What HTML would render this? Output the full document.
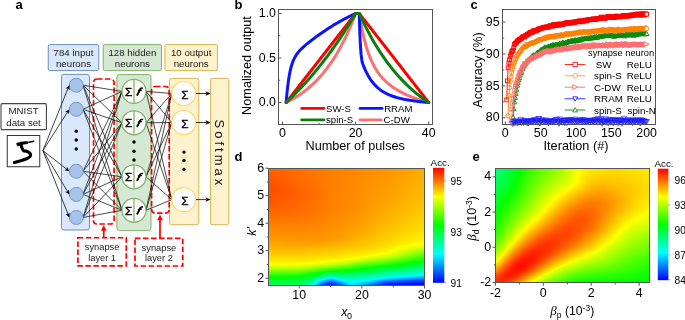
<!DOCTYPE html>
<html><head><meta charset="utf-8">
<style>
html,body{margin:0;padding:0;background:#fff;}
body{width:685px;height:320px;position:relative;overflow:hidden;font-family:"Liberation Sans", sans-serif;}
#mapd{position:absolute;left:268px;top:168px;width:157px;height:118px;
 background:linear-gradient(to bottom,#ff8500 0.8%,#ff8400 9.3%,#ff8300 17.8%,#ff8600 26.3%,#ff8d00 34.7%,#ff9700 43.2%,#ffa400 51.7%,#ffb400 60.2%,#f7d300 68.6%,#eae400 72.9%,#c7f400 77.1%,#88ff04 81.4%,#39ff20 85.6%,#0bff64 89.8%,#00dcb8 94.1%,#0089d4 98.3%);}
#mape{position:absolute;left:495px;top:168px;width:155px;height:115px;
 background:linear-gradient(135deg,#00ff6b 0%,#00ff29 8.3%,#31ff00 16.7%,#91ff00 25%,#fcff00 33.3%,#ffc900 37.5%,#ff9200 41.7%,#ff6900 45.8%,#ff5300 50%,#ff5700 54.2%,#ff7400 58.3%,#ffa200 62.5%,#ffd900 66.7%,#efff00 70.8%,#baff00 75%,#66ff00 83.3%,#28ff00 91.7%,#00ff00 100%);}
svg text{font-family:"Liberation Sans", sans-serif;}
</style></head><body>
<canvas id="mapd" width="157" height="118"></canvas>
<canvas id="mape" width="155" height="115"></canvas>
<svg width="685" height="320" viewBox="0 0 685 320" style="position:absolute;left:0;top:0">
<defs><linearGradient id="cmap" x1="0" y1="0" x2="0" y2="1">
<stop offset="0" stop-color="#ff0000"/><stop offset="0.25" stop-color="#ffff00"/><stop offset="0.5" stop-color="#00ff00"/><stop offset="0.75" stop-color="#00ffff"/><stop offset="1" stop-color="#0000ff"/>
</linearGradient></defs>
<text x="15.6" y="9.1" font-size="13" font-weight="bold">a</text>
<rect x="48.25" y="44.6" width="50.5" height="26" rx="1.5" fill="#dae8fc" stroke="#6c8ebf" stroke-width="1"/>
<text x="73.5" y="56.3" font-size="9.7" text-anchor="middle" fill="#222">784 input</text>
<text x="73.5" y="66.9" font-size="9.7" text-anchor="middle" fill="#222">neurons</text>
<rect x="103.25" y="44.6" width="58.25" height="26" rx="1.5" fill="#d5e8d4" stroke="#82b366" stroke-width="1"/>
<text x="132.38" y="56.3" font-size="9.7" text-anchor="middle" fill="#222">128 hidden</text>
<text x="132.38" y="66.9" font-size="9.7" text-anchor="middle" fill="#222">neurons</text>
<rect x="164.9" y="44.6" width="52.5" height="26" rx="1.5" fill="#fff2cc" stroke="#d6b656" stroke-width="1"/>
<text x="191.15" y="56.3" font-size="9.7" text-anchor="middle" fill="#222">10 output</text>
<text x="191.15" y="66.9" font-size="9.7" text-anchor="middle" fill="#222">neurons</text>
<rect x="61.5" y="74.4" width="28" height="155.6" rx="2.5" fill="#dae8fc" stroke="#6c8ebf" stroke-width="1"/>
<rect x="116.9" y="74.6" width="34.1" height="156" rx="2.5" fill="#d5e8d4" stroke="#82b366" stroke-width="1"/>
<rect x="169.5" y="78.4" width="29.3" height="146.3" rx="2" fill="#fff2cc" stroke="#d6b656" stroke-width="1"/>
<rect x="210.6" y="78.4" width="18.2" height="146.3" rx="1.5" fill="#fff2cc" stroke="#d6b656" stroke-width="1"/>
<rect x="93.5" y="79" width="20.6" height="145" rx="3.5" fill="none" stroke="#ff0000" stroke-width="1.7" stroke-dasharray="5.5 2.5"/>
<rect x="151.6" y="86.5" width="17.6" height="126.6" rx="3.5" fill="none" stroke="#ff0000" stroke-width="1.7" stroke-dasharray="5.5 2.5"/>
<line x1="83" y1="85.2" x2="122" y2="91.4" stroke="#111" stroke-width="0.75"/>
<line x1="83" y1="85.2" x2="122" y2="122.8" stroke="#111" stroke-width="0.75"/>
<line x1="83" y1="85.2" x2="122" y2="176.8" stroke="#111" stroke-width="0.75"/>
<line x1="83" y1="85.2" x2="122" y2="210.3" stroke="#111" stroke-width="0.75"/>
<line x1="83" y1="109.3" x2="122" y2="91.4" stroke="#111" stroke-width="0.75"/>
<line x1="83" y1="109.3" x2="122" y2="122.8" stroke="#111" stroke-width="0.75"/>
<line x1="83" y1="109.3" x2="122" y2="176.8" stroke="#111" stroke-width="0.75"/>
<line x1="83" y1="109.3" x2="122" y2="210.3" stroke="#111" stroke-width="0.75"/>
<line x1="83" y1="171.25" x2="122" y2="91.4" stroke="#111" stroke-width="0.75"/>
<line x1="83" y1="171.25" x2="122" y2="122.8" stroke="#111" stroke-width="0.75"/>
<line x1="83" y1="171.25" x2="122" y2="176.8" stroke="#111" stroke-width="0.75"/>
<line x1="83" y1="171.25" x2="122" y2="210.3" stroke="#111" stroke-width="0.75"/>
<line x1="83" y1="194.4" x2="122" y2="91.4" stroke="#111" stroke-width="0.75"/>
<line x1="83" y1="194.4" x2="122" y2="122.8" stroke="#111" stroke-width="0.75"/>
<line x1="83" y1="194.4" x2="122" y2="176.8" stroke="#111" stroke-width="0.75"/>
<line x1="83" y1="194.4" x2="122" y2="210.3" stroke="#111" stroke-width="0.75"/>
<line x1="83" y1="217.5" x2="122" y2="91.4" stroke="#111" stroke-width="0.75"/>
<line x1="83" y1="217.5" x2="122" y2="122.8" stroke="#111" stroke-width="0.75"/>
<line x1="83" y1="217.5" x2="122" y2="176.8" stroke="#111" stroke-width="0.75"/>
<line x1="83" y1="217.5" x2="122" y2="210.3" stroke="#111" stroke-width="0.75"/>
<line x1="146" y1="91.4" x2="171.8" y2="93.5" stroke="#111" stroke-width="0.75"/>
<line x1="146" y1="91.4" x2="171.8" y2="122.5" stroke="#111" stroke-width="0.75"/>
<line x1="146" y1="91.4" x2="171.8" y2="199.6" stroke="#111" stroke-width="0.75"/>
<line x1="146" y1="122.8" x2="171.8" y2="93.5" stroke="#111" stroke-width="0.75"/>
<line x1="146" y1="122.8" x2="171.8" y2="122.5" stroke="#111" stroke-width="0.75"/>
<line x1="146" y1="122.8" x2="171.8" y2="199.6" stroke="#111" stroke-width="0.75"/>
<line x1="146" y1="176.8" x2="171.8" y2="93.5" stroke="#111" stroke-width="0.75"/>
<line x1="146" y1="176.8" x2="171.8" y2="122.5" stroke="#111" stroke-width="0.75"/>
<line x1="146" y1="176.8" x2="171.8" y2="199.6" stroke="#111" stroke-width="0.75"/>
<line x1="146" y1="210.3" x2="171.8" y2="93.5" stroke="#111" stroke-width="0.75"/>
<line x1="146" y1="210.3" x2="171.8" y2="122.5" stroke="#111" stroke-width="0.75"/>
<line x1="146" y1="210.3" x2="171.8" y2="199.6" stroke="#111" stroke-width="0.75"/>
<circle cx="76.3" cy="85.2" r="7" fill="#a6c3e9" stroke="#6c8ebf" stroke-width="0.9"/>
<circle cx="76.3" cy="109.3" r="7" fill="#a6c3e9" stroke="#6c8ebf" stroke-width="0.9"/>
<circle cx="76.3" cy="171.25" r="7" fill="#a6c3e9" stroke="#6c8ebf" stroke-width="0.9"/>
<circle cx="76.3" cy="194.4" r="7" fill="#a6c3e9" stroke="#6c8ebf" stroke-width="0.9"/>
<circle cx="76.3" cy="217.5" r="7" fill="#a6c3e9" stroke="#6c8ebf" stroke-width="0.9"/>
<circle cx="76.25" cy="131.25" r="1.7" fill="#000"/>
<circle cx="76.25" cy="140" r="1.7" fill="#000"/>
<circle cx="76.25" cy="149" r="1.7" fill="#000"/>
<circle cx="134" cy="91.4" r="12" fill="#fff" stroke="#82b366" stroke-width="1.3"/>
<line x1="134" y1="79.4" x2="134" y2="103.4" stroke="#82b366" stroke-width="1.3"/>
<text x="128.55" y="95.7" font-size="11.6" text-anchor="middle" stroke="#000" stroke-width="0.45">&#931;</text>
<path d="M137.3 94.9 C138.3 93.6 139.3 90.8 140.2 89.1 C140.8 88.1 141.6 87.8 142.5 88.1 M138.5 90.5 L141.3 90.2" fill="none" stroke="#000" stroke-width="1.45" stroke-linecap="round"/>
<path d="M137.3 94.9 C138.3 93.6 139.3 90.8 140.2 89.1" fill="none" stroke="#000" stroke-width="1.65" stroke-linecap="round"/>
<circle cx="134" cy="122.8" r="12" fill="#fff" stroke="#82b366" stroke-width="1.3"/>
<line x1="134" y1="110.8" x2="134" y2="134.8" stroke="#82b366" stroke-width="1.3"/>
<text x="128.55" y="127.1" font-size="11.6" text-anchor="middle" stroke="#000" stroke-width="0.45">&#931;</text>
<path d="M137.3 126.3 C138.3 125 139.3 122.2 140.2 120.5 C140.8 119.5 141.6 119.2 142.5 119.5 M138.5 121.9 L141.3 121.6" fill="none" stroke="#000" stroke-width="1.45" stroke-linecap="round"/>
<path d="M137.3 126.3 C138.3 125 139.3 122.2 140.2 120.5" fill="none" stroke="#000" stroke-width="1.65" stroke-linecap="round"/>
<circle cx="134" cy="176.8" r="12" fill="#fff" stroke="#82b366" stroke-width="1.3"/>
<line x1="134" y1="164.8" x2="134" y2="188.8" stroke="#82b366" stroke-width="1.3"/>
<text x="128.55" y="181.1" font-size="11.6" text-anchor="middle" stroke="#000" stroke-width="0.45">&#931;</text>
<path d="M137.3 180.3 C138.3 179 139.3 176.2 140.2 174.5 C140.8 173.5 141.6 173.2 142.5 173.5 M138.5 175.9 L141.3 175.6" fill="none" stroke="#000" stroke-width="1.45" stroke-linecap="round"/>
<path d="M137.3 180.3 C138.3 179 139.3 176.2 140.2 174.5" fill="none" stroke="#000" stroke-width="1.65" stroke-linecap="round"/>
<circle cx="134" cy="210.3" r="12" fill="#fff" stroke="#82b366" stroke-width="1.3"/>
<line x1="134" y1="198.3" x2="134" y2="222.3" stroke="#82b366" stroke-width="1.3"/>
<text x="128.55" y="214.6" font-size="11.6" text-anchor="middle" stroke="#000" stroke-width="0.45">&#931;</text>
<path d="M137.3 213.8 C138.3 212.5 139.3 209.7 140.2 208 C140.8 207 141.6 206.7 142.5 207 M138.5 209.4 L141.3 209.1" fill="none" stroke="#000" stroke-width="1.45" stroke-linecap="round"/>
<path d="M137.3 213.8 C138.3 212.5 139.3 209.7 140.2 208" fill="none" stroke="#000" stroke-width="1.65" stroke-linecap="round"/>
<circle cx="134" cy="142" r="1.7" fill="#000"/>
<circle cx="134" cy="151.25" r="1.7" fill="#000"/>
<circle cx="134" cy="160" r="1.7" fill="#000"/>
<circle cx="183.8" cy="93.5" r="12" fill="#fff" stroke="#ffd966" stroke-width="1.2"/>
<text x="184.9" y="98.8" font-size="11.8" text-anchor="middle" stroke="#000" stroke-width="0.3">&#931;</text>
<line x1="196" y1="93.5" x2="206.5" y2="93.5" stroke="#000" stroke-width="0.8"/>
<path d="M210.6 93.5 L205.6 91.3 L206.6 93.5 L205.6 95.7 Z" fill="#000"/>
<circle cx="183.8" cy="122.5" r="12" fill="#fff" stroke="#ffd966" stroke-width="1.2"/>
<text x="184.9" y="127.8" font-size="11.8" text-anchor="middle" stroke="#000" stroke-width="0.3">&#931;</text>
<line x1="196" y1="122.5" x2="206.5" y2="122.5" stroke="#000" stroke-width="0.8"/>
<path d="M210.6 122.5 L205.6 120.3 L206.6 122.5 L205.6 124.7 Z" fill="#000"/>
<circle cx="183.8" cy="199.6" r="12" fill="#fff" stroke="#ffd966" stroke-width="1.2"/>
<text x="184.9" y="204.9" font-size="11.8" text-anchor="middle" stroke="#000" stroke-width="0.3">&#931;</text>
<line x1="196" y1="199.6" x2="206.5" y2="199.6" stroke="#000" stroke-width="0.8"/>
<path d="M210.6 199.6 L205.6 197.4 L206.6 199.6 L205.6 201.79999999999998 Z" fill="#000"/>
<circle cx="184" cy="152.1" r="1.7" fill="#000"/>
<circle cx="184" cy="160.5" r="1.7" fill="#000"/>
<circle cx="184" cy="169.5" r="1.7" fill="#000"/>
<text transform="translate(215.1 119.6) rotate(90)" font-size="13" letter-spacing="3" fill="#111">Softmax</text>
<rect x="1" y="103.6" width="45.4" height="26" rx="1.2" fill="#fff" stroke="#444" stroke-width="1.1"/>
<text x="23.6" y="114.4" font-size="9.7" text-anchor="middle" fill="#222">MNIST</text>
<text x="23.6" y="125.6" font-size="9.7" text-anchor="middle" fill="#222">data set</text>
<rect x="7.25" y="135.5" width="32.5" height="31.25" fill="#fff" stroke="#333" stroke-width="1"/>
<path d="M16.6 143.3 L21.5 142 L27.6 141.5 L28 143.4 L22 144.6 L17.4 146.1 Z" fill="#000" stroke="#000" stroke-width="0.6" stroke-linejoin="round"/>
<path d="M28.9 142.3 L33.8 141.2" fill="none" stroke="#000" stroke-width="1.4" stroke-linecap="round"/>
<path d="M21.1 144.8 C21.6 147.2 22.2 149.6 23.6 150.9 C27 150.8 30.8 152.6 30.6 155.4 C30.4 158 24 160 14.4 162.5" fill="none" stroke="#000" stroke-width="3.05" stroke-linecap="round" stroke-linejoin="round"/>
<line x1="42.9" y1="150.6" x2="67.92" y2="88.63" stroke="#111" stroke-width="0.8"/>
<path d="M69.3 85.2 L69.56 90.16 L67.99 88.45 L65.67 88.59 Z" fill="#000"/>
<line x1="42.9" y1="150.6" x2="67.31" y2="112.42" stroke="#111" stroke-width="0.8"/>
<path d="M69.3 109.3 L68.65 114.22 L67.41 112.25 L65.11 111.96 Z" fill="#000"/>
<line x1="42.9" y1="150.6" x2="66.39" y2="168.97" stroke="#111" stroke-width="0.8"/>
<path d="M69.3 171.25 L64.46 170.13 L66.54 169.09 L67.05 166.82 Z" fill="#000"/>
<line x1="42.9" y1="150.6" x2="67.39" y2="191.23" stroke="#111" stroke-width="0.8"/>
<path d="M69.3 194.4 L65.18 191.63 L67.49 191.4 L68.78 189.46 Z" fill="#000"/>
<line x1="42.9" y1="150.6" x2="67.94" y2="214.06" stroke="#111" stroke-width="0.8"/>
<path d="M69.3 217.5 L65.69 214.08 L68.02 214.24 L69.6 212.54 Z" fill="#000"/>
<rect x="77.9" y="237.75" width="48.4" height="28.2" fill="none" stroke="#ff0000" stroke-width="1.7" stroke-dasharray="5.5 2.5"/>
<text x="102.1" y="250.3" font-size="9.3" text-anchor="middle" fill="#222">synapse</text>
<text x="102.1" y="260.8" font-size="9.3" text-anchor="middle" fill="#222">layer 1</text>
<rect x="135" y="238.4" width="47.75" height="27.6" fill="none" stroke="#ff0000" stroke-width="1.7" stroke-dasharray="5.5 2.5"/>
<text x="158.9" y="251" font-size="9.3" text-anchor="middle" fill="#222">synapse</text>
<text x="158.9" y="261.4" font-size="9.3" text-anchor="middle" fill="#222">layer 2</text>
<line x1="103.75" y1="237.75" x2="103.75" y2="229.5" stroke="#ff0000" stroke-width="1.7"/>
<path d="M103.75 225.2 L100.9 230.8 L106.6 230.8 Z" fill="#ff0000"/>
<line x1="160" y1="238.4" x2="160" y2="219" stroke="#ff0000" stroke-width="1.7"/>
<path d="M160 214.6 L157.15 220.2 L162.85 220.2 Z" fill="#ff0000"/>
<text x="234.5" y="9.3" font-size="13" font-weight="bold">b</text>
<rect x="278.5" y="9.5" width="154" height="115" fill="none" stroke="#555" stroke-width="1"/>
<line x1="278.5" y1="102.5" x2="281.5" y2="102.5" stroke="#555" stroke-width="1"/>
<text x="276" y="106.1" font-size="12.4" text-anchor="end">0.0</text>
<line x1="278.5" y1="58" x2="281.5" y2="58" stroke="#555" stroke-width="1"/>
<text x="276" y="61.6" font-size="12.4" text-anchor="end">0.5</text>
<line x1="278.5" y1="13.5" x2="281.5" y2="13.5" stroke="#555" stroke-width="1"/>
<text x="276" y="17.1" font-size="12.4" text-anchor="end">1.0</text>
<line x1="278.5" y1="80.25" x2="280.2" y2="80.25" stroke="#555" stroke-width="1"/>
<line x1="278.5" y1="35.75" x2="280.2" y2="35.75" stroke="#555" stroke-width="1"/>
<line x1="282.5" y1="124.5" x2="282.5" y2="121.5" stroke="#555" stroke-width="1"/>
<text x="282.5" y="136.9" font-size="12.4" text-anchor="middle">0</text>
<line x1="355.6" y1="124.5" x2="355.6" y2="121.5" stroke="#555" stroke-width="1"/>
<text x="355.6" y="136.9" font-size="12.4" text-anchor="middle">20</text>
<line x1="428.7" y1="124.5" x2="428.7" y2="121.5" stroke="#555" stroke-width="1"/>
<text x="428.7" y="136.9" font-size="12.4" text-anchor="middle">40</text>
<line x1="319.05" y1="124.5" x2="319.05" y2="122.8" stroke="#555" stroke-width="1"/>
<line x1="392.15" y1="124.5" x2="392.15" y2="122.8" stroke="#555" stroke-width="1"/>
<text transform="translate(251.3 65.5) rotate(-90)" font-size="12.7" text-anchor="middle">Nomalized output</text>
<text x="355.2" y="149.9" font-size="12.7" text-anchor="middle">Number of pulses</text>
<polyline points="286.15,102.5 286.89,102.14 287.62,101.78 288.35,101.4 289.08,101.02 289.81,100.64 290.54,100.25 291.27,99.85 292,99.44 292.73,99.02 293.46,98.6 294.2,98.17 294.93,97.73 295.66,97.29 296.39,96.84 297.12,96.38 297.85,95.91 298.58,95.43 299.31,94.94 300.04,94.44 300.77,93.94 301.51,93.43 302.24,92.9 302.97,92.37 303.7,91.83 304.43,91.28 305.16,90.71 305.89,90.14 306.62,89.56 307.35,88.97 308.08,88.36 308.82,87.75 309.55,87.12 310.28,86.49 311.01,85.84 311.74,85.18 312.47,84.51 313.2,83.82 313.93,83.13 314.66,82.42 315.39,81.7 316.13,80.96 316.86,80.21 317.59,79.45 318.32,78.68 319.05,77.89 319.78,77.08 320.51,76.27 321.24,75.43 321.97,74.58 322.7,73.72 323.44,72.84 324.17,71.95 324.9,71.04 325.63,70.11 326.36,69.17 327.09,68.2 327.82,67.23 328.55,66.23 329.28,65.22 330.01,64.18 330.75,63.13 331.48,62.06 332.21,60.97 332.94,59.86 333.67,58.74 334.4,57.59 335.13,56.42 335.86,55.22 336.59,54.01 337.32,52.78 338.06,51.52 338.79,50.24 339.52,48.94 340.25,47.61 340.98,46.26 341.71,44.89 342.44,43.49 343.17,42.06 343.9,40.61 344.63,39.13 345.37,37.63 346.1,36.1 346.83,34.54 347.56,32.96 348.29,31.34 349.02,29.7 349.75,28.02 350.48,26.32 351.21,24.59 351.94,22.82 352.68,21.02 353.41,19.19 354.14,17.33 354.87,15.43 355.6,13.5 359.25,13.5 359.99,18.03 360.72,22.25 361.45,26.18 362.18,29.86 362.91,33.3 363.64,36.52 364.37,39.53 365.1,42.35 365.83,45 366.56,47.48 367.3,49.82 368.03,52.01 368.76,54.08 369.49,56.03 370.22,57.88 370.95,59.62 371.68,61.26 372.41,62.82 373.14,64.3 373.88,65.7 374.61,67.03 375.34,68.3 376.07,69.5 376.8,70.66 377.53,71.75 378.26,72.8 378.99,73.81 379.72,74.77 380.45,75.69 381.19,76.57 381.92,77.42 382.65,78.24 383.38,79.02 384.11,79.78 384.84,80.51 385.57,81.22 386.3,81.9 387.03,82.56 387.76,83.19 388.5,83.81 389.23,84.41 389.96,84.99 390.69,85.56 391.42,86.1 392.15,86.64 392.88,87.15 393.61,87.66 394.34,88.15 395.07,88.63 395.81,89.09 396.54,89.55 397.27,89.99 398,90.42 398.73,90.85 399.46,91.26 400.19,91.66 400.92,92.06 401.65,92.44 402.38,92.82 403.12,93.19 403.85,93.55 404.58,93.91 405.31,94.25 406.04,94.59 406.77,94.93 407.5,95.25 408.23,95.57 408.96,95.89 409.69,96.2 410.43,96.5 411.16,96.79 411.89,97.09 412.62,97.37 413.35,97.65 414.08,97.93 414.81,98.2 415.54,98.46 416.27,98.72 417,98.98 417.74,99.23 418.47,99.47 419.2,99.71 419.93,99.95 420.66,100.19 421.39,100.42 422.12,100.64 422.85,100.86 423.58,101.08 424.31,101.29 425.04,101.5 425.78,101.71 426.51,101.91 427.24,102.11 427.97,102.31 428.7,102.5" fill="none" stroke="#ff6f6f" stroke-width="3" stroke-linejoin="round" stroke-linecap="round"/>
<polyline points="286.15,102.5 286.89,94.11 287.62,87.19 288.35,81.45 289.08,76.68 289.81,72.69 290.54,69.34 291.27,66.49 292,64.07 292.73,61.98 293.46,60.17 294.2,58.58 294.93,57.17 295.66,55.91 296.39,54.78 297.12,53.74 297.85,52.78 298.58,51.89 299.31,51.05 300.04,50.25 300.77,49.5 301.51,48.77 302.24,48.07 302.97,47.39 303.7,46.73 304.43,46.08 305.16,45.45 305.89,44.82 306.62,44.21 307.35,43.61 308.08,43.01 308.82,42.42 309.55,41.84 310.28,41.27 311.01,40.7 311.74,40.13 312.47,39.57 313.2,39.01 313.93,38.46 314.66,37.92 315.39,37.37 316.13,36.84 316.86,36.3 317.59,35.77 318.32,35.25 319.05,34.72 319.78,34.21 320.51,33.69 321.24,33.18 321.97,32.67 322.7,32.17 323.44,31.67 324.17,31.18 324.9,30.69 325.63,30.2 326.36,29.72 327.09,29.24 327.82,28.76 328.55,28.29 329.28,27.82 330.01,27.36 330.75,26.9 331.48,26.44 332.21,25.99 332.94,25.54 333.67,25.09 334.4,24.65 335.13,24.21 335.86,23.78 336.59,23.35 337.32,22.92 338.06,22.5 338.79,22.08 339.52,21.67 340.25,21.26 340.98,20.85 341.71,20.45 342.44,20.05 343.17,19.65 343.9,19.26 344.63,18.87 345.37,18.48 346.1,18.1 346.83,17.73 347.56,17.35 348.29,16.99 349.02,16.62 349.75,16.26 350.48,15.9 351.21,15.55 351.94,15.2 352.68,14.85 353.41,14.51 354.14,14.17 354.87,13.83 355.6,13.5 359.25,13.5 359.8,32.26 360.35,44.48 361.08,54.42 361.81,60.04 362.36,62.58 362.91,64.23 363.64,66.11 364.37,67.88 365.1,69.55 365.83,71.14 366.56,72.63 367.3,74.04 368.03,75.38 368.76,76.64 369.49,77.84 370.22,78.97 370.95,80.05 371.68,81.06 372.41,82.03 373.14,82.94 373.88,83.81 374.61,84.63 375.34,85.41 376.07,86.16 376.8,86.86 377.53,87.53 378.26,88.17 378.99,88.78 379.72,89.36 380.45,89.91 381.19,90.43 381.92,90.93 382.65,91.41 383.38,91.87 384.11,92.3 384.84,92.72 385.57,93.12 386.3,93.5 387.03,93.86 387.76,94.21 388.5,94.54 389.23,94.86 389.96,95.17 390.69,95.46 391.42,95.74 392.15,96.02 392.88,96.28 393.61,96.53 394.34,96.77 395.07,97 395.81,97.22 396.54,97.44 397.27,97.64 398,97.84 398.73,98.04 399.46,98.22 400.19,98.4 400.92,98.58 401.65,98.74 402.38,98.91 403.12,99.06 403.85,99.22 404.58,99.36 405.31,99.51 406.04,99.64 406.77,99.78 407.5,99.91 408.23,100.03 408.96,100.16 409.69,100.28 410.43,100.39 411.16,100.5 411.89,100.61 412.62,100.72 413.35,100.82 414.08,100.92 414.81,101.02 415.54,101.12 416.27,101.21 417,101.3 417.74,101.39 418.47,101.48 419.2,101.56 419.93,101.64 420.66,101.72 421.39,101.8 422.12,101.88 422.85,101.95 423.58,102.03 424.31,102.1 425.04,102.17 425.78,102.24 426.51,102.31 427.24,102.37 427.97,102.44 428.7,102.5" fill="none" stroke="#0a14ff" stroke-width="3" stroke-linejoin="round" stroke-linecap="round"/>
<polyline points="286.15,102.5 286.89,101.56 287.62,100.63 288.35,99.69 289.08,98.75 289.81,97.82 290.54,96.88 291.27,95.94 292,95.01 292.73,94.07 293.46,93.13 294.2,92.19 294.93,91.26 295.66,90.32 296.39,89.38 297.12,88.45 297.85,87.51 298.58,86.57 299.31,85.64 300.04,84.7 300.77,83.76 301.51,82.83 302.24,81.89 302.97,80.95 303.7,80.02 304.43,79.08 305.16,78.14 305.89,77.21 306.62,76.27 307.35,75.33 308.08,74.39 308.82,73.46 309.55,72.52 310.28,71.58 311.01,70.65 311.74,69.71 312.47,68.77 313.2,67.84 313.93,66.9 314.66,65.96 315.39,65.03 316.13,64.09 316.86,63.15 317.59,62.22 318.32,61.28 319.05,60.34 319.78,59.41 320.51,58.47 321.24,57.53 321.97,56.59 322.7,55.66 323.44,54.72 324.17,53.78 324.9,52.85 325.63,51.91 326.36,50.97 327.09,50.04 327.82,49.1 328.55,48.16 329.28,47.23 330.01,46.29 330.75,45.35 331.48,44.42 332.21,43.48 332.94,42.54 333.67,41.61 334.4,40.67 335.13,39.73 335.86,38.79 336.59,37.86 337.32,36.92 338.06,35.98 338.79,35.05 339.52,34.11 340.25,33.17 340.98,32.24 341.71,31.3 342.44,30.36 343.17,29.43 343.9,28.49 344.63,27.55 345.37,26.62 346.1,25.68 346.83,24.74 347.56,23.81 348.29,22.87 349.02,21.93 349.75,20.99 350.48,20.06 351.21,19.12 351.94,18.18 352.68,17.25 353.41,16.31 354.14,15.37 354.87,14.44 355.6,13.5 359.25,13.5 359.99,14.44 360.72,15.37 361.45,16.31 362.18,17.25 362.91,18.18 363.64,19.12 364.37,20.06 365.1,20.99 365.83,21.93 366.56,22.87 367.3,23.81 368.03,24.74 368.76,25.68 369.49,26.62 370.22,27.55 370.95,28.49 371.68,29.43 372.41,30.36 373.14,31.3 373.88,32.24 374.61,33.17 375.34,34.11 376.07,35.05 376.8,35.98 377.53,36.92 378.26,37.86 378.99,38.79 379.72,39.73 380.45,40.67 381.19,41.61 381.92,42.54 382.65,43.48 383.38,44.42 384.11,45.35 384.84,46.29 385.57,47.23 386.3,48.16 387.03,49.1 387.76,50.04 388.5,50.97 389.23,51.91 389.96,52.85 390.69,53.78 391.42,54.72 392.15,55.66 392.88,56.59 393.61,57.53 394.34,58.47 395.07,59.41 395.81,60.34 396.54,61.28 397.27,62.22 398,63.15 398.73,64.09 399.46,65.03 400.19,65.96 400.92,66.9 401.65,67.84 402.38,68.77 403.12,69.71 403.85,70.65 404.58,71.58 405.31,72.52 406.04,73.46 406.77,74.39 407.5,75.33 408.23,76.27 408.96,77.21 409.69,78.14 410.43,79.08 411.16,80.02 411.89,80.95 412.62,81.89 413.35,82.83 414.08,83.76 414.81,84.7 415.54,85.64 416.27,86.57 417,87.51 417.74,88.45 418.47,89.38 419.2,90.32 419.93,91.26 420.66,92.19 421.39,93.13 422.12,94.07 422.85,95.01 423.58,95.94 424.31,96.88 425.04,97.82 425.78,98.75 426.51,99.69 427.24,100.63 427.97,101.56 428.7,102.5" fill="none" stroke="#ff0000" stroke-width="3" stroke-linejoin="round" stroke-linecap="round"/>
<polyline points="286.15,102.5 286.89,101.81 287.62,101.12 288.35,100.43 289.08,99.73 289.81,99.03 290.54,98.32 291.27,97.61 292,96.89 292.73,96.17 293.46,95.44 294.2,94.71 294.93,93.98 295.66,93.24 296.39,92.49 297.12,91.74 297.85,90.99 298.58,90.23 299.31,89.47 300.04,88.7 300.77,87.92 301.51,87.15 302.24,86.36 302.97,85.57 303.7,84.78 304.43,83.98 305.16,83.18 305.89,82.37 306.62,81.56 307.35,80.74 308.08,79.92 308.82,79.09 309.55,78.25 310.28,77.41 311.01,76.57 311.74,75.72 312.47,74.86 313.2,74 313.93,73.14 314.66,72.26 315.39,71.39 316.13,70.5 316.86,69.61 317.59,68.72 318.32,67.82 319.05,66.91 319.78,66 320.51,65.09 321.24,64.16 321.97,63.23 322.7,62.3 323.44,61.36 324.17,60.41 324.9,59.46 325.63,58.5 326.36,57.54 327.09,56.57 327.82,55.59 328.55,54.61 329.28,53.62 330.01,52.62 330.75,51.62 331.48,50.61 332.21,49.6 332.94,48.58 333.67,47.55 334.4,46.51 335.13,45.47 335.86,44.43 336.59,43.37 337.32,42.31 338.06,41.24 338.79,40.17 339.52,39.09 340.25,38 340.98,36.91 341.71,35.81 342.44,34.7 343.17,33.58 343.9,32.46 344.63,31.33 345.37,30.19 346.1,29.05 346.83,27.9 347.56,26.74 348.29,25.57 349.02,24.4 349.75,23.22 350.48,22.03 351.21,20.84 351.94,19.63 352.68,18.42 353.41,17.2 354.14,15.98 354.87,14.74 355.6,13.5 359.25,13.5 359.99,15.1 360.72,16.68 361.45,18.24 362.18,19.78 362.91,21.3 363.64,22.8 364.37,24.28 365.1,25.74 365.83,27.19 366.56,28.61 367.3,30.02 368.03,31.41 368.76,32.79 369.49,34.14 370.22,35.48 370.95,36.81 371.68,38.11 372.41,39.4 373.14,40.68 373.88,41.93 374.61,43.17 375.34,44.4 376.07,45.61 376.8,46.81 377.53,47.99 378.26,49.15 378.99,50.3 379.72,51.44 380.45,52.56 381.19,53.67 381.92,54.77 382.65,55.85 383.38,56.91 384.11,57.97 384.84,59.01 385.57,60.04 386.3,61.05 387.03,62.05 387.76,63.04 388.5,64.02 389.23,64.98 389.96,65.93 390.69,66.88 391.42,67.8 392.15,68.72 392.88,69.63 393.61,70.52 394.34,71.4 395.07,72.28 395.81,73.14 396.54,73.99 397.27,74.83 398,75.65 398.73,76.47 399.46,77.28 400.19,78.08 400.92,78.87 401.65,79.65 402.38,80.41 403.12,81.17 403.85,81.92 404.58,82.66 405.31,83.39 406.04,84.11 406.77,84.83 407.5,85.53 408.23,86.22 408.96,86.91 409.69,87.59 410.43,88.26 411.16,88.92 411.89,89.57 412.62,90.21 413.35,90.85 414.08,91.47 414.81,92.09 415.54,92.71 416.27,93.31 417,93.91 417.74,94.5 418.47,95.08 419.2,95.65 419.93,96.22 420.66,96.78 421.39,97.34 422.12,97.88 422.85,98.42 423.58,98.95 424.31,99.48 425.04,100 425.78,100.51 426.51,101.02 427.24,101.52 427.97,102.01 428.7,102.5" fill="none" stroke="#0a800a" stroke-width="3" stroke-linejoin="round" stroke-linecap="round"/>
<line x1="301.6" y1="108.4" x2="324.0" y2="108.4" stroke="#ff0000" stroke-width="2.6" stroke-linecap="round"/>
<text x="326" y="111.7" font-size="9.6">SW-S</text>
<line x1="359.9" y1="108.4" x2="382.2" y2="108.4" stroke="#0a14ff" stroke-width="2.6" stroke-linecap="round"/>
<text x="384.2" y="111.7" font-size="9.6">RRAM</text>
<line x1="301.6" y1="119.9" x2="324.0" y2="119.9" stroke="#0a800a" stroke-width="2.6" stroke-linecap="round"/>
<text x="326" y="123.0" font-size="9.6">spin-S</text>
<line x1="359.9" y1="119.9" x2="381.3" y2="119.9" stroke="#ff6f6f" stroke-width="2.6" stroke-linecap="round"/>
<text x="383.6" y="123.0" font-size="9.6">C-DW</text>
<text x="470.6" y="9" font-size="13" font-weight="bold">c</text>
<svg x="500" y="7" width="158" height="120" overflow="hidden"><g transform="translate(-500 -7)">
<polyline points="513.07,116.94 513.78,108.79 514.49,101.95 515.2,97.58 515.9,93.76 516.61,89.6 517.32,85.4 518.02,82.88 518.73,79.93 519.44,77.75 520.14,75.27 520.85,73.06 521.56,72 522.26,69.07 522.97,67.5 523.68,65.85 524.38,65.23 525.09,63.71 525.8,62.61 526.5,61.73 527.21,60.71 527.92,60.22 528.62,59.34 529.33,59.25 530.04,58.23 530.74,57.62 531.45,57.53 532.16,55.92 532.87,55.91 533.57,55.1 534.28,55.41 534.99,54.97 535.69,54.22 536.4,53.55 537.11,52.67 537.81,52.31 538.52,52.09 539.23,51.81 539.93,51.11 540.64,49.84 541.35,50.26 542.05,49.32 542.76,48.77 543.47,49.17 544.17,48.04 544.88,47.04 545.59,48.3 546.29,47.33 547,47.03 547.71,47.14 548.41,46.35 549.12,46.4 549.83,46.83 550.54,45.62 551.24,45.5 551.95,45.19 552.66,44.78 553.36,45.08 554.07,45.01 554.78,45.47 555.48,44.44 556.19,44.82 556.9,44.58 557.6,44.78 558.31,44.48 559.02,44.12 559.72,43.15 560.43,44.47 561.14,44.06 561.84,43.15 562.55,42.46 563.26,42.7 563.96,43.66 564.67,43.79 565.38,42.36 566.08,42.68 566.79,42.7 567.5,41.6 568.21,41.39 568.91,41.66 569.62,41.47 570.33,41.23 571.03,40.57 571.74,40.86 572.45,40.76 573.15,40.6 573.86,41.4 574.57,39.99 575.27,39.99 575.98,40.05 576.69,41.04 577.39,40.31 578.1,39.52 578.81,40.58 579.51,39.73 580.22,39.07 580.93,39.99 581.63,38.56 582.34,38.92 583.05,39.11 583.75,38.78 584.46,38.52 585.17,38.64 585.88,38.07 586.58,38.76 587.29,38.54 588,37.78 588.7,38.12 589.41,38.42 590.12,37.49 590.82,37.15 591.53,37.9 592.24,38.21 592.94,37.55 593.65,37.45 594.36,37.41 595.06,36.55 595.77,37.53 596.48,36.41 597.18,37.44 597.89,37.12 598.6,36.39 599.3,36.07 600.01,36.1 600.72,36.23 601.42,36.22 602.13,36.12 602.84,35.84 603.55,36.08 604.25,35.79 604.96,35.56 605.67,35.78 606.37,35.41 607.08,35.47 607.79,34.79 608.49,35.51 609.2,35.82 609.91,35.76 610.61,35.57 611.32,35.12 612.03,35.65 612.73,35.3 613.44,34.62 614.15,36.56 614.85,35.88 615.56,35.24 616.27,35.15 616.97,35.19 617.68,35.46 618.39,34.94 619.09,35.08 619.8,35.41 620.51,34.04 621.22,34.92 621.92,35.28 622.63,35.03 623.34,35.04 624.04,34.92 624.75,36.06 625.46,35.01 626.16,34.3 626.87,35.22 627.58,34.69 628.28,34.19 628.99,34.18 629.7,33.85 630.4,35.23 631.11,34.59 631.82,34.54 632.52,34.06 633.23,33.81 633.94,35.45 634.64,33.72 635.35,34.81 636.06,33.82 636.76,34.75 637.47,33.96 638.18,33.46 638.89,34.02 639.59,33.83 640.3,33.51 641.01,33.77 641.71,33.83 642.42,33.06 643.13,33.24 643.83,33.8 644.54,32.4 645.25,34.1 645.95,33.18 646.66,33.7" fill="none" stroke="#0a8a0a" stroke-width="0.9"/>
<path d="M513.07 114.66 L510.79 118.76 L515.35 118.76 Z" fill="none" stroke="#0a8a0a" stroke-width="0.9"/>
<path d="M513.78 106.51 L511.5 110.62 L516.06 110.62 Z" fill="none" stroke="#0a8a0a" stroke-width="0.9"/>
<path d="M514.49 99.67 L512.21 103.77 L516.77 103.77 Z" fill="none" stroke="#0a8a0a" stroke-width="0.9"/>
<path d="M515.2 95.3 L512.92 99.41 L517.48 99.41 Z" fill="none" stroke="#0a8a0a" stroke-width="0.9"/>
<path d="M515.9 91.48 L513.62 95.58 L518.18 95.58 Z" fill="none" stroke="#0a8a0a" stroke-width="0.9"/>
<path d="M516.61 87.32 L514.33 91.42 L518.89 91.42 Z" fill="none" stroke="#0a8a0a" stroke-width="0.9"/>
<path d="M517.32 83.12 L515.04 87.23 L519.6 87.23 Z" fill="none" stroke="#0a8a0a" stroke-width="0.9"/>
<path d="M518.02 80.6 L515.74 84.71 L520.3 84.71 Z" fill="none" stroke="#0a8a0a" stroke-width="0.9"/>
<path d="M518.73 77.65 L516.45 81.76 L521.01 81.76 Z" fill="none" stroke="#0a8a0a" stroke-width="0.9"/>
<path d="M519.44 75.47 L517.16 79.57 L521.72 79.57 Z" fill="none" stroke="#0a8a0a" stroke-width="0.9"/>
<path d="M520.14 72.99 L517.86 77.09 L522.42 77.09 Z" fill="none" stroke="#0a8a0a" stroke-width="0.9"/>
<path d="M520.85 70.78 L518.57 74.88 L523.13 74.88 Z" fill="none" stroke="#0a8a0a" stroke-width="0.9"/>
<path d="M521.56 69.72 L519.28 73.83 L523.84 73.83 Z" fill="none" stroke="#0a8a0a" stroke-width="0.9"/>
<path d="M522.26 66.79 L519.98 70.9 L524.54 70.9 Z" fill="none" stroke="#0a8a0a" stroke-width="0.9"/>
<path d="M522.97 65.22 L520.69 69.33 L525.25 69.33 Z" fill="none" stroke="#0a8a0a" stroke-width="0.9"/>
<path d="M523.68 63.57 L521.4 67.67 L525.96 67.67 Z" fill="none" stroke="#0a8a0a" stroke-width="0.9"/>
<path d="M524.38 62.95 L522.1 67.05 L526.66 67.05 Z" fill="none" stroke="#0a8a0a" stroke-width="0.9"/>
<path d="M525.09 61.43 L522.81 65.53 L527.37 65.53 Z" fill="none" stroke="#0a8a0a" stroke-width="0.9"/>
<path d="M525.8 60.33 L523.52 64.44 L528.08 64.44 Z" fill="none" stroke="#0a8a0a" stroke-width="0.9"/>
<path d="M526.5 59.45 L524.22 63.55 L528.78 63.55 Z" fill="none" stroke="#0a8a0a" stroke-width="0.9"/>
<path d="M527.21 58.43 L524.93 62.54 L529.49 62.54 Z" fill="none" stroke="#0a8a0a" stroke-width="0.9"/>
<path d="M527.92 57.94 L525.64 62.05 L530.2 62.05 Z" fill="none" stroke="#0a8a0a" stroke-width="0.9"/>
<path d="M528.62 57.06 L526.34 61.16 L530.9 61.16 Z" fill="none" stroke="#0a8a0a" stroke-width="0.9"/>
<path d="M529.33 56.97 L527.05 61.07 L531.61 61.07 Z" fill="none" stroke="#0a8a0a" stroke-width="0.9"/>
<path d="M530.04 55.95 L527.76 60.05 L532.32 60.05 Z" fill="none" stroke="#0a8a0a" stroke-width="0.9"/>
<path d="M530.74 55.34 L528.46 59.44 L533.02 59.44 Z" fill="none" stroke="#0a8a0a" stroke-width="0.9"/>
<path d="M531.45 55.25 L529.17 59.35 L533.73 59.35 Z" fill="none" stroke="#0a8a0a" stroke-width="0.9"/>
<path d="M532.16 53.64 L529.88 57.74 L534.44 57.74 Z" fill="none" stroke="#0a8a0a" stroke-width="0.9"/>
<path d="M532.87 53.63 L530.59 57.73 L535.15 57.73 Z" fill="none" stroke="#0a8a0a" stroke-width="0.9"/>
<path d="M533.57 52.82 L531.29 56.93 L535.85 56.93 Z" fill="none" stroke="#0a8a0a" stroke-width="0.9"/>
<path d="M534.28 53.13 L532 57.23 L536.56 57.23 Z" fill="none" stroke="#0a8a0a" stroke-width="0.9"/>
<path d="M534.99 52.69 L532.71 56.79 L537.27 56.79 Z" fill="none" stroke="#0a8a0a" stroke-width="0.9"/>
<path d="M535.69 51.94 L533.41 56.04 L537.97 56.04 Z" fill="none" stroke="#0a8a0a" stroke-width="0.9"/>
<path d="M536.4 51.27 L534.12 55.37 L538.68 55.37 Z" fill="none" stroke="#0a8a0a" stroke-width="0.9"/>
<path d="M537.11 50.39 L534.83 54.5 L539.39 54.5 Z" fill="none" stroke="#0a8a0a" stroke-width="0.9"/>
<path d="M537.81 50.03 L535.53 54.13 L540.09 54.13 Z" fill="none" stroke="#0a8a0a" stroke-width="0.9"/>
<path d="M538.52 49.81 L536.24 53.92 L540.8 53.92 Z" fill="none" stroke="#0a8a0a" stroke-width="0.9"/>
<path d="M539.23 49.53 L536.95 53.63 L541.51 53.63 Z" fill="none" stroke="#0a8a0a" stroke-width="0.9"/>
<path d="M539.93 48.83 L537.65 52.93 L542.21 52.93 Z" fill="none" stroke="#0a8a0a" stroke-width="0.9"/>
<path d="M540.64 47.56 L538.36 51.66 L542.92 51.66 Z" fill="none" stroke="#0a8a0a" stroke-width="0.9"/>
<path d="M541.35 47.98 L539.07 52.09 L543.63 52.09 Z" fill="none" stroke="#0a8a0a" stroke-width="0.9"/>
<path d="M542.05 47.04 L539.77 51.14 L544.33 51.14 Z" fill="none" stroke="#0a8a0a" stroke-width="0.9"/>
<path d="M542.76 46.49 L540.48 50.6 L545.04 50.6 Z" fill="none" stroke="#0a8a0a" stroke-width="0.9"/>
<path d="M543.47 46.89 L541.19 51 L545.75 51 Z" fill="none" stroke="#0a8a0a" stroke-width="0.9"/>
<path d="M544.17 45.76 L541.89 49.86 L546.45 49.86 Z" fill="none" stroke="#0a8a0a" stroke-width="0.9"/>
<path d="M544.88 44.76 L542.6 48.86 L547.16 48.86 Z" fill="none" stroke="#0a8a0a" stroke-width="0.9"/>
<path d="M545.59 46.02 L543.31 50.13 L547.87 50.13 Z" fill="none" stroke="#0a8a0a" stroke-width="0.9"/>
<path d="M546.29 45.05 L544.01 49.16 L548.57 49.16 Z" fill="none" stroke="#0a8a0a" stroke-width="0.9"/>
<path d="M547 44.75 L544.72 48.85 L549.28 48.85 Z" fill="none" stroke="#0a8a0a" stroke-width="0.9"/>
<path d="M547.71 44.86 L545.43 48.97 L549.99 48.97 Z" fill="none" stroke="#0a8a0a" stroke-width="0.9"/>
<path d="M548.41 44.07 L546.13 48.18 L550.69 48.18 Z" fill="none" stroke="#0a8a0a" stroke-width="0.9"/>
<path d="M549.12 44.12 L546.84 48.23 L551.4 48.23 Z" fill="none" stroke="#0a8a0a" stroke-width="0.9"/>
<path d="M549.83 44.55 L547.55 48.66 L552.11 48.66 Z" fill="none" stroke="#0a8a0a" stroke-width="0.9"/>
<path d="M550.54 43.34 L548.26 47.44 L552.82 47.44 Z" fill="none" stroke="#0a8a0a" stroke-width="0.9"/>
<path d="M551.24 43.22 L548.96 47.32 L553.52 47.32 Z" fill="none" stroke="#0a8a0a" stroke-width="0.9"/>
<path d="M551.95 42.91 L549.67 47.01 L554.23 47.01 Z" fill="none" stroke="#0a8a0a" stroke-width="0.9"/>
<path d="M552.66 42.5 L550.38 46.61 L554.94 46.61 Z" fill="none" stroke="#0a8a0a" stroke-width="0.9"/>
<path d="M553.36 42.8 L551.08 46.91 L555.64 46.91 Z" fill="none" stroke="#0a8a0a" stroke-width="0.9"/>
<path d="M554.07 42.73 L551.79 46.84 L556.35 46.84 Z" fill="none" stroke="#0a8a0a" stroke-width="0.9"/>
<path d="M554.78 43.19 L552.5 47.29 L557.06 47.29 Z" fill="none" stroke="#0a8a0a" stroke-width="0.9"/>
<path d="M555.48 42.16 L553.2 46.27 L557.76 46.27 Z" fill="none" stroke="#0a8a0a" stroke-width="0.9"/>
<path d="M556.19 42.54 L553.91 46.64 L558.47 46.64 Z" fill="none" stroke="#0a8a0a" stroke-width="0.9"/>
<path d="M556.9 42.3 L554.62 46.4 L559.18 46.4 Z" fill="none" stroke="#0a8a0a" stroke-width="0.9"/>
<path d="M557.6 42.5 L555.32 46.6 L559.88 46.6 Z" fill="none" stroke="#0a8a0a" stroke-width="0.9"/>
<path d="M558.31 42.2 L556.03 46.3 L560.59 46.3 Z" fill="none" stroke="#0a8a0a" stroke-width="0.9"/>
<path d="M559.02 41.84 L556.74 45.95 L561.3 45.95 Z" fill="none" stroke="#0a8a0a" stroke-width="0.9"/>
<path d="M559.72 40.87 L557.44 44.97 L562 44.97 Z" fill="none" stroke="#0a8a0a" stroke-width="0.9"/>
<path d="M560.43 42.19 L558.15 46.3 L562.71 46.3 Z" fill="none" stroke="#0a8a0a" stroke-width="0.9"/>
<path d="M561.14 41.78 L558.86 45.89 L563.42 45.89 Z" fill="none" stroke="#0a8a0a" stroke-width="0.9"/>
<path d="M561.84 40.87 L559.56 44.97 L564.12 44.97 Z" fill="none" stroke="#0a8a0a" stroke-width="0.9"/>
<path d="M562.55 40.18 L560.27 44.28 L564.83 44.28 Z" fill="none" stroke="#0a8a0a" stroke-width="0.9"/>
<path d="M563.26 40.42 L560.98 44.52 L565.54 44.52 Z" fill="none" stroke="#0a8a0a" stroke-width="0.9"/>
<path d="M563.96 41.38 L561.68 45.48 L566.24 45.48 Z" fill="none" stroke="#0a8a0a" stroke-width="0.9"/>
<path d="M564.67 41.51 L562.39 45.61 L566.95 45.61 Z" fill="none" stroke="#0a8a0a" stroke-width="0.9"/>
<path d="M565.38 40.08 L563.1 44.18 L567.66 44.18 Z" fill="none" stroke="#0a8a0a" stroke-width="0.9"/>
<path d="M566.08 40.4 L563.8 44.51 L568.36 44.51 Z" fill="none" stroke="#0a8a0a" stroke-width="0.9"/>
<path d="M566.79 40.42 L564.51 44.52 L569.07 44.52 Z" fill="none" stroke="#0a8a0a" stroke-width="0.9"/>
<path d="M567.5 39.32 L565.22 43.43 L569.78 43.43 Z" fill="none" stroke="#0a8a0a" stroke-width="0.9"/>
<path d="M568.21 39.11 L565.93 43.22 L570.49 43.22 Z" fill="none" stroke="#0a8a0a" stroke-width="0.9"/>
<path d="M568.91 39.38 L566.63 43.48 L571.19 43.48 Z" fill="none" stroke="#0a8a0a" stroke-width="0.9"/>
<path d="M569.62 39.19 L567.34 43.29 L571.9 43.29 Z" fill="none" stroke="#0a8a0a" stroke-width="0.9"/>
<path d="M570.33 38.95 L568.05 43.06 L572.61 43.06 Z" fill="none" stroke="#0a8a0a" stroke-width="0.9"/>
<path d="M571.03 38.29 L568.75 42.39 L573.31 42.39 Z" fill="none" stroke="#0a8a0a" stroke-width="0.9"/>
<path d="M571.74 38.58 L569.46 42.68 L574.02 42.68 Z" fill="none" stroke="#0a8a0a" stroke-width="0.9"/>
<path d="M572.45 38.48 L570.17 42.58 L574.73 42.58 Z" fill="none" stroke="#0a8a0a" stroke-width="0.9"/>
<path d="M573.15 38.32 L570.87 42.42 L575.43 42.42 Z" fill="none" stroke="#0a8a0a" stroke-width="0.9"/>
<path d="M573.86 39.12 L571.58 43.23 L576.14 43.23 Z" fill="none" stroke="#0a8a0a" stroke-width="0.9"/>
<path d="M574.57 37.71 L572.29 41.81 L576.85 41.81 Z" fill="none" stroke="#0a8a0a" stroke-width="0.9"/>
<path d="M575.27 37.71 L572.99 41.82 L577.55 41.82 Z" fill="none" stroke="#0a8a0a" stroke-width="0.9"/>
<path d="M575.98 37.77 L573.7 41.87 L578.26 41.87 Z" fill="none" stroke="#0a8a0a" stroke-width="0.9"/>
<path d="M576.69 38.76 L574.41 42.86 L578.97 42.86 Z" fill="none" stroke="#0a8a0a" stroke-width="0.9"/>
<path d="M577.39 38.03 L575.11 42.13 L579.67 42.13 Z" fill="none" stroke="#0a8a0a" stroke-width="0.9"/>
<path d="M578.1 37.24 L575.82 41.35 L580.38 41.35 Z" fill="none" stroke="#0a8a0a" stroke-width="0.9"/>
<path d="M578.81 38.3 L576.53 42.41 L581.09 42.41 Z" fill="none" stroke="#0a8a0a" stroke-width="0.9"/>
<path d="M579.51 37.45 L577.23 41.56 L581.79 41.56 Z" fill="none" stroke="#0a8a0a" stroke-width="0.9"/>
<path d="M580.22 36.79 L577.94 40.89 L582.5 40.89 Z" fill="none" stroke="#0a8a0a" stroke-width="0.9"/>
<path d="M580.93 37.71 L578.65 41.81 L583.21 41.81 Z" fill="none" stroke="#0a8a0a" stroke-width="0.9"/>
<path d="M581.63 36.28 L579.35 40.39 L583.91 40.39 Z" fill="none" stroke="#0a8a0a" stroke-width="0.9"/>
<path d="M582.34 36.64 L580.06 40.74 L584.62 40.74 Z" fill="none" stroke="#0a8a0a" stroke-width="0.9"/>
<path d="M583.05 36.83 L580.77 40.94 L585.33 40.94 Z" fill="none" stroke="#0a8a0a" stroke-width="0.9"/>
<path d="M583.75 36.5 L581.47 40.61 L586.03 40.61 Z" fill="none" stroke="#0a8a0a" stroke-width="0.9"/>
<path d="M584.46 36.24 L582.18 40.34 L586.74 40.34 Z" fill="none" stroke="#0a8a0a" stroke-width="0.9"/>
<path d="M585.17 36.36 L582.89 40.46 L587.45 40.46 Z" fill="none" stroke="#0a8a0a" stroke-width="0.9"/>
<path d="M585.88 35.79 L583.6 39.89 L588.16 39.89 Z" fill="none" stroke="#0a8a0a" stroke-width="0.9"/>
<path d="M586.58 36.48 L584.3 40.59 L588.86 40.59 Z" fill="none" stroke="#0a8a0a" stroke-width="0.9"/>
<path d="M587.29 36.26 L585.01 40.36 L589.57 40.36 Z" fill="none" stroke="#0a8a0a" stroke-width="0.9"/>
<path d="M588 35.5 L585.72 39.6 L590.28 39.6 Z" fill="none" stroke="#0a8a0a" stroke-width="0.9"/>
<path d="M588.7 35.84 L586.42 39.94 L590.98 39.94 Z" fill="none" stroke="#0a8a0a" stroke-width="0.9"/>
<path d="M589.41 36.14 L587.13 40.24 L591.69 40.24 Z" fill="none" stroke="#0a8a0a" stroke-width="0.9"/>
<path d="M590.12 35.21 L587.84 39.31 L592.4 39.31 Z" fill="none" stroke="#0a8a0a" stroke-width="0.9"/>
<path d="M590.82 34.87 L588.54 38.97 L593.1 38.97 Z" fill="none" stroke="#0a8a0a" stroke-width="0.9"/>
<path d="M591.53 35.62 L589.25 39.72 L593.81 39.72 Z" fill="none" stroke="#0a8a0a" stroke-width="0.9"/>
<path d="M592.24 35.93 L589.96 40.03 L594.52 40.03 Z" fill="none" stroke="#0a8a0a" stroke-width="0.9"/>
<path d="M592.94 35.27 L590.66 39.37 L595.22 39.37 Z" fill="none" stroke="#0a8a0a" stroke-width="0.9"/>
<path d="M593.65 35.17 L591.37 39.27 L595.93 39.27 Z" fill="none" stroke="#0a8a0a" stroke-width="0.9"/>
<path d="M594.36 35.13 L592.08 39.24 L596.64 39.24 Z" fill="none" stroke="#0a8a0a" stroke-width="0.9"/>
<path d="M595.06 34.27 L592.78 38.37 L597.34 38.37 Z" fill="none" stroke="#0a8a0a" stroke-width="0.9"/>
<path d="M595.77 35.25 L593.49 39.36 L598.05 39.36 Z" fill="none" stroke="#0a8a0a" stroke-width="0.9"/>
<path d="M596.48 34.13 L594.2 38.23 L598.76 38.23 Z" fill="none" stroke="#0a8a0a" stroke-width="0.9"/>
<path d="M597.18 35.16 L594.9 39.26 L599.46 39.26 Z" fill="none" stroke="#0a8a0a" stroke-width="0.9"/>
<path d="M597.89 34.84 L595.61 38.95 L600.17 38.95 Z" fill="none" stroke="#0a8a0a" stroke-width="0.9"/>
<path d="M598.6 34.11 L596.32 38.22 L600.88 38.22 Z" fill="none" stroke="#0a8a0a" stroke-width="0.9"/>
<path d="M599.3 33.79 L597.02 37.9 L601.58 37.9 Z" fill="none" stroke="#0a8a0a" stroke-width="0.9"/>
<path d="M600.01 33.82 L597.73 37.92 L602.29 37.92 Z" fill="none" stroke="#0a8a0a" stroke-width="0.9"/>
<path d="M600.72 33.95 L598.44 38.05 L603 38.05 Z" fill="none" stroke="#0a8a0a" stroke-width="0.9"/>
<path d="M601.42 33.94 L599.14 38.05 L603.7 38.05 Z" fill="none" stroke="#0a8a0a" stroke-width="0.9"/>
<path d="M602.13 33.84 L599.85 37.95 L604.41 37.95 Z" fill="none" stroke="#0a8a0a" stroke-width="0.9"/>
<path d="M602.84 33.56 L600.56 37.66 L605.12 37.66 Z" fill="none" stroke="#0a8a0a" stroke-width="0.9"/>
<path d="M603.55 33.8 L601.27 37.91 L605.83 37.91 Z" fill="none" stroke="#0a8a0a" stroke-width="0.9"/>
<path d="M604.25 33.51 L601.97 37.61 L606.53 37.61 Z" fill="none" stroke="#0a8a0a" stroke-width="0.9"/>
<path d="M604.96 33.28 L602.68 37.39 L607.24 37.39 Z" fill="none" stroke="#0a8a0a" stroke-width="0.9"/>
<path d="M605.67 33.5 L603.39 37.61 L607.95 37.61 Z" fill="none" stroke="#0a8a0a" stroke-width="0.9"/>
<path d="M606.37 33.13 L604.09 37.24 L608.65 37.24 Z" fill="none" stroke="#0a8a0a" stroke-width="0.9"/>
<path d="M607.08 33.19 L604.8 37.29 L609.36 37.29 Z" fill="none" stroke="#0a8a0a" stroke-width="0.9"/>
<path d="M607.79 32.51 L605.51 36.61 L610.07 36.61 Z" fill="none" stroke="#0a8a0a" stroke-width="0.9"/>
<path d="M608.49 33.23 L606.21 37.34 L610.77 37.34 Z" fill="none" stroke="#0a8a0a" stroke-width="0.9"/>
<path d="M609.2 33.54 L606.92 37.64 L611.48 37.64 Z" fill="none" stroke="#0a8a0a" stroke-width="0.9"/>
<path d="M609.91 33.48 L607.63 37.58 L612.19 37.58 Z" fill="none" stroke="#0a8a0a" stroke-width="0.9"/>
<path d="M610.61 33.29 L608.33 37.39 L612.89 37.39 Z" fill="none" stroke="#0a8a0a" stroke-width="0.9"/>
<path d="M611.32 32.84 L609.04 36.94 L613.6 36.94 Z" fill="none" stroke="#0a8a0a" stroke-width="0.9"/>
<path d="M612.03 33.37 L609.75 37.48 L614.31 37.48 Z" fill="none" stroke="#0a8a0a" stroke-width="0.9"/>
<path d="M612.73 33.02 L610.45 37.12 L615.01 37.12 Z" fill="none" stroke="#0a8a0a" stroke-width="0.9"/>
<path d="M613.44 32.34 L611.16 36.45 L615.72 36.45 Z" fill="none" stroke="#0a8a0a" stroke-width="0.9"/>
<path d="M614.15 34.28 L611.87 38.38 L616.43 38.38 Z" fill="none" stroke="#0a8a0a" stroke-width="0.9"/>
<path d="M614.85 33.6 L612.57 37.71 L617.13 37.71 Z" fill="none" stroke="#0a8a0a" stroke-width="0.9"/>
<path d="M615.56 32.96 L613.28 37.07 L617.84 37.07 Z" fill="none" stroke="#0a8a0a" stroke-width="0.9"/>
<path d="M616.27 32.87 L613.99 36.97 L618.55 36.97 Z" fill="none" stroke="#0a8a0a" stroke-width="0.9"/>
<path d="M616.97 32.91 L614.69 37.01 L619.25 37.01 Z" fill="none" stroke="#0a8a0a" stroke-width="0.9"/>
<path d="M617.68 33.18 L615.4 37.28 L619.96 37.28 Z" fill="none" stroke="#0a8a0a" stroke-width="0.9"/>
<path d="M618.39 32.66 L616.11 36.77 L620.67 36.77 Z" fill="none" stroke="#0a8a0a" stroke-width="0.9"/>
<path d="M619.09 32.8 L616.81 36.91 L621.37 36.91 Z" fill="none" stroke="#0a8a0a" stroke-width="0.9"/>
<path d="M619.8 33.13 L617.52 37.24 L622.08 37.24 Z" fill="none" stroke="#0a8a0a" stroke-width="0.9"/>
<path d="M620.51 31.76 L618.23 35.87 L622.79 35.87 Z" fill="none" stroke="#0a8a0a" stroke-width="0.9"/>
<path d="M621.22 32.64 L618.94 36.75 L623.5 36.75 Z" fill="none" stroke="#0a8a0a" stroke-width="0.9"/>
<path d="M621.92 33 L619.64 37.1 L624.2 37.1 Z" fill="none" stroke="#0a8a0a" stroke-width="0.9"/>
<path d="M622.63 32.75 L620.35 36.85 L624.91 36.85 Z" fill="none" stroke="#0a8a0a" stroke-width="0.9"/>
<path d="M623.34 32.76 L621.06 36.86 L625.62 36.86 Z" fill="none" stroke="#0a8a0a" stroke-width="0.9"/>
<path d="M624.04 32.64 L621.76 36.74 L626.32 36.74 Z" fill="none" stroke="#0a8a0a" stroke-width="0.9"/>
<path d="M624.75 33.78 L622.47 37.89 L627.03 37.89 Z" fill="none" stroke="#0a8a0a" stroke-width="0.9"/>
<path d="M625.46 32.73 L623.18 36.84 L627.74 36.84 Z" fill="none" stroke="#0a8a0a" stroke-width="0.9"/>
<path d="M626.16 32.02 L623.88 36.12 L628.44 36.12 Z" fill="none" stroke="#0a8a0a" stroke-width="0.9"/>
<path d="M626.87 32.94 L624.59 37.05 L629.15 37.05 Z" fill="none" stroke="#0a8a0a" stroke-width="0.9"/>
<path d="M627.58 32.41 L625.3 36.51 L629.86 36.51 Z" fill="none" stroke="#0a8a0a" stroke-width="0.9"/>
<path d="M628.28 31.91 L626 36.01 L630.56 36.01 Z" fill="none" stroke="#0a8a0a" stroke-width="0.9"/>
<path d="M628.99 31.9 L626.71 36.01 L631.27 36.01 Z" fill="none" stroke="#0a8a0a" stroke-width="0.9"/>
<path d="M629.7 31.57 L627.42 35.68 L631.98 35.68 Z" fill="none" stroke="#0a8a0a" stroke-width="0.9"/>
<path d="M630.4 32.95 L628.12 37.06 L632.68 37.06 Z" fill="none" stroke="#0a8a0a" stroke-width="0.9"/>
<path d="M631.11 32.31 L628.83 36.41 L633.39 36.41 Z" fill="none" stroke="#0a8a0a" stroke-width="0.9"/>
<path d="M631.82 32.26 L629.54 36.36 L634.1 36.36 Z" fill="none" stroke="#0a8a0a" stroke-width="0.9"/>
<path d="M632.52 31.78 L630.24 35.89 L634.8 35.89 Z" fill="none" stroke="#0a8a0a" stroke-width="0.9"/>
<path d="M633.23 31.53 L630.95 35.63 L635.51 35.63 Z" fill="none" stroke="#0a8a0a" stroke-width="0.9"/>
<path d="M633.94 33.17 L631.66 37.28 L636.22 37.28 Z" fill="none" stroke="#0a8a0a" stroke-width="0.9"/>
<path d="M634.64 31.44 L632.36 35.55 L636.92 35.55 Z" fill="none" stroke="#0a8a0a" stroke-width="0.9"/>
<path d="M635.35 32.53 L633.07 36.64 L637.63 36.64 Z" fill="none" stroke="#0a8a0a" stroke-width="0.9"/>
<path d="M636.06 31.54 L633.78 35.64 L638.34 35.64 Z" fill="none" stroke="#0a8a0a" stroke-width="0.9"/>
<path d="M636.76 32.47 L634.48 36.57 L639.04 36.57 Z" fill="none" stroke="#0a8a0a" stroke-width="0.9"/>
<path d="M637.47 31.68 L635.19 35.78 L639.75 35.78 Z" fill="none" stroke="#0a8a0a" stroke-width="0.9"/>
<path d="M638.18 31.18 L635.9 35.29 L640.46 35.29 Z" fill="none" stroke="#0a8a0a" stroke-width="0.9"/>
<path d="M638.89 31.74 L636.61 35.84 L641.17 35.84 Z" fill="none" stroke="#0a8a0a" stroke-width="0.9"/>
<path d="M639.59 31.55 L637.31 35.65 L641.87 35.65 Z" fill="none" stroke="#0a8a0a" stroke-width="0.9"/>
<path d="M640.3 31.23 L638.02 35.34 L642.58 35.34 Z" fill="none" stroke="#0a8a0a" stroke-width="0.9"/>
<path d="M641.01 31.49 L638.73 35.59 L643.29 35.59 Z" fill="none" stroke="#0a8a0a" stroke-width="0.9"/>
<path d="M641.71 31.55 L639.43 35.65 L643.99 35.65 Z" fill="none" stroke="#0a8a0a" stroke-width="0.9"/>
<path d="M642.42 30.78 L640.14 34.89 L644.7 34.89 Z" fill="none" stroke="#0a8a0a" stroke-width="0.9"/>
<path d="M643.13 30.96 L640.85 35.06 L645.41 35.06 Z" fill="none" stroke="#0a8a0a" stroke-width="0.9"/>
<path d="M643.83 31.52 L641.55 35.62 L646.11 35.62 Z" fill="none" stroke="#0a8a0a" stroke-width="0.9"/>
<path d="M644.54 30.12 L642.26 34.22 L646.82 34.22 Z" fill="none" stroke="#0a8a0a" stroke-width="0.9"/>
<path d="M645.25 31.82 L642.97 35.92 L647.53 35.92 Z" fill="none" stroke="#0a8a0a" stroke-width="0.9"/>
<path d="M645.95 30.9 L643.67 35 L648.23 35 Z" fill="none" stroke="#0a8a0a" stroke-width="0.9"/>
<path d="M646.66 31.42 L644.38 35.53 L648.94 35.53 Z" fill="#fff" stroke="#0a8a0a" stroke-width="0.9"/>
<polyline points="511.66,120.29 512.37,109.3 513.07,103.34 513.78,98.37 514.49,94.72 515.2,90.67 515.9,86.51 516.61,84.5 517.32,82.25 518.02,80.3 518.73,77.04 519.44,75.39 520.14,73.27 520.85,72.63 521.56,70.7 522.26,69.95 522.97,67.88 523.68,66.34 524.38,66.33 525.09,64.15 525.8,63.7 526.5,63.54 527.21,63.69 527.92,61.55 528.62,61.6 529.33,61.23 530.04,60.2 530.74,59.8 531.45,58.93 532.16,59.68 532.87,58.36 533.57,57.85 534.28,57.52 534.99,57.91 535.69,57.72 536.4,56.5 537.11,56.48 537.81,56.06 538.52,55.07 539.23,55.43 539.93,55.95 540.64,54.71 541.35,55 542.05,53.44 542.76,53.3 543.47,53.36 544.17,52.75 544.88,52.03 545.59,52.22 546.29,51.52 547,51.99 547.71,51.36 548.41,51.02 549.12,50.83 549.83,51.71 550.54,50.89 551.24,51.99 551.95,51.51 552.66,51.77 553.36,50.29 554.07,51.2 554.78,50.53 555.48,50.5 556.19,50.3 556.9,50.44 557.6,49.96 558.31,49.15 559.02,49.82 559.72,49.49 560.43,49.17 561.14,49.6 561.84,49.97 562.55,49.55 563.26,48.72 563.96,49.83 564.67,49.26 565.38,48.45 566.08,48.4 566.79,48.62 567.5,48.13 568.21,48.28 568.91,48.75 569.62,48.79 570.33,48.25 571.03,47.42 571.74,47.96 572.45,47.99 573.15,47.81 573.86,48.02 574.57,47.27 575.27,47.63 575.98,46.82 576.69,47.99 577.39,46.74 578.1,47.13 578.81,47.67 579.51,46.43 580.22,46.83 580.93,47.66 581.63,47.02 582.34,46.45 583.05,46.74 583.75,46.15 584.46,46.12 585.17,46.12 585.88,46.23 586.58,45.74 587.29,46 588,46.05 588.7,47.14 589.41,45.77 590.12,45.55 590.82,46.23 591.53,46.27 592.24,45.15 592.94,46.77 593.65,45.74 594.36,44.83 595.06,46.29 595.77,45.53 596.48,44.96 597.18,45.82 597.89,45.48 598.6,45.29 599.3,46.06 600.01,45.66 600.72,45.46 601.42,45.19 602.13,45.54 602.84,45.57 603.55,45.91 604.25,45.58 604.96,44.99 605.67,45.31 606.37,45.7 607.08,45.67 607.79,44.07 608.49,44.72 609.2,44.91 609.91,46.32 610.61,44.86 611.32,44.89 612.03,44.32 612.73,44.85 613.44,45.04 614.15,44.75 614.85,45.82 615.56,44.46 616.27,44.75 616.97,45.18 617.68,44.24 618.39,44 619.09,45.4 619.8,45.05 620.51,44.61 621.22,44.65 621.92,44.9 622.63,45.15 623.34,43.75 624.04,44.23 624.75,45.22 625.46,45.27 626.16,43.9 626.87,44.21 627.58,43.83 628.28,44.27 628.99,45.02 629.7,44.5 630.4,45.57 631.11,44.93 631.82,44.62 632.52,44.35 633.23,44.9 633.94,44.62 634.64,44.35 635.35,44.38 636.06,44.25 636.76,44.44 637.47,44.67 638.18,44.16 638.89,44.48 639.59,44.86 640.3,44.77 641.01,44.48 641.71,44.52 642.42,44.39 643.13,44.45 643.83,44.37 644.54,44.5 645.25,44.99 645.95,44.24 646.66,43.96" fill="none" stroke="#ff6f6f" stroke-width="0.9"/>
<path d="M514.06 120.29 L509.26 117.89 L509.26 122.69 Z" fill="none" stroke="#ff6f6f" stroke-width="0.9"/>
<path d="M514.77 109.3 L509.97 106.9 L509.97 111.7 Z" fill="none" stroke="#ff6f6f" stroke-width="0.9"/>
<path d="M515.47 103.34 L510.67 100.94 L510.67 105.74 Z" fill="none" stroke="#ff6f6f" stroke-width="0.9"/>
<path d="M516.18 98.37 L511.38 95.97 L511.38 100.77 Z" fill="none" stroke="#ff6f6f" stroke-width="0.9"/>
<path d="M516.89 94.72 L512.09 92.32 L512.09 97.12 Z" fill="none" stroke="#ff6f6f" stroke-width="0.9"/>
<path d="M517.6 90.67 L512.8 88.27 L512.8 93.07 Z" fill="none" stroke="#ff6f6f" stroke-width="0.9"/>
<path d="M518.3 86.51 L513.5 84.11 L513.5 88.91 Z" fill="none" stroke="#ff6f6f" stroke-width="0.9"/>
<path d="M519.01 84.5 L514.21 82.1 L514.21 86.9 Z" fill="none" stroke="#ff6f6f" stroke-width="0.9"/>
<path d="M519.72 82.25 L514.92 79.85 L514.92 84.65 Z" fill="none" stroke="#ff6f6f" stroke-width="0.9"/>
<path d="M520.42 80.3 L515.62 77.9 L515.62 82.7 Z" fill="none" stroke="#ff6f6f" stroke-width="0.9"/>
<path d="M521.13 77.04 L516.33 74.64 L516.33 79.44 Z" fill="none" stroke="#ff6f6f" stroke-width="0.9"/>
<path d="M521.84 75.39 L517.04 72.99 L517.04 77.79 Z" fill="none" stroke="#ff6f6f" stroke-width="0.9"/>
<path d="M522.54 73.27 L517.74 70.87 L517.74 75.67 Z" fill="none" stroke="#ff6f6f" stroke-width="0.9"/>
<path d="M523.25 72.63 L518.45 70.23 L518.45 75.03 Z" fill="none" stroke="#ff6f6f" stroke-width="0.9"/>
<path d="M523.96 70.7 L519.16 68.3 L519.16 73.1 Z" fill="none" stroke="#ff6f6f" stroke-width="0.9"/>
<path d="M524.66 69.95 L519.86 67.55 L519.86 72.35 Z" fill="none" stroke="#ff6f6f" stroke-width="0.9"/>
<path d="M525.37 67.88 L520.57 65.48 L520.57 70.28 Z" fill="none" stroke="#ff6f6f" stroke-width="0.9"/>
<path d="M526.08 66.34 L521.28 63.94 L521.28 68.74 Z" fill="none" stroke="#ff6f6f" stroke-width="0.9"/>
<path d="M526.78 66.33 L521.98 63.93 L521.98 68.73 Z" fill="none" stroke="#ff6f6f" stroke-width="0.9"/>
<path d="M527.49 64.15 L522.69 61.75 L522.69 66.55 Z" fill="none" stroke="#ff6f6f" stroke-width="0.9"/>
<path d="M528.2 63.7 L523.4 61.3 L523.4 66.1 Z" fill="none" stroke="#ff6f6f" stroke-width="0.9"/>
<path d="M528.9 63.54 L524.1 61.14 L524.1 65.94 Z" fill="none" stroke="#ff6f6f" stroke-width="0.9"/>
<path d="M529.61 63.69 L524.81 61.29 L524.81 66.09 Z" fill="none" stroke="#ff6f6f" stroke-width="0.9"/>
<path d="M530.32 61.55 L525.52 59.15 L525.52 63.95 Z" fill="none" stroke="#ff6f6f" stroke-width="0.9"/>
<path d="M531.02 61.6 L526.22 59.2 L526.22 64 Z" fill="none" stroke="#ff6f6f" stroke-width="0.9"/>
<path d="M531.73 61.23 L526.93 58.83 L526.93 63.63 Z" fill="none" stroke="#ff6f6f" stroke-width="0.9"/>
<path d="M532.44 60.2 L527.64 57.8 L527.64 62.6 Z" fill="none" stroke="#ff6f6f" stroke-width="0.9"/>
<path d="M533.14 59.8 L528.34 57.4 L528.34 62.2 Z" fill="none" stroke="#ff6f6f" stroke-width="0.9"/>
<path d="M533.85 58.93 L529.05 56.53 L529.05 61.33 Z" fill="none" stroke="#ff6f6f" stroke-width="0.9"/>
<path d="M534.56 59.68 L529.76 57.28 L529.76 62.08 Z" fill="none" stroke="#ff6f6f" stroke-width="0.9"/>
<path d="M535.27 58.36 L530.47 55.96 L530.47 60.76 Z" fill="none" stroke="#ff6f6f" stroke-width="0.9"/>
<path d="M535.97 57.85 L531.17 55.45 L531.17 60.25 Z" fill="none" stroke="#ff6f6f" stroke-width="0.9"/>
<path d="M536.68 57.52 L531.88 55.12 L531.88 59.92 Z" fill="none" stroke="#ff6f6f" stroke-width="0.9"/>
<path d="M537.39 57.91 L532.59 55.51 L532.59 60.31 Z" fill="none" stroke="#ff6f6f" stroke-width="0.9"/>
<path d="M538.09 57.72 L533.29 55.32 L533.29 60.12 Z" fill="none" stroke="#ff6f6f" stroke-width="0.9"/>
<path d="M538.8 56.5 L534 54.1 L534 58.9 Z" fill="none" stroke="#ff6f6f" stroke-width="0.9"/>
<path d="M539.51 56.48 L534.71 54.08 L534.71 58.88 Z" fill="none" stroke="#ff6f6f" stroke-width="0.9"/>
<path d="M540.21 56.06 L535.41 53.66 L535.41 58.46 Z" fill="none" stroke="#ff6f6f" stroke-width="0.9"/>
<path d="M540.92 55.07 L536.12 52.67 L536.12 57.47 Z" fill="none" stroke="#ff6f6f" stroke-width="0.9"/>
<path d="M541.63 55.43 L536.83 53.03 L536.83 57.83 Z" fill="none" stroke="#ff6f6f" stroke-width="0.9"/>
<path d="M542.33 55.95 L537.53 53.55 L537.53 58.35 Z" fill="none" stroke="#ff6f6f" stroke-width="0.9"/>
<path d="M543.04 54.71 L538.24 52.31 L538.24 57.11 Z" fill="none" stroke="#ff6f6f" stroke-width="0.9"/>
<path d="M543.75 55 L538.95 52.6 L538.95 57.4 Z" fill="none" stroke="#ff6f6f" stroke-width="0.9"/>
<path d="M544.45 53.44 L539.65 51.04 L539.65 55.84 Z" fill="none" stroke="#ff6f6f" stroke-width="0.9"/>
<path d="M545.16 53.3 L540.36 50.9 L540.36 55.7 Z" fill="none" stroke="#ff6f6f" stroke-width="0.9"/>
<path d="M545.87 53.36 L541.07 50.96 L541.07 55.76 Z" fill="none" stroke="#ff6f6f" stroke-width="0.9"/>
<path d="M546.57 52.75 L541.77 50.35 L541.77 55.15 Z" fill="none" stroke="#ff6f6f" stroke-width="0.9"/>
<path d="M547.28 52.03 L542.48 49.63 L542.48 54.43 Z" fill="none" stroke="#ff6f6f" stroke-width="0.9"/>
<path d="M547.99 52.22 L543.19 49.82 L543.19 54.62 Z" fill="none" stroke="#ff6f6f" stroke-width="0.9"/>
<path d="M548.69 51.52 L543.89 49.12 L543.89 53.92 Z" fill="none" stroke="#ff6f6f" stroke-width="0.9"/>
<path d="M549.4 51.99 L544.6 49.59 L544.6 54.39 Z" fill="none" stroke="#ff6f6f" stroke-width="0.9"/>
<path d="M550.11 51.36 L545.31 48.96 L545.31 53.76 Z" fill="none" stroke="#ff6f6f" stroke-width="0.9"/>
<path d="M550.81 51.02 L546.01 48.62 L546.01 53.42 Z" fill="none" stroke="#ff6f6f" stroke-width="0.9"/>
<path d="M551.52 50.83 L546.72 48.43 L546.72 53.23 Z" fill="none" stroke="#ff6f6f" stroke-width="0.9"/>
<path d="M552.23 51.71 L547.43 49.31 L547.43 54.11 Z" fill="none" stroke="#ff6f6f" stroke-width="0.9"/>
<path d="M552.94 50.89 L548.14 48.49 L548.14 53.29 Z" fill="none" stroke="#ff6f6f" stroke-width="0.9"/>
<path d="M553.64 51.99 L548.84 49.59 L548.84 54.39 Z" fill="none" stroke="#ff6f6f" stroke-width="0.9"/>
<path d="M554.35 51.51 L549.55 49.11 L549.55 53.91 Z" fill="none" stroke="#ff6f6f" stroke-width="0.9"/>
<path d="M555.06 51.77 L550.26 49.37 L550.26 54.17 Z" fill="none" stroke="#ff6f6f" stroke-width="0.9"/>
<path d="M555.76 50.29 L550.96 47.89 L550.96 52.69 Z" fill="none" stroke="#ff6f6f" stroke-width="0.9"/>
<path d="M556.47 51.2 L551.67 48.8 L551.67 53.6 Z" fill="none" stroke="#ff6f6f" stroke-width="0.9"/>
<path d="M557.18 50.53 L552.38 48.13 L552.38 52.93 Z" fill="none" stroke="#ff6f6f" stroke-width="0.9"/>
<path d="M557.88 50.5 L553.08 48.1 L553.08 52.9 Z" fill="none" stroke="#ff6f6f" stroke-width="0.9"/>
<path d="M558.59 50.3 L553.79 47.9 L553.79 52.7 Z" fill="none" stroke="#ff6f6f" stroke-width="0.9"/>
<path d="M559.3 50.44 L554.5 48.04 L554.5 52.84 Z" fill="none" stroke="#ff6f6f" stroke-width="0.9"/>
<path d="M560 49.96 L555.2 47.56 L555.2 52.36 Z" fill="none" stroke="#ff6f6f" stroke-width="0.9"/>
<path d="M560.71 49.15 L555.91 46.75 L555.91 51.55 Z" fill="none" stroke="#ff6f6f" stroke-width="0.9"/>
<path d="M561.42 49.82 L556.62 47.42 L556.62 52.22 Z" fill="none" stroke="#ff6f6f" stroke-width="0.9"/>
<path d="M562.12 49.49 L557.32 47.09 L557.32 51.89 Z" fill="none" stroke="#ff6f6f" stroke-width="0.9"/>
<path d="M562.83 49.17 L558.03 46.77 L558.03 51.57 Z" fill="none" stroke="#ff6f6f" stroke-width="0.9"/>
<path d="M563.54 49.6 L558.74 47.2 L558.74 52 Z" fill="none" stroke="#ff6f6f" stroke-width="0.9"/>
<path d="M564.24 49.97 L559.44 47.57 L559.44 52.37 Z" fill="none" stroke="#ff6f6f" stroke-width="0.9"/>
<path d="M564.95 49.55 L560.15 47.15 L560.15 51.95 Z" fill="none" stroke="#ff6f6f" stroke-width="0.9"/>
<path d="M565.66 48.72 L560.86 46.32 L560.86 51.12 Z" fill="none" stroke="#ff6f6f" stroke-width="0.9"/>
<path d="M566.36 49.83 L561.56 47.43 L561.56 52.23 Z" fill="none" stroke="#ff6f6f" stroke-width="0.9"/>
<path d="M567.07 49.26 L562.27 46.86 L562.27 51.66 Z" fill="none" stroke="#ff6f6f" stroke-width="0.9"/>
<path d="M567.78 48.45 L562.98 46.05 L562.98 50.85 Z" fill="none" stroke="#ff6f6f" stroke-width="0.9"/>
<path d="M568.48 48.4 L563.68 46 L563.68 50.8 Z" fill="none" stroke="#ff6f6f" stroke-width="0.9"/>
<path d="M569.19 48.62 L564.39 46.22 L564.39 51.02 Z" fill="none" stroke="#ff6f6f" stroke-width="0.9"/>
<path d="M569.9 48.13 L565.1 45.73 L565.1 50.53 Z" fill="none" stroke="#ff6f6f" stroke-width="0.9"/>
<path d="M570.61 48.28 L565.81 45.88 L565.81 50.68 Z" fill="none" stroke="#ff6f6f" stroke-width="0.9"/>
<path d="M571.31 48.75 L566.51 46.35 L566.51 51.15 Z" fill="none" stroke="#ff6f6f" stroke-width="0.9"/>
<path d="M572.02 48.79 L567.22 46.39 L567.22 51.19 Z" fill="none" stroke="#ff6f6f" stroke-width="0.9"/>
<path d="M572.73 48.25 L567.93 45.85 L567.93 50.65 Z" fill="none" stroke="#ff6f6f" stroke-width="0.9"/>
<path d="M573.43 47.42 L568.63 45.02 L568.63 49.82 Z" fill="none" stroke="#ff6f6f" stroke-width="0.9"/>
<path d="M574.14 47.96 L569.34 45.56 L569.34 50.36 Z" fill="none" stroke="#ff6f6f" stroke-width="0.9"/>
<path d="M574.85 47.99 L570.05 45.59 L570.05 50.39 Z" fill="none" stroke="#ff6f6f" stroke-width="0.9"/>
<path d="M575.55 47.81 L570.75 45.41 L570.75 50.21 Z" fill="none" stroke="#ff6f6f" stroke-width="0.9"/>
<path d="M576.26 48.02 L571.46 45.62 L571.46 50.42 Z" fill="none" stroke="#ff6f6f" stroke-width="0.9"/>
<path d="M576.97 47.27 L572.17 44.87 L572.17 49.67 Z" fill="none" stroke="#ff6f6f" stroke-width="0.9"/>
<path d="M577.67 47.63 L572.87 45.23 L572.87 50.03 Z" fill="none" stroke="#ff6f6f" stroke-width="0.9"/>
<path d="M578.38 46.82 L573.58 44.42 L573.58 49.22 Z" fill="none" stroke="#ff6f6f" stroke-width="0.9"/>
<path d="M579.09 47.99 L574.29 45.59 L574.29 50.39 Z" fill="none" stroke="#ff6f6f" stroke-width="0.9"/>
<path d="M579.79 46.74 L574.99 44.34 L574.99 49.14 Z" fill="none" stroke="#ff6f6f" stroke-width="0.9"/>
<path d="M580.5 47.13 L575.7 44.73 L575.7 49.53 Z" fill="none" stroke="#ff6f6f" stroke-width="0.9"/>
<path d="M581.21 47.67 L576.41 45.27 L576.41 50.07 Z" fill="none" stroke="#ff6f6f" stroke-width="0.9"/>
<path d="M581.91 46.43 L577.11 44.03 L577.11 48.83 Z" fill="none" stroke="#ff6f6f" stroke-width="0.9"/>
<path d="M582.62 46.83 L577.82 44.43 L577.82 49.23 Z" fill="none" stroke="#ff6f6f" stroke-width="0.9"/>
<path d="M583.33 47.66 L578.53 45.26 L578.53 50.06 Z" fill="none" stroke="#ff6f6f" stroke-width="0.9"/>
<path d="M584.03 47.02 L579.23 44.62 L579.23 49.42 Z" fill="none" stroke="#ff6f6f" stroke-width="0.9"/>
<path d="M584.74 46.45 L579.94 44.05 L579.94 48.85 Z" fill="none" stroke="#ff6f6f" stroke-width="0.9"/>
<path d="M585.45 46.74 L580.65 44.34 L580.65 49.14 Z" fill="none" stroke="#ff6f6f" stroke-width="0.9"/>
<path d="M586.15 46.15 L581.35 43.75 L581.35 48.55 Z" fill="none" stroke="#ff6f6f" stroke-width="0.9"/>
<path d="M586.86 46.12 L582.06 43.72 L582.06 48.52 Z" fill="none" stroke="#ff6f6f" stroke-width="0.9"/>
<path d="M587.57 46.12 L582.77 43.72 L582.77 48.52 Z" fill="none" stroke="#ff6f6f" stroke-width="0.9"/>
<path d="M588.28 46.23 L583.48 43.83 L583.48 48.63 Z" fill="none" stroke="#ff6f6f" stroke-width="0.9"/>
<path d="M588.98 45.74 L584.18 43.34 L584.18 48.14 Z" fill="none" stroke="#ff6f6f" stroke-width="0.9"/>
<path d="M589.69 46 L584.89 43.6 L584.89 48.4 Z" fill="none" stroke="#ff6f6f" stroke-width="0.9"/>
<path d="M590.4 46.05 L585.6 43.65 L585.6 48.45 Z" fill="none" stroke="#ff6f6f" stroke-width="0.9"/>
<path d="M591.1 47.14 L586.3 44.74 L586.3 49.54 Z" fill="none" stroke="#ff6f6f" stroke-width="0.9"/>
<path d="M591.81 45.77 L587.01 43.37 L587.01 48.17 Z" fill="none" stroke="#ff6f6f" stroke-width="0.9"/>
<path d="M592.52 45.55 L587.72 43.15 L587.72 47.95 Z" fill="none" stroke="#ff6f6f" stroke-width="0.9"/>
<path d="M593.22 46.23 L588.42 43.83 L588.42 48.63 Z" fill="none" stroke="#ff6f6f" stroke-width="0.9"/>
<path d="M593.93 46.27 L589.13 43.87 L589.13 48.67 Z" fill="none" stroke="#ff6f6f" stroke-width="0.9"/>
<path d="M594.64 45.15 L589.84 42.75 L589.84 47.55 Z" fill="none" stroke="#ff6f6f" stroke-width="0.9"/>
<path d="M595.34 46.77 L590.54 44.37 L590.54 49.17 Z" fill="none" stroke="#ff6f6f" stroke-width="0.9"/>
<path d="M596.05 45.74 L591.25 43.34 L591.25 48.14 Z" fill="none" stroke="#ff6f6f" stroke-width="0.9"/>
<path d="M596.76 44.83 L591.96 42.43 L591.96 47.23 Z" fill="none" stroke="#ff6f6f" stroke-width="0.9"/>
<path d="M597.46 46.29 L592.66 43.89 L592.66 48.69 Z" fill="none" stroke="#ff6f6f" stroke-width="0.9"/>
<path d="M598.17 45.53 L593.37 43.13 L593.37 47.93 Z" fill="none" stroke="#ff6f6f" stroke-width="0.9"/>
<path d="M598.88 44.96 L594.08 42.56 L594.08 47.36 Z" fill="none" stroke="#ff6f6f" stroke-width="0.9"/>
<path d="M599.58 45.82 L594.78 43.42 L594.78 48.22 Z" fill="none" stroke="#ff6f6f" stroke-width="0.9"/>
<path d="M600.29 45.48 L595.49 43.08 L595.49 47.88 Z" fill="none" stroke="#ff6f6f" stroke-width="0.9"/>
<path d="M601 45.29 L596.2 42.89 L596.2 47.69 Z" fill="none" stroke="#ff6f6f" stroke-width="0.9"/>
<path d="M601.7 46.06 L596.9 43.66 L596.9 48.46 Z" fill="none" stroke="#ff6f6f" stroke-width="0.9"/>
<path d="M602.41 45.66 L597.61 43.26 L597.61 48.06 Z" fill="none" stroke="#ff6f6f" stroke-width="0.9"/>
<path d="M603.12 45.46 L598.32 43.06 L598.32 47.86 Z" fill="none" stroke="#ff6f6f" stroke-width="0.9"/>
<path d="M603.82 45.19 L599.02 42.79 L599.02 47.59 Z" fill="none" stroke="#ff6f6f" stroke-width="0.9"/>
<path d="M604.53 45.54 L599.73 43.14 L599.73 47.94 Z" fill="none" stroke="#ff6f6f" stroke-width="0.9"/>
<path d="M605.24 45.57 L600.44 43.17 L600.44 47.97 Z" fill="none" stroke="#ff6f6f" stroke-width="0.9"/>
<path d="M605.95 45.91 L601.15 43.51 L601.15 48.31 Z" fill="none" stroke="#ff6f6f" stroke-width="0.9"/>
<path d="M606.65 45.58 L601.85 43.18 L601.85 47.98 Z" fill="none" stroke="#ff6f6f" stroke-width="0.9"/>
<path d="M607.36 44.99 L602.56 42.59 L602.56 47.39 Z" fill="none" stroke="#ff6f6f" stroke-width="0.9"/>
<path d="M608.07 45.31 L603.27 42.91 L603.27 47.71 Z" fill="none" stroke="#ff6f6f" stroke-width="0.9"/>
<path d="M608.77 45.7 L603.97 43.3 L603.97 48.1 Z" fill="none" stroke="#ff6f6f" stroke-width="0.9"/>
<path d="M609.48 45.67 L604.68 43.27 L604.68 48.07 Z" fill="none" stroke="#ff6f6f" stroke-width="0.9"/>
<path d="M610.19 44.07 L605.39 41.67 L605.39 46.47 Z" fill="none" stroke="#ff6f6f" stroke-width="0.9"/>
<path d="M610.89 44.72 L606.09 42.32 L606.09 47.12 Z" fill="none" stroke="#ff6f6f" stroke-width="0.9"/>
<path d="M611.6 44.91 L606.8 42.51 L606.8 47.31 Z" fill="none" stroke="#ff6f6f" stroke-width="0.9"/>
<path d="M612.31 46.32 L607.51 43.92 L607.51 48.72 Z" fill="none" stroke="#ff6f6f" stroke-width="0.9"/>
<path d="M613.01 44.86 L608.21 42.46 L608.21 47.26 Z" fill="none" stroke="#ff6f6f" stroke-width="0.9"/>
<path d="M613.72 44.89 L608.92 42.49 L608.92 47.29 Z" fill="none" stroke="#ff6f6f" stroke-width="0.9"/>
<path d="M614.43 44.32 L609.63 41.92 L609.63 46.72 Z" fill="none" stroke="#ff6f6f" stroke-width="0.9"/>
<path d="M615.13 44.85 L610.33 42.45 L610.33 47.25 Z" fill="none" stroke="#ff6f6f" stroke-width="0.9"/>
<path d="M615.84 45.04 L611.04 42.64 L611.04 47.44 Z" fill="none" stroke="#ff6f6f" stroke-width="0.9"/>
<path d="M616.55 44.75 L611.75 42.35 L611.75 47.15 Z" fill="none" stroke="#ff6f6f" stroke-width="0.9"/>
<path d="M617.25 45.82 L612.45 43.42 L612.45 48.22 Z" fill="none" stroke="#ff6f6f" stroke-width="0.9"/>
<path d="M617.96 44.46 L613.16 42.06 L613.16 46.86 Z" fill="none" stroke="#ff6f6f" stroke-width="0.9"/>
<path d="M618.67 44.75 L613.87 42.35 L613.87 47.15 Z" fill="none" stroke="#ff6f6f" stroke-width="0.9"/>
<path d="M619.37 45.18 L614.57 42.78 L614.57 47.58 Z" fill="none" stroke="#ff6f6f" stroke-width="0.9"/>
<path d="M620.08 44.24 L615.28 41.84 L615.28 46.64 Z" fill="none" stroke="#ff6f6f" stroke-width="0.9"/>
<path d="M620.79 44 L615.99 41.6 L615.99 46.4 Z" fill="none" stroke="#ff6f6f" stroke-width="0.9"/>
<path d="M621.49 45.4 L616.69 43 L616.69 47.8 Z" fill="none" stroke="#ff6f6f" stroke-width="0.9"/>
<path d="M622.2 45.05 L617.4 42.65 L617.4 47.45 Z" fill="none" stroke="#ff6f6f" stroke-width="0.9"/>
<path d="M622.91 44.61 L618.11 42.21 L618.11 47.01 Z" fill="none" stroke="#ff6f6f" stroke-width="0.9"/>
<path d="M623.62 44.65 L618.82 42.25 L618.82 47.05 Z" fill="none" stroke="#ff6f6f" stroke-width="0.9"/>
<path d="M624.32 44.9 L619.52 42.5 L619.52 47.3 Z" fill="none" stroke="#ff6f6f" stroke-width="0.9"/>
<path d="M625.03 45.15 L620.23 42.75 L620.23 47.55 Z" fill="none" stroke="#ff6f6f" stroke-width="0.9"/>
<path d="M625.74 43.75 L620.94 41.35 L620.94 46.15 Z" fill="none" stroke="#ff6f6f" stroke-width="0.9"/>
<path d="M626.44 44.23 L621.64 41.83 L621.64 46.63 Z" fill="none" stroke="#ff6f6f" stroke-width="0.9"/>
<path d="M627.15 45.22 L622.35 42.82 L622.35 47.62 Z" fill="none" stroke="#ff6f6f" stroke-width="0.9"/>
<path d="M627.86 45.27 L623.06 42.87 L623.06 47.67 Z" fill="none" stroke="#ff6f6f" stroke-width="0.9"/>
<path d="M628.56 43.9 L623.76 41.5 L623.76 46.3 Z" fill="none" stroke="#ff6f6f" stroke-width="0.9"/>
<path d="M629.27 44.21 L624.47 41.81 L624.47 46.61 Z" fill="none" stroke="#ff6f6f" stroke-width="0.9"/>
<path d="M629.98 43.83 L625.18 41.43 L625.18 46.23 Z" fill="none" stroke="#ff6f6f" stroke-width="0.9"/>
<path d="M630.68 44.27 L625.88 41.87 L625.88 46.67 Z" fill="none" stroke="#ff6f6f" stroke-width="0.9"/>
<path d="M631.39 45.02 L626.59 42.62 L626.59 47.42 Z" fill="none" stroke="#ff6f6f" stroke-width="0.9"/>
<path d="M632.1 44.5 L627.3 42.1 L627.3 46.9 Z" fill="none" stroke="#ff6f6f" stroke-width="0.9"/>
<path d="M632.8 45.57 L628 43.17 L628 47.97 Z" fill="none" stroke="#ff6f6f" stroke-width="0.9"/>
<path d="M633.51 44.93 L628.71 42.53 L628.71 47.33 Z" fill="none" stroke="#ff6f6f" stroke-width="0.9"/>
<path d="M634.22 44.62 L629.42 42.22 L629.42 47.02 Z" fill="none" stroke="#ff6f6f" stroke-width="0.9"/>
<path d="M634.92 44.35 L630.12 41.95 L630.12 46.75 Z" fill="none" stroke="#ff6f6f" stroke-width="0.9"/>
<path d="M635.63 44.9 L630.83 42.5 L630.83 47.3 Z" fill="none" stroke="#ff6f6f" stroke-width="0.9"/>
<path d="M636.34 44.62 L631.54 42.22 L631.54 47.02 Z" fill="none" stroke="#ff6f6f" stroke-width="0.9"/>
<path d="M637.04 44.35 L632.24 41.95 L632.24 46.75 Z" fill="none" stroke="#ff6f6f" stroke-width="0.9"/>
<path d="M637.75 44.38 L632.95 41.98 L632.95 46.78 Z" fill="none" stroke="#ff6f6f" stroke-width="0.9"/>
<path d="M638.46 44.25 L633.66 41.85 L633.66 46.65 Z" fill="none" stroke="#ff6f6f" stroke-width="0.9"/>
<path d="M639.16 44.44 L634.36 42.04 L634.36 46.84 Z" fill="none" stroke="#ff6f6f" stroke-width="0.9"/>
<path d="M639.87 44.67 L635.07 42.27 L635.07 47.07 Z" fill="none" stroke="#ff6f6f" stroke-width="0.9"/>
<path d="M640.58 44.16 L635.78 41.76 L635.78 46.56 Z" fill="none" stroke="#ff6f6f" stroke-width="0.9"/>
<path d="M641.29 44.48 L636.49 42.08 L636.49 46.88 Z" fill="none" stroke="#ff6f6f" stroke-width="0.9"/>
<path d="M641.99 44.86 L637.19 42.46 L637.19 47.26 Z" fill="none" stroke="#ff6f6f" stroke-width="0.9"/>
<path d="M642.7 44.77 L637.9 42.37 L637.9 47.17 Z" fill="none" stroke="#ff6f6f" stroke-width="0.9"/>
<path d="M643.41 44.48 L638.61 42.08 L638.61 46.88 Z" fill="none" stroke="#ff6f6f" stroke-width="0.9"/>
<path d="M644.11 44.52 L639.31 42.12 L639.31 46.92 Z" fill="none" stroke="#ff6f6f" stroke-width="0.9"/>
<path d="M644.82 44.39 L640.02 41.99 L640.02 46.79 Z" fill="none" stroke="#ff6f6f" stroke-width="0.9"/>
<path d="M645.53 44.45 L640.73 42.05 L640.73 46.85 Z" fill="none" stroke="#ff6f6f" stroke-width="0.9"/>
<path d="M646.23 44.37 L641.43 41.97 L641.43 46.77 Z" fill="none" stroke="#ff6f6f" stroke-width="0.9"/>
<path d="M646.94 44.5 L642.14 42.1 L642.14 46.9 Z" fill="none" stroke="#ff6f6f" stroke-width="0.9"/>
<path d="M647.65 44.99 L642.85 42.59 L642.85 47.39 Z" fill="none" stroke="#ff6f6f" stroke-width="0.9"/>
<path d="M648.35 44.24 L643.55 41.84 L643.55 46.64 Z" fill="none" stroke="#ff6f6f" stroke-width="0.9"/>
<path d="M649.06 43.96 L644.26 41.56 L644.26 46.36 Z" fill="#fff" stroke="#ff6f6f" stroke-width="0.9"/>
<polyline points="506.71,99.93 507.42,80.89 508.13,67.9 508.83,63.03 509.54,59.95 510.25,56.34 510.95,54.42 511.66,51.81 512.37,50.95 513.07,50.14 513.78,47.62 514.49,44.37 515.2,43.32 515.9,43.15 516.61,42.3 517.32,41.18 518.02,40.68 518.73,40.34 519.44,39.3 520.14,39.09 520.85,38.89 521.56,38.11 522.26,37.15 522.97,36.99 523.68,36.52 524.38,37.03 525.09,36.2 525.8,35.37 526.5,35.4 527.21,34.38 527.92,34.19 528.62,33.66 529.33,33.79 530.04,32.19 530.74,32.42 531.45,32.72 532.16,32.25 532.87,30.81 533.57,31.8 534.28,30.94 534.99,30.59 535.69,30.72 536.4,30.93 537.11,30.03 537.81,29.66 538.52,29.03 539.23,28.91 539.93,28.97 540.64,28.33 541.35,28.21 542.05,28.1 542.76,27.91 543.47,27.8 544.17,27.14 544.88,27.67 545.59,27.32 546.29,26.88 547,27.38 547.71,26.77 548.41,27.32 549.12,26.58 549.83,25.87 550.54,25.73 551.24,25.86 551.95,25.8 552.66,26.19 553.36,24.61 554.07,25.06 554.78,24.67 555.48,25.42 556.19,24.98 556.9,25.58 557.6,24.3 558.31,24.11 559.02,25.25 559.72,24.31 560.43,23.88 561.14,24.83 561.84,24.75 562.55,24.29 563.26,23.99 563.96,24.22 564.67,23.47 565.38,23.26 566.08,22.98 566.79,22.83 567.5,22.36 568.21,22.4 568.91,23.4 569.62,22.93 570.33,23.07 571.03,22.97 571.74,22.42 572.45,22.28 573.15,21.96 573.86,22.79 574.57,22.53 575.27,21.89 575.98,21.87 576.69,21.8 577.39,21.57 578.1,21.76 578.81,20.99 579.51,21.03 580.22,21.12 580.93,21.26 581.63,20.93 582.34,21.96 583.05,21.07 583.75,20.5 584.46,21.08 585.17,20.22 585.88,20.13 586.58,20.71 587.29,20.1 588,20.03 588.7,19.58 589.41,19.41 590.12,19.6 590.82,19.86 591.53,19.45 592.24,19.31 592.94,18.86 593.65,18.96 594.36,19.31 595.06,19.5 595.77,18.97 596.48,19.04 597.18,19.11 597.89,18.57 598.6,18.65 599.3,18.29 600.01,18.01 600.72,18.34 601.42,17.03 602.13,18.12 602.84,17.4 603.55,17.75 604.25,17.22 604.96,18.7 605.67,17.92 606.37,17.43 607.08,17.22 607.79,16.4 608.49,17.25 609.2,16.78 609.91,16.96 610.61,16.83 611.32,16.98 612.03,17.23 612.73,16.89 613.44,17.55 614.15,16.5 614.85,17.44 615.56,16.83 616.27,15.95 616.97,16.95 617.68,16.8 618.39,16.24 619.09,16.71 619.8,17.04 620.51,16.48 621.22,16.26 621.92,16.13 622.63,16.71 623.34,15.51 624.04,15.47 624.75,16.13 625.46,15.94 626.16,16.18 626.87,15.28 627.58,16.16 628.28,15.47 628.99,15.91 629.7,15.93 630.4,15.23 631.11,14.88 631.82,15.41 632.52,15.64 633.23,14.9 633.94,15.22 634.64,14.99 635.35,14.38 636.06,14.48 636.76,15.15 637.47,13.83 638.18,14.78 638.89,14.37 639.59,14.94 640.3,14.6 641.01,15.3 641.71,13.65 642.42,13.77 643.13,14.86 643.83,14.93 644.54,14.91 645.25,13.6 645.95,14.33 646.66,14.15" fill="none" stroke="#ff0000" stroke-width="0.9"/>
<rect x="504.82" y="98.04" width="3.78" height="3.78" fill="none" stroke="#ff0000" stroke-width="0.9"/>
<rect x="505.53" y="79" width="3.78" height="3.78" fill="none" stroke="#ff0000" stroke-width="0.9"/>
<rect x="506.24" y="66.01" width="3.78" height="3.78" fill="none" stroke="#ff0000" stroke-width="0.9"/>
<rect x="506.94" y="61.14" width="3.78" height="3.78" fill="none" stroke="#ff0000" stroke-width="0.9"/>
<rect x="507.65" y="58.06" width="3.78" height="3.78" fill="none" stroke="#ff0000" stroke-width="0.9"/>
<rect x="508.36" y="54.45" width="3.78" height="3.78" fill="none" stroke="#ff0000" stroke-width="0.9"/>
<rect x="509.06" y="52.53" width="3.78" height="3.78" fill="none" stroke="#ff0000" stroke-width="0.9"/>
<rect x="509.77" y="49.92" width="3.78" height="3.78" fill="none" stroke="#ff0000" stroke-width="0.9"/>
<rect x="510.48" y="49.06" width="3.78" height="3.78" fill="none" stroke="#ff0000" stroke-width="0.9"/>
<rect x="511.18" y="48.25" width="3.78" height="3.78" fill="none" stroke="#ff0000" stroke-width="0.9"/>
<rect x="511.89" y="45.73" width="3.78" height="3.78" fill="none" stroke="#ff0000" stroke-width="0.9"/>
<rect x="512.6" y="42.48" width="3.78" height="3.78" fill="none" stroke="#ff0000" stroke-width="0.9"/>
<rect x="513.31" y="41.43" width="3.78" height="3.78" fill="none" stroke="#ff0000" stroke-width="0.9"/>
<rect x="514.01" y="41.26" width="3.78" height="3.78" fill="none" stroke="#ff0000" stroke-width="0.9"/>
<rect x="514.72" y="40.41" width="3.78" height="3.78" fill="none" stroke="#ff0000" stroke-width="0.9"/>
<rect x="515.43" y="39.29" width="3.78" height="3.78" fill="none" stroke="#ff0000" stroke-width="0.9"/>
<rect x="516.13" y="38.79" width="3.78" height="3.78" fill="none" stroke="#ff0000" stroke-width="0.9"/>
<rect x="516.84" y="38.45" width="3.78" height="3.78" fill="none" stroke="#ff0000" stroke-width="0.9"/>
<rect x="517.55" y="37.41" width="3.78" height="3.78" fill="none" stroke="#ff0000" stroke-width="0.9"/>
<rect x="518.25" y="37.2" width="3.78" height="3.78" fill="none" stroke="#ff0000" stroke-width="0.9"/>
<rect x="518.96" y="37" width="3.78" height="3.78" fill="none" stroke="#ff0000" stroke-width="0.9"/>
<rect x="519.67" y="36.22" width="3.78" height="3.78" fill="none" stroke="#ff0000" stroke-width="0.9"/>
<rect x="520.37" y="35.26" width="3.78" height="3.78" fill="none" stroke="#ff0000" stroke-width="0.9"/>
<rect x="521.08" y="35.1" width="3.78" height="3.78" fill="none" stroke="#ff0000" stroke-width="0.9"/>
<rect x="521.79" y="34.63" width="3.78" height="3.78" fill="none" stroke="#ff0000" stroke-width="0.9"/>
<rect x="522.49" y="35.14" width="3.78" height="3.78" fill="none" stroke="#ff0000" stroke-width="0.9"/>
<rect x="523.2" y="34.31" width="3.78" height="3.78" fill="none" stroke="#ff0000" stroke-width="0.9"/>
<rect x="523.91" y="33.48" width="3.78" height="3.78" fill="none" stroke="#ff0000" stroke-width="0.9"/>
<rect x="524.61" y="33.51" width="3.78" height="3.78" fill="none" stroke="#ff0000" stroke-width="0.9"/>
<rect x="525.32" y="32.49" width="3.78" height="3.78" fill="none" stroke="#ff0000" stroke-width="0.9"/>
<rect x="526.03" y="32.3" width="3.78" height="3.78" fill="none" stroke="#ff0000" stroke-width="0.9"/>
<rect x="526.73" y="31.77" width="3.78" height="3.78" fill="none" stroke="#ff0000" stroke-width="0.9"/>
<rect x="527.44" y="31.9" width="3.78" height="3.78" fill="none" stroke="#ff0000" stroke-width="0.9"/>
<rect x="528.15" y="30.3" width="3.78" height="3.78" fill="none" stroke="#ff0000" stroke-width="0.9"/>
<rect x="528.85" y="30.53" width="3.78" height="3.78" fill="none" stroke="#ff0000" stroke-width="0.9"/>
<rect x="529.56" y="30.83" width="3.78" height="3.78" fill="none" stroke="#ff0000" stroke-width="0.9"/>
<rect x="530.27" y="30.36" width="3.78" height="3.78" fill="none" stroke="#ff0000" stroke-width="0.9"/>
<rect x="530.98" y="28.92" width="3.78" height="3.78" fill="none" stroke="#ff0000" stroke-width="0.9"/>
<rect x="531.68" y="29.91" width="3.78" height="3.78" fill="none" stroke="#ff0000" stroke-width="0.9"/>
<rect x="532.39" y="29.05" width="3.78" height="3.78" fill="none" stroke="#ff0000" stroke-width="0.9"/>
<rect x="533.1" y="28.7" width="3.78" height="3.78" fill="none" stroke="#ff0000" stroke-width="0.9"/>
<rect x="533.8" y="28.83" width="3.78" height="3.78" fill="none" stroke="#ff0000" stroke-width="0.9"/>
<rect x="534.51" y="29.04" width="3.78" height="3.78" fill="none" stroke="#ff0000" stroke-width="0.9"/>
<rect x="535.22" y="28.14" width="3.78" height="3.78" fill="none" stroke="#ff0000" stroke-width="0.9"/>
<rect x="535.92" y="27.77" width="3.78" height="3.78" fill="none" stroke="#ff0000" stroke-width="0.9"/>
<rect x="536.63" y="27.14" width="3.78" height="3.78" fill="none" stroke="#ff0000" stroke-width="0.9"/>
<rect x="537.34" y="27.02" width="3.78" height="3.78" fill="none" stroke="#ff0000" stroke-width="0.9"/>
<rect x="538.04" y="27.08" width="3.78" height="3.78" fill="none" stroke="#ff0000" stroke-width="0.9"/>
<rect x="538.75" y="26.44" width="3.78" height="3.78" fill="none" stroke="#ff0000" stroke-width="0.9"/>
<rect x="539.46" y="26.32" width="3.78" height="3.78" fill="none" stroke="#ff0000" stroke-width="0.9"/>
<rect x="540.16" y="26.21" width="3.78" height="3.78" fill="none" stroke="#ff0000" stroke-width="0.9"/>
<rect x="540.87" y="26.02" width="3.78" height="3.78" fill="none" stroke="#ff0000" stroke-width="0.9"/>
<rect x="541.58" y="25.91" width="3.78" height="3.78" fill="none" stroke="#ff0000" stroke-width="0.9"/>
<rect x="542.28" y="25.25" width="3.78" height="3.78" fill="none" stroke="#ff0000" stroke-width="0.9"/>
<rect x="542.99" y="25.78" width="3.78" height="3.78" fill="none" stroke="#ff0000" stroke-width="0.9"/>
<rect x="543.7" y="25.43" width="3.78" height="3.78" fill="none" stroke="#ff0000" stroke-width="0.9"/>
<rect x="544.4" y="24.99" width="3.78" height="3.78" fill="none" stroke="#ff0000" stroke-width="0.9"/>
<rect x="545.11" y="25.49" width="3.78" height="3.78" fill="none" stroke="#ff0000" stroke-width="0.9"/>
<rect x="545.82" y="24.88" width="3.78" height="3.78" fill="none" stroke="#ff0000" stroke-width="0.9"/>
<rect x="546.52" y="25.43" width="3.78" height="3.78" fill="none" stroke="#ff0000" stroke-width="0.9"/>
<rect x="547.23" y="24.69" width="3.78" height="3.78" fill="none" stroke="#ff0000" stroke-width="0.9"/>
<rect x="547.94" y="23.98" width="3.78" height="3.78" fill="none" stroke="#ff0000" stroke-width="0.9"/>
<rect x="548.65" y="23.84" width="3.78" height="3.78" fill="none" stroke="#ff0000" stroke-width="0.9"/>
<rect x="549.35" y="23.97" width="3.78" height="3.78" fill="none" stroke="#ff0000" stroke-width="0.9"/>
<rect x="550.06" y="23.91" width="3.78" height="3.78" fill="none" stroke="#ff0000" stroke-width="0.9"/>
<rect x="550.77" y="24.3" width="3.78" height="3.78" fill="none" stroke="#ff0000" stroke-width="0.9"/>
<rect x="551.47" y="22.72" width="3.78" height="3.78" fill="none" stroke="#ff0000" stroke-width="0.9"/>
<rect x="552.18" y="23.17" width="3.78" height="3.78" fill="none" stroke="#ff0000" stroke-width="0.9"/>
<rect x="552.89" y="22.78" width="3.78" height="3.78" fill="none" stroke="#ff0000" stroke-width="0.9"/>
<rect x="553.59" y="23.53" width="3.78" height="3.78" fill="none" stroke="#ff0000" stroke-width="0.9"/>
<rect x="554.3" y="23.09" width="3.78" height="3.78" fill="none" stroke="#ff0000" stroke-width="0.9"/>
<rect x="555.01" y="23.69" width="3.78" height="3.78" fill="none" stroke="#ff0000" stroke-width="0.9"/>
<rect x="555.71" y="22.41" width="3.78" height="3.78" fill="none" stroke="#ff0000" stroke-width="0.9"/>
<rect x="556.42" y="22.22" width="3.78" height="3.78" fill="none" stroke="#ff0000" stroke-width="0.9"/>
<rect x="557.13" y="23.36" width="3.78" height="3.78" fill="none" stroke="#ff0000" stroke-width="0.9"/>
<rect x="557.83" y="22.42" width="3.78" height="3.78" fill="none" stroke="#ff0000" stroke-width="0.9"/>
<rect x="558.54" y="21.99" width="3.78" height="3.78" fill="none" stroke="#ff0000" stroke-width="0.9"/>
<rect x="559.25" y="22.94" width="3.78" height="3.78" fill="none" stroke="#ff0000" stroke-width="0.9"/>
<rect x="559.95" y="22.86" width="3.78" height="3.78" fill="none" stroke="#ff0000" stroke-width="0.9"/>
<rect x="560.66" y="22.4" width="3.78" height="3.78" fill="none" stroke="#ff0000" stroke-width="0.9"/>
<rect x="561.37" y="22.1" width="3.78" height="3.78" fill="none" stroke="#ff0000" stroke-width="0.9"/>
<rect x="562.07" y="22.33" width="3.78" height="3.78" fill="none" stroke="#ff0000" stroke-width="0.9"/>
<rect x="562.78" y="21.58" width="3.78" height="3.78" fill="none" stroke="#ff0000" stroke-width="0.9"/>
<rect x="563.49" y="21.37" width="3.78" height="3.78" fill="none" stroke="#ff0000" stroke-width="0.9"/>
<rect x="564.19" y="21.09" width="3.78" height="3.78" fill="none" stroke="#ff0000" stroke-width="0.9"/>
<rect x="564.9" y="20.94" width="3.78" height="3.78" fill="none" stroke="#ff0000" stroke-width="0.9"/>
<rect x="565.61" y="20.47" width="3.78" height="3.78" fill="none" stroke="#ff0000" stroke-width="0.9"/>
<rect x="566.32" y="20.51" width="3.78" height="3.78" fill="none" stroke="#ff0000" stroke-width="0.9"/>
<rect x="567.02" y="21.51" width="3.78" height="3.78" fill="none" stroke="#ff0000" stroke-width="0.9"/>
<rect x="567.73" y="21.04" width="3.78" height="3.78" fill="none" stroke="#ff0000" stroke-width="0.9"/>
<rect x="568.44" y="21.18" width="3.78" height="3.78" fill="none" stroke="#ff0000" stroke-width="0.9"/>
<rect x="569.14" y="21.08" width="3.78" height="3.78" fill="none" stroke="#ff0000" stroke-width="0.9"/>
<rect x="569.85" y="20.53" width="3.78" height="3.78" fill="none" stroke="#ff0000" stroke-width="0.9"/>
<rect x="570.56" y="20.39" width="3.78" height="3.78" fill="none" stroke="#ff0000" stroke-width="0.9"/>
<rect x="571.26" y="20.07" width="3.78" height="3.78" fill="none" stroke="#ff0000" stroke-width="0.9"/>
<rect x="571.97" y="20.9" width="3.78" height="3.78" fill="none" stroke="#ff0000" stroke-width="0.9"/>
<rect x="572.68" y="20.64" width="3.78" height="3.78" fill="none" stroke="#ff0000" stroke-width="0.9"/>
<rect x="573.38" y="20" width="3.78" height="3.78" fill="none" stroke="#ff0000" stroke-width="0.9"/>
<rect x="574.09" y="19.98" width="3.78" height="3.78" fill="none" stroke="#ff0000" stroke-width="0.9"/>
<rect x="574.8" y="19.91" width="3.78" height="3.78" fill="none" stroke="#ff0000" stroke-width="0.9"/>
<rect x="575.5" y="19.68" width="3.78" height="3.78" fill="none" stroke="#ff0000" stroke-width="0.9"/>
<rect x="576.21" y="19.87" width="3.78" height="3.78" fill="none" stroke="#ff0000" stroke-width="0.9"/>
<rect x="576.92" y="19.1" width="3.78" height="3.78" fill="none" stroke="#ff0000" stroke-width="0.9"/>
<rect x="577.62" y="19.14" width="3.78" height="3.78" fill="none" stroke="#ff0000" stroke-width="0.9"/>
<rect x="578.33" y="19.23" width="3.78" height="3.78" fill="none" stroke="#ff0000" stroke-width="0.9"/>
<rect x="579.04" y="19.37" width="3.78" height="3.78" fill="none" stroke="#ff0000" stroke-width="0.9"/>
<rect x="579.74" y="19.04" width="3.78" height="3.78" fill="none" stroke="#ff0000" stroke-width="0.9"/>
<rect x="580.45" y="20.07" width="3.78" height="3.78" fill="none" stroke="#ff0000" stroke-width="0.9"/>
<rect x="581.16" y="19.18" width="3.78" height="3.78" fill="none" stroke="#ff0000" stroke-width="0.9"/>
<rect x="581.86" y="18.61" width="3.78" height="3.78" fill="none" stroke="#ff0000" stroke-width="0.9"/>
<rect x="582.57" y="19.19" width="3.78" height="3.78" fill="none" stroke="#ff0000" stroke-width="0.9"/>
<rect x="583.28" y="18.33" width="3.78" height="3.78" fill="none" stroke="#ff0000" stroke-width="0.9"/>
<rect x="583.99" y="18.24" width="3.78" height="3.78" fill="none" stroke="#ff0000" stroke-width="0.9"/>
<rect x="584.69" y="18.82" width="3.78" height="3.78" fill="none" stroke="#ff0000" stroke-width="0.9"/>
<rect x="585.4" y="18.21" width="3.78" height="3.78" fill="none" stroke="#ff0000" stroke-width="0.9"/>
<rect x="586.11" y="18.14" width="3.78" height="3.78" fill="none" stroke="#ff0000" stroke-width="0.9"/>
<rect x="586.81" y="17.69" width="3.78" height="3.78" fill="none" stroke="#ff0000" stroke-width="0.9"/>
<rect x="587.52" y="17.52" width="3.78" height="3.78" fill="none" stroke="#ff0000" stroke-width="0.9"/>
<rect x="588.23" y="17.71" width="3.78" height="3.78" fill="none" stroke="#ff0000" stroke-width="0.9"/>
<rect x="588.93" y="17.97" width="3.78" height="3.78" fill="none" stroke="#ff0000" stroke-width="0.9"/>
<rect x="589.64" y="17.56" width="3.78" height="3.78" fill="none" stroke="#ff0000" stroke-width="0.9"/>
<rect x="590.35" y="17.42" width="3.78" height="3.78" fill="none" stroke="#ff0000" stroke-width="0.9"/>
<rect x="591.05" y="16.97" width="3.78" height="3.78" fill="none" stroke="#ff0000" stroke-width="0.9"/>
<rect x="591.76" y="17.07" width="3.78" height="3.78" fill="none" stroke="#ff0000" stroke-width="0.9"/>
<rect x="592.47" y="17.42" width="3.78" height="3.78" fill="none" stroke="#ff0000" stroke-width="0.9"/>
<rect x="593.17" y="17.61" width="3.78" height="3.78" fill="none" stroke="#ff0000" stroke-width="0.9"/>
<rect x="593.88" y="17.08" width="3.78" height="3.78" fill="none" stroke="#ff0000" stroke-width="0.9"/>
<rect x="594.59" y="17.15" width="3.78" height="3.78" fill="none" stroke="#ff0000" stroke-width="0.9"/>
<rect x="595.29" y="17.22" width="3.78" height="3.78" fill="none" stroke="#ff0000" stroke-width="0.9"/>
<rect x="596" y="16.68" width="3.78" height="3.78" fill="none" stroke="#ff0000" stroke-width="0.9"/>
<rect x="596.71" y="16.76" width="3.78" height="3.78" fill="none" stroke="#ff0000" stroke-width="0.9"/>
<rect x="597.41" y="16.4" width="3.78" height="3.78" fill="none" stroke="#ff0000" stroke-width="0.9"/>
<rect x="598.12" y="16.12" width="3.78" height="3.78" fill="none" stroke="#ff0000" stroke-width="0.9"/>
<rect x="598.83" y="16.45" width="3.78" height="3.78" fill="none" stroke="#ff0000" stroke-width="0.9"/>
<rect x="599.53" y="15.14" width="3.78" height="3.78" fill="none" stroke="#ff0000" stroke-width="0.9"/>
<rect x="600.24" y="16.23" width="3.78" height="3.78" fill="none" stroke="#ff0000" stroke-width="0.9"/>
<rect x="600.95" y="15.51" width="3.78" height="3.78" fill="none" stroke="#ff0000" stroke-width="0.9"/>
<rect x="601.66" y="15.86" width="3.78" height="3.78" fill="none" stroke="#ff0000" stroke-width="0.9"/>
<rect x="602.36" y="15.33" width="3.78" height="3.78" fill="none" stroke="#ff0000" stroke-width="0.9"/>
<rect x="603.07" y="16.81" width="3.78" height="3.78" fill="none" stroke="#ff0000" stroke-width="0.9"/>
<rect x="603.78" y="16.03" width="3.78" height="3.78" fill="none" stroke="#ff0000" stroke-width="0.9"/>
<rect x="604.48" y="15.54" width="3.78" height="3.78" fill="none" stroke="#ff0000" stroke-width="0.9"/>
<rect x="605.19" y="15.33" width="3.78" height="3.78" fill="none" stroke="#ff0000" stroke-width="0.9"/>
<rect x="605.9" y="14.51" width="3.78" height="3.78" fill="none" stroke="#ff0000" stroke-width="0.9"/>
<rect x="606.6" y="15.36" width="3.78" height="3.78" fill="none" stroke="#ff0000" stroke-width="0.9"/>
<rect x="607.31" y="14.89" width="3.78" height="3.78" fill="none" stroke="#ff0000" stroke-width="0.9"/>
<rect x="608.02" y="15.07" width="3.78" height="3.78" fill="none" stroke="#ff0000" stroke-width="0.9"/>
<rect x="608.72" y="14.94" width="3.78" height="3.78" fill="none" stroke="#ff0000" stroke-width="0.9"/>
<rect x="609.43" y="15.09" width="3.78" height="3.78" fill="none" stroke="#ff0000" stroke-width="0.9"/>
<rect x="610.14" y="15.34" width="3.78" height="3.78" fill="none" stroke="#ff0000" stroke-width="0.9"/>
<rect x="610.84" y="15" width="3.78" height="3.78" fill="none" stroke="#ff0000" stroke-width="0.9"/>
<rect x="611.55" y="15.66" width="3.78" height="3.78" fill="none" stroke="#ff0000" stroke-width="0.9"/>
<rect x="612.26" y="14.61" width="3.78" height="3.78" fill="none" stroke="#ff0000" stroke-width="0.9"/>
<rect x="612.96" y="15.55" width="3.78" height="3.78" fill="none" stroke="#ff0000" stroke-width="0.9"/>
<rect x="613.67" y="14.94" width="3.78" height="3.78" fill="none" stroke="#ff0000" stroke-width="0.9"/>
<rect x="614.38" y="14.06" width="3.78" height="3.78" fill="none" stroke="#ff0000" stroke-width="0.9"/>
<rect x="615.08" y="15.06" width="3.78" height="3.78" fill="none" stroke="#ff0000" stroke-width="0.9"/>
<rect x="615.79" y="14.91" width="3.78" height="3.78" fill="none" stroke="#ff0000" stroke-width="0.9"/>
<rect x="616.5" y="14.35" width="3.78" height="3.78" fill="none" stroke="#ff0000" stroke-width="0.9"/>
<rect x="617.2" y="14.82" width="3.78" height="3.78" fill="none" stroke="#ff0000" stroke-width="0.9"/>
<rect x="617.91" y="15.15" width="3.78" height="3.78" fill="none" stroke="#ff0000" stroke-width="0.9"/>
<rect x="618.62" y="14.59" width="3.78" height="3.78" fill="none" stroke="#ff0000" stroke-width="0.9"/>
<rect x="619.33" y="14.37" width="3.78" height="3.78" fill="none" stroke="#ff0000" stroke-width="0.9"/>
<rect x="620.03" y="14.24" width="3.78" height="3.78" fill="none" stroke="#ff0000" stroke-width="0.9"/>
<rect x="620.74" y="14.82" width="3.78" height="3.78" fill="none" stroke="#ff0000" stroke-width="0.9"/>
<rect x="621.45" y="13.62" width="3.78" height="3.78" fill="none" stroke="#ff0000" stroke-width="0.9"/>
<rect x="622.15" y="13.58" width="3.78" height="3.78" fill="none" stroke="#ff0000" stroke-width="0.9"/>
<rect x="622.86" y="14.24" width="3.78" height="3.78" fill="none" stroke="#ff0000" stroke-width="0.9"/>
<rect x="623.57" y="14.05" width="3.78" height="3.78" fill="none" stroke="#ff0000" stroke-width="0.9"/>
<rect x="624.27" y="14.29" width="3.78" height="3.78" fill="none" stroke="#ff0000" stroke-width="0.9"/>
<rect x="624.98" y="13.39" width="3.78" height="3.78" fill="none" stroke="#ff0000" stroke-width="0.9"/>
<rect x="625.69" y="14.27" width="3.78" height="3.78" fill="none" stroke="#ff0000" stroke-width="0.9"/>
<rect x="626.39" y="13.58" width="3.78" height="3.78" fill="none" stroke="#ff0000" stroke-width="0.9"/>
<rect x="627.1" y="14.02" width="3.78" height="3.78" fill="none" stroke="#ff0000" stroke-width="0.9"/>
<rect x="627.81" y="14.04" width="3.78" height="3.78" fill="none" stroke="#ff0000" stroke-width="0.9"/>
<rect x="628.51" y="13.34" width="3.78" height="3.78" fill="none" stroke="#ff0000" stroke-width="0.9"/>
<rect x="629.22" y="12.99" width="3.78" height="3.78" fill="none" stroke="#ff0000" stroke-width="0.9"/>
<rect x="629.93" y="13.52" width="3.78" height="3.78" fill="none" stroke="#ff0000" stroke-width="0.9"/>
<rect x="630.63" y="13.75" width="3.78" height="3.78" fill="none" stroke="#ff0000" stroke-width="0.9"/>
<rect x="631.34" y="13.01" width="3.78" height="3.78" fill="none" stroke="#ff0000" stroke-width="0.9"/>
<rect x="632.05" y="13.33" width="3.78" height="3.78" fill="none" stroke="#ff0000" stroke-width="0.9"/>
<rect x="632.75" y="13.1" width="3.78" height="3.78" fill="none" stroke="#ff0000" stroke-width="0.9"/>
<rect x="633.46" y="12.49" width="3.78" height="3.78" fill="none" stroke="#ff0000" stroke-width="0.9"/>
<rect x="634.17" y="12.59" width="3.78" height="3.78" fill="none" stroke="#ff0000" stroke-width="0.9"/>
<rect x="634.87" y="13.26" width="3.78" height="3.78" fill="none" stroke="#ff0000" stroke-width="0.9"/>
<rect x="635.58" y="11.94" width="3.78" height="3.78" fill="none" stroke="#ff0000" stroke-width="0.9"/>
<rect x="636.29" y="12.89" width="3.78" height="3.78" fill="none" stroke="#ff0000" stroke-width="0.9"/>
<rect x="637" y="12.48" width="3.78" height="3.78" fill="none" stroke="#ff0000" stroke-width="0.9"/>
<rect x="637.7" y="13.05" width="3.78" height="3.78" fill="none" stroke="#ff0000" stroke-width="0.9"/>
<rect x="638.41" y="12.71" width="3.78" height="3.78" fill="none" stroke="#ff0000" stroke-width="0.9"/>
<rect x="639.12" y="13.41" width="3.78" height="3.78" fill="none" stroke="#ff0000" stroke-width="0.9"/>
<rect x="639.82" y="11.76" width="3.78" height="3.78" fill="none" stroke="#ff0000" stroke-width="0.9"/>
<rect x="640.53" y="11.88" width="3.78" height="3.78" fill="none" stroke="#ff0000" stroke-width="0.9"/>
<rect x="641.24" y="12.97" width="3.78" height="3.78" fill="none" stroke="#ff0000" stroke-width="0.9"/>
<rect x="641.94" y="13.04" width="3.78" height="3.78" fill="none" stroke="#ff0000" stroke-width="0.9"/>
<rect x="642.65" y="13.02" width="3.78" height="3.78" fill="none" stroke="#ff0000" stroke-width="0.9"/>
<rect x="643.36" y="11.71" width="3.78" height="3.78" fill="none" stroke="#ff0000" stroke-width="0.9"/>
<rect x="644.06" y="12.44" width="3.78" height="3.78" fill="none" stroke="#ff0000" stroke-width="0.9"/>
<rect x="644.77" y="12.26" width="3.78" height="3.78" fill="#fff" stroke="#ff0000" stroke-width="0.9"/>
<polyline points="508.13,115.8 508.83,95.45 509.54,87.66 510.25,81.56 510.95,76.97 511.66,72.66 512.37,69.17 513.07,66.4 513.78,64.24 514.49,62.27 515.2,59.83 515.9,58.61 516.61,56.28 517.32,55.31 518.02,54.45 518.73,53.42 519.44,52.4 520.14,51.67 520.85,50.62 521.56,49.57 522.26,48.74 522.97,48.02 523.68,46.67 524.38,47.28 525.09,46.34 525.8,44.71 526.5,46.42 527.21,45.46 527.92,44.8 528.62,44.47 529.33,44.02 530.04,43.99 530.74,43.41 531.45,43.25 532.16,42.64 532.87,43.54 533.57,42.81 534.28,42.14 534.99,42.34 535.69,42.03 536.4,40.98 537.11,41.25 537.81,40.38 538.52,40.05 539.23,39.96 539.93,39.6 540.64,39.6 541.35,39.92 542.05,39.05 542.76,38.58 543.47,38.77 544.17,38.33 544.88,37.72 545.59,38.3 546.29,37.47 547,36.79 547.71,37.73 548.41,37.28 549.12,37.28 549.83,36.39 550.54,36.81 551.24,36.42 551.95,37 552.66,36.58 553.36,36.45 554.07,37.12 554.78,35.56 555.48,35.69 556.19,36.76 556.9,35.53 557.6,35.81 558.31,35.44 559.02,35.37 559.72,36.09 560.43,35.41 561.14,34.54 561.84,35.36 562.55,35.46 563.26,35.51 563.96,35.35 564.67,34.55 565.38,33.85 566.08,34.29 566.79,34.26 567.5,33.25 568.21,34.37 568.91,34.32 569.62,33.67 570.33,33.55 571.03,34.14 571.74,34.1 572.45,33.34 573.15,33.25 573.86,33.84 574.57,33.24 575.27,33.29 575.98,32.74 576.69,32.92 577.39,32.84 578.1,32.88 578.81,32.18 579.51,31.96 580.22,32.68 580.93,32.07 581.63,32.71 582.34,32.27 583.05,31.9 583.75,31.49 584.46,32.28 585.17,32.07 585.88,31.89 586.58,32.58 587.29,31.84 588,32.08 588.7,31.55 589.41,32.16 590.12,32.47 590.82,31.51 591.53,31.35 592.24,31.65 592.94,30.95 593.65,31.41 594.36,31.5 595.06,30.96 595.77,31.81 596.48,31.36 597.18,31.01 597.89,30.56 598.6,30.96 599.3,30.69 600.01,31.06 600.72,30.58 601.42,29.92 602.13,30.91 602.84,29.5 603.55,30.79 604.25,30.44 604.96,30.32 605.67,29.92 606.37,30.91 607.08,31.28 607.79,30.06 608.49,29.96 609.2,30.02 609.91,29.11 610.61,30.18 611.32,30.14 612.03,29.82 612.73,30.06 613.44,29.46 614.15,30.74 614.85,30.34 615.56,31.7 616.27,29.78 616.97,30.3 617.68,29.71 618.39,29.14 619.09,30.09 619.8,30.19 620.51,30.25 621.22,30.35 621.92,30.21 622.63,29.6 623.34,29.82 624.04,29.76 624.75,29.82 625.46,29.28 626.16,29.42 626.87,29.66 627.58,29.26 628.28,29.57 628.99,29.98 629.7,28.77 630.4,29.16 631.11,29.75 631.82,28.8 632.52,29.08 633.23,29.89 633.94,28.43 634.64,28.96 635.35,28.66 636.06,28.93 636.76,29.04 637.47,29.63 638.18,28.46 638.89,28.84 639.59,28.94 640.3,28.61 641.01,28.69 641.71,28.38 642.42,28.81 643.13,28.62 643.83,29.52 644.54,28.71 645.25,28.18 645.95,27.88 646.66,28.64" fill="none" stroke="#ff8000" stroke-width="0.9"/>
<circle cx="508.13" cy="115.8" r="2.12" fill="none" stroke="#ff8000" stroke-width="0.9"/>
<circle cx="508.83" cy="95.45" r="2.12" fill="none" stroke="#ff8000" stroke-width="0.9"/>
<circle cx="509.54" cy="87.66" r="2.12" fill="none" stroke="#ff8000" stroke-width="0.9"/>
<circle cx="510.25" cy="81.56" r="2.12" fill="none" stroke="#ff8000" stroke-width="0.9"/>
<circle cx="510.95" cy="76.97" r="2.12" fill="none" stroke="#ff8000" stroke-width="0.9"/>
<circle cx="511.66" cy="72.66" r="2.12" fill="none" stroke="#ff8000" stroke-width="0.9"/>
<circle cx="512.37" cy="69.17" r="2.12" fill="none" stroke="#ff8000" stroke-width="0.9"/>
<circle cx="513.07" cy="66.4" r="2.12" fill="none" stroke="#ff8000" stroke-width="0.9"/>
<circle cx="513.78" cy="64.24" r="2.12" fill="none" stroke="#ff8000" stroke-width="0.9"/>
<circle cx="514.49" cy="62.27" r="2.12" fill="none" stroke="#ff8000" stroke-width="0.9"/>
<circle cx="515.2" cy="59.83" r="2.12" fill="none" stroke="#ff8000" stroke-width="0.9"/>
<circle cx="515.9" cy="58.61" r="2.12" fill="none" stroke="#ff8000" stroke-width="0.9"/>
<circle cx="516.61" cy="56.28" r="2.12" fill="none" stroke="#ff8000" stroke-width="0.9"/>
<circle cx="517.32" cy="55.31" r="2.12" fill="none" stroke="#ff8000" stroke-width="0.9"/>
<circle cx="518.02" cy="54.45" r="2.12" fill="none" stroke="#ff8000" stroke-width="0.9"/>
<circle cx="518.73" cy="53.42" r="2.12" fill="none" stroke="#ff8000" stroke-width="0.9"/>
<circle cx="519.44" cy="52.4" r="2.12" fill="none" stroke="#ff8000" stroke-width="0.9"/>
<circle cx="520.14" cy="51.67" r="2.12" fill="none" stroke="#ff8000" stroke-width="0.9"/>
<circle cx="520.85" cy="50.62" r="2.12" fill="none" stroke="#ff8000" stroke-width="0.9"/>
<circle cx="521.56" cy="49.57" r="2.12" fill="none" stroke="#ff8000" stroke-width="0.9"/>
<circle cx="522.26" cy="48.74" r="2.12" fill="none" stroke="#ff8000" stroke-width="0.9"/>
<circle cx="522.97" cy="48.02" r="2.12" fill="none" stroke="#ff8000" stroke-width="0.9"/>
<circle cx="523.68" cy="46.67" r="2.12" fill="none" stroke="#ff8000" stroke-width="0.9"/>
<circle cx="524.38" cy="47.28" r="2.12" fill="none" stroke="#ff8000" stroke-width="0.9"/>
<circle cx="525.09" cy="46.34" r="2.12" fill="none" stroke="#ff8000" stroke-width="0.9"/>
<circle cx="525.8" cy="44.71" r="2.12" fill="none" stroke="#ff8000" stroke-width="0.9"/>
<circle cx="526.5" cy="46.42" r="2.12" fill="none" stroke="#ff8000" stroke-width="0.9"/>
<circle cx="527.21" cy="45.46" r="2.12" fill="none" stroke="#ff8000" stroke-width="0.9"/>
<circle cx="527.92" cy="44.8" r="2.12" fill="none" stroke="#ff8000" stroke-width="0.9"/>
<circle cx="528.62" cy="44.47" r="2.12" fill="none" stroke="#ff8000" stroke-width="0.9"/>
<circle cx="529.33" cy="44.02" r="2.12" fill="none" stroke="#ff8000" stroke-width="0.9"/>
<circle cx="530.04" cy="43.99" r="2.12" fill="none" stroke="#ff8000" stroke-width="0.9"/>
<circle cx="530.74" cy="43.41" r="2.12" fill="none" stroke="#ff8000" stroke-width="0.9"/>
<circle cx="531.45" cy="43.25" r="2.12" fill="none" stroke="#ff8000" stroke-width="0.9"/>
<circle cx="532.16" cy="42.64" r="2.12" fill="none" stroke="#ff8000" stroke-width="0.9"/>
<circle cx="532.87" cy="43.54" r="2.12" fill="none" stroke="#ff8000" stroke-width="0.9"/>
<circle cx="533.57" cy="42.81" r="2.12" fill="none" stroke="#ff8000" stroke-width="0.9"/>
<circle cx="534.28" cy="42.14" r="2.12" fill="none" stroke="#ff8000" stroke-width="0.9"/>
<circle cx="534.99" cy="42.34" r="2.12" fill="none" stroke="#ff8000" stroke-width="0.9"/>
<circle cx="535.69" cy="42.03" r="2.12" fill="none" stroke="#ff8000" stroke-width="0.9"/>
<circle cx="536.4" cy="40.98" r="2.12" fill="none" stroke="#ff8000" stroke-width="0.9"/>
<circle cx="537.11" cy="41.25" r="2.12" fill="none" stroke="#ff8000" stroke-width="0.9"/>
<circle cx="537.81" cy="40.38" r="2.12" fill="none" stroke="#ff8000" stroke-width="0.9"/>
<circle cx="538.52" cy="40.05" r="2.12" fill="none" stroke="#ff8000" stroke-width="0.9"/>
<circle cx="539.23" cy="39.96" r="2.12" fill="none" stroke="#ff8000" stroke-width="0.9"/>
<circle cx="539.93" cy="39.6" r="2.12" fill="none" stroke="#ff8000" stroke-width="0.9"/>
<circle cx="540.64" cy="39.6" r="2.12" fill="none" stroke="#ff8000" stroke-width="0.9"/>
<circle cx="541.35" cy="39.92" r="2.12" fill="none" stroke="#ff8000" stroke-width="0.9"/>
<circle cx="542.05" cy="39.05" r="2.12" fill="none" stroke="#ff8000" stroke-width="0.9"/>
<circle cx="542.76" cy="38.58" r="2.12" fill="none" stroke="#ff8000" stroke-width="0.9"/>
<circle cx="543.47" cy="38.77" r="2.12" fill="none" stroke="#ff8000" stroke-width="0.9"/>
<circle cx="544.17" cy="38.33" r="2.12" fill="none" stroke="#ff8000" stroke-width="0.9"/>
<circle cx="544.88" cy="37.72" r="2.12" fill="none" stroke="#ff8000" stroke-width="0.9"/>
<circle cx="545.59" cy="38.3" r="2.12" fill="none" stroke="#ff8000" stroke-width="0.9"/>
<circle cx="546.29" cy="37.47" r="2.12" fill="none" stroke="#ff8000" stroke-width="0.9"/>
<circle cx="547" cy="36.79" r="2.12" fill="none" stroke="#ff8000" stroke-width="0.9"/>
<circle cx="547.71" cy="37.73" r="2.12" fill="none" stroke="#ff8000" stroke-width="0.9"/>
<circle cx="548.41" cy="37.28" r="2.12" fill="none" stroke="#ff8000" stroke-width="0.9"/>
<circle cx="549.12" cy="37.28" r="2.12" fill="none" stroke="#ff8000" stroke-width="0.9"/>
<circle cx="549.83" cy="36.39" r="2.12" fill="none" stroke="#ff8000" stroke-width="0.9"/>
<circle cx="550.54" cy="36.81" r="2.12" fill="none" stroke="#ff8000" stroke-width="0.9"/>
<circle cx="551.24" cy="36.42" r="2.12" fill="none" stroke="#ff8000" stroke-width="0.9"/>
<circle cx="551.95" cy="37" r="2.12" fill="none" stroke="#ff8000" stroke-width="0.9"/>
<circle cx="552.66" cy="36.58" r="2.12" fill="none" stroke="#ff8000" stroke-width="0.9"/>
<circle cx="553.36" cy="36.45" r="2.12" fill="none" stroke="#ff8000" stroke-width="0.9"/>
<circle cx="554.07" cy="37.12" r="2.12" fill="none" stroke="#ff8000" stroke-width="0.9"/>
<circle cx="554.78" cy="35.56" r="2.12" fill="none" stroke="#ff8000" stroke-width="0.9"/>
<circle cx="555.48" cy="35.69" r="2.12" fill="none" stroke="#ff8000" stroke-width="0.9"/>
<circle cx="556.19" cy="36.76" r="2.12" fill="none" stroke="#ff8000" stroke-width="0.9"/>
<circle cx="556.9" cy="35.53" r="2.12" fill="none" stroke="#ff8000" stroke-width="0.9"/>
<circle cx="557.6" cy="35.81" r="2.12" fill="none" stroke="#ff8000" stroke-width="0.9"/>
<circle cx="558.31" cy="35.44" r="2.12" fill="none" stroke="#ff8000" stroke-width="0.9"/>
<circle cx="559.02" cy="35.37" r="2.12" fill="none" stroke="#ff8000" stroke-width="0.9"/>
<circle cx="559.72" cy="36.09" r="2.12" fill="none" stroke="#ff8000" stroke-width="0.9"/>
<circle cx="560.43" cy="35.41" r="2.12" fill="none" stroke="#ff8000" stroke-width="0.9"/>
<circle cx="561.14" cy="34.54" r="2.12" fill="none" stroke="#ff8000" stroke-width="0.9"/>
<circle cx="561.84" cy="35.36" r="2.12" fill="none" stroke="#ff8000" stroke-width="0.9"/>
<circle cx="562.55" cy="35.46" r="2.12" fill="none" stroke="#ff8000" stroke-width="0.9"/>
<circle cx="563.26" cy="35.51" r="2.12" fill="none" stroke="#ff8000" stroke-width="0.9"/>
<circle cx="563.96" cy="35.35" r="2.12" fill="none" stroke="#ff8000" stroke-width="0.9"/>
<circle cx="564.67" cy="34.55" r="2.12" fill="none" stroke="#ff8000" stroke-width="0.9"/>
<circle cx="565.38" cy="33.85" r="2.12" fill="none" stroke="#ff8000" stroke-width="0.9"/>
<circle cx="566.08" cy="34.29" r="2.12" fill="none" stroke="#ff8000" stroke-width="0.9"/>
<circle cx="566.79" cy="34.26" r="2.12" fill="none" stroke="#ff8000" stroke-width="0.9"/>
<circle cx="567.5" cy="33.25" r="2.12" fill="none" stroke="#ff8000" stroke-width="0.9"/>
<circle cx="568.21" cy="34.37" r="2.12" fill="none" stroke="#ff8000" stroke-width="0.9"/>
<circle cx="568.91" cy="34.32" r="2.12" fill="none" stroke="#ff8000" stroke-width="0.9"/>
<circle cx="569.62" cy="33.67" r="2.12" fill="none" stroke="#ff8000" stroke-width="0.9"/>
<circle cx="570.33" cy="33.55" r="2.12" fill="none" stroke="#ff8000" stroke-width="0.9"/>
<circle cx="571.03" cy="34.14" r="2.12" fill="none" stroke="#ff8000" stroke-width="0.9"/>
<circle cx="571.74" cy="34.1" r="2.12" fill="none" stroke="#ff8000" stroke-width="0.9"/>
<circle cx="572.45" cy="33.34" r="2.12" fill="none" stroke="#ff8000" stroke-width="0.9"/>
<circle cx="573.15" cy="33.25" r="2.12" fill="none" stroke="#ff8000" stroke-width="0.9"/>
<circle cx="573.86" cy="33.84" r="2.12" fill="none" stroke="#ff8000" stroke-width="0.9"/>
<circle cx="574.57" cy="33.24" r="2.12" fill="none" stroke="#ff8000" stroke-width="0.9"/>
<circle cx="575.27" cy="33.29" r="2.12" fill="none" stroke="#ff8000" stroke-width="0.9"/>
<circle cx="575.98" cy="32.74" r="2.12" fill="none" stroke="#ff8000" stroke-width="0.9"/>
<circle cx="576.69" cy="32.92" r="2.12" fill="none" stroke="#ff8000" stroke-width="0.9"/>
<circle cx="577.39" cy="32.84" r="2.12" fill="none" stroke="#ff8000" stroke-width="0.9"/>
<circle cx="578.1" cy="32.88" r="2.12" fill="none" stroke="#ff8000" stroke-width="0.9"/>
<circle cx="578.81" cy="32.18" r="2.12" fill="none" stroke="#ff8000" stroke-width="0.9"/>
<circle cx="579.51" cy="31.96" r="2.12" fill="none" stroke="#ff8000" stroke-width="0.9"/>
<circle cx="580.22" cy="32.68" r="2.12" fill="none" stroke="#ff8000" stroke-width="0.9"/>
<circle cx="580.93" cy="32.07" r="2.12" fill="none" stroke="#ff8000" stroke-width="0.9"/>
<circle cx="581.63" cy="32.71" r="2.12" fill="none" stroke="#ff8000" stroke-width="0.9"/>
<circle cx="582.34" cy="32.27" r="2.12" fill="none" stroke="#ff8000" stroke-width="0.9"/>
<circle cx="583.05" cy="31.9" r="2.12" fill="none" stroke="#ff8000" stroke-width="0.9"/>
<circle cx="583.75" cy="31.49" r="2.12" fill="none" stroke="#ff8000" stroke-width="0.9"/>
<circle cx="584.46" cy="32.28" r="2.12" fill="none" stroke="#ff8000" stroke-width="0.9"/>
<circle cx="585.17" cy="32.07" r="2.12" fill="none" stroke="#ff8000" stroke-width="0.9"/>
<circle cx="585.88" cy="31.89" r="2.12" fill="none" stroke="#ff8000" stroke-width="0.9"/>
<circle cx="586.58" cy="32.58" r="2.12" fill="none" stroke="#ff8000" stroke-width="0.9"/>
<circle cx="587.29" cy="31.84" r="2.12" fill="none" stroke="#ff8000" stroke-width="0.9"/>
<circle cx="588" cy="32.08" r="2.12" fill="none" stroke="#ff8000" stroke-width="0.9"/>
<circle cx="588.7" cy="31.55" r="2.12" fill="none" stroke="#ff8000" stroke-width="0.9"/>
<circle cx="589.41" cy="32.16" r="2.12" fill="none" stroke="#ff8000" stroke-width="0.9"/>
<circle cx="590.12" cy="32.47" r="2.12" fill="none" stroke="#ff8000" stroke-width="0.9"/>
<circle cx="590.82" cy="31.51" r="2.12" fill="none" stroke="#ff8000" stroke-width="0.9"/>
<circle cx="591.53" cy="31.35" r="2.12" fill="none" stroke="#ff8000" stroke-width="0.9"/>
<circle cx="592.24" cy="31.65" r="2.12" fill="none" stroke="#ff8000" stroke-width="0.9"/>
<circle cx="592.94" cy="30.95" r="2.12" fill="none" stroke="#ff8000" stroke-width="0.9"/>
<circle cx="593.65" cy="31.41" r="2.12" fill="none" stroke="#ff8000" stroke-width="0.9"/>
<circle cx="594.36" cy="31.5" r="2.12" fill="none" stroke="#ff8000" stroke-width="0.9"/>
<circle cx="595.06" cy="30.96" r="2.12" fill="none" stroke="#ff8000" stroke-width="0.9"/>
<circle cx="595.77" cy="31.81" r="2.12" fill="none" stroke="#ff8000" stroke-width="0.9"/>
<circle cx="596.48" cy="31.36" r="2.12" fill="none" stroke="#ff8000" stroke-width="0.9"/>
<circle cx="597.18" cy="31.01" r="2.12" fill="none" stroke="#ff8000" stroke-width="0.9"/>
<circle cx="597.89" cy="30.56" r="2.12" fill="none" stroke="#ff8000" stroke-width="0.9"/>
<circle cx="598.6" cy="30.96" r="2.12" fill="none" stroke="#ff8000" stroke-width="0.9"/>
<circle cx="599.3" cy="30.69" r="2.12" fill="none" stroke="#ff8000" stroke-width="0.9"/>
<circle cx="600.01" cy="31.06" r="2.12" fill="none" stroke="#ff8000" stroke-width="0.9"/>
<circle cx="600.72" cy="30.58" r="2.12" fill="none" stroke="#ff8000" stroke-width="0.9"/>
<circle cx="601.42" cy="29.92" r="2.12" fill="none" stroke="#ff8000" stroke-width="0.9"/>
<circle cx="602.13" cy="30.91" r="2.12" fill="none" stroke="#ff8000" stroke-width="0.9"/>
<circle cx="602.84" cy="29.5" r="2.12" fill="none" stroke="#ff8000" stroke-width="0.9"/>
<circle cx="603.55" cy="30.79" r="2.12" fill="none" stroke="#ff8000" stroke-width="0.9"/>
<circle cx="604.25" cy="30.44" r="2.12" fill="none" stroke="#ff8000" stroke-width="0.9"/>
<circle cx="604.96" cy="30.32" r="2.12" fill="none" stroke="#ff8000" stroke-width="0.9"/>
<circle cx="605.67" cy="29.92" r="2.12" fill="none" stroke="#ff8000" stroke-width="0.9"/>
<circle cx="606.37" cy="30.91" r="2.12" fill="none" stroke="#ff8000" stroke-width="0.9"/>
<circle cx="607.08" cy="31.28" r="2.12" fill="none" stroke="#ff8000" stroke-width="0.9"/>
<circle cx="607.79" cy="30.06" r="2.12" fill="none" stroke="#ff8000" stroke-width="0.9"/>
<circle cx="608.49" cy="29.96" r="2.12" fill="none" stroke="#ff8000" stroke-width="0.9"/>
<circle cx="609.2" cy="30.02" r="2.12" fill="none" stroke="#ff8000" stroke-width="0.9"/>
<circle cx="609.91" cy="29.11" r="2.12" fill="none" stroke="#ff8000" stroke-width="0.9"/>
<circle cx="610.61" cy="30.18" r="2.12" fill="none" stroke="#ff8000" stroke-width="0.9"/>
<circle cx="611.32" cy="30.14" r="2.12" fill="none" stroke="#ff8000" stroke-width="0.9"/>
<circle cx="612.03" cy="29.82" r="2.12" fill="none" stroke="#ff8000" stroke-width="0.9"/>
<circle cx="612.73" cy="30.06" r="2.12" fill="none" stroke="#ff8000" stroke-width="0.9"/>
<circle cx="613.44" cy="29.46" r="2.12" fill="none" stroke="#ff8000" stroke-width="0.9"/>
<circle cx="614.15" cy="30.74" r="2.12" fill="none" stroke="#ff8000" stroke-width="0.9"/>
<circle cx="614.85" cy="30.34" r="2.12" fill="none" stroke="#ff8000" stroke-width="0.9"/>
<circle cx="615.56" cy="31.7" r="2.12" fill="none" stroke="#ff8000" stroke-width="0.9"/>
<circle cx="616.27" cy="29.78" r="2.12" fill="none" stroke="#ff8000" stroke-width="0.9"/>
<circle cx="616.97" cy="30.3" r="2.12" fill="none" stroke="#ff8000" stroke-width="0.9"/>
<circle cx="617.68" cy="29.71" r="2.12" fill="none" stroke="#ff8000" stroke-width="0.9"/>
<circle cx="618.39" cy="29.14" r="2.12" fill="none" stroke="#ff8000" stroke-width="0.9"/>
<circle cx="619.09" cy="30.09" r="2.12" fill="none" stroke="#ff8000" stroke-width="0.9"/>
<circle cx="619.8" cy="30.19" r="2.12" fill="none" stroke="#ff8000" stroke-width="0.9"/>
<circle cx="620.51" cy="30.25" r="2.12" fill="none" stroke="#ff8000" stroke-width="0.9"/>
<circle cx="621.22" cy="30.35" r="2.12" fill="none" stroke="#ff8000" stroke-width="0.9"/>
<circle cx="621.92" cy="30.21" r="2.12" fill="none" stroke="#ff8000" stroke-width="0.9"/>
<circle cx="622.63" cy="29.6" r="2.12" fill="none" stroke="#ff8000" stroke-width="0.9"/>
<circle cx="623.34" cy="29.82" r="2.12" fill="none" stroke="#ff8000" stroke-width="0.9"/>
<circle cx="624.04" cy="29.76" r="2.12" fill="none" stroke="#ff8000" stroke-width="0.9"/>
<circle cx="624.75" cy="29.82" r="2.12" fill="none" stroke="#ff8000" stroke-width="0.9"/>
<circle cx="625.46" cy="29.28" r="2.12" fill="none" stroke="#ff8000" stroke-width="0.9"/>
<circle cx="626.16" cy="29.42" r="2.12" fill="none" stroke="#ff8000" stroke-width="0.9"/>
<circle cx="626.87" cy="29.66" r="2.12" fill="none" stroke="#ff8000" stroke-width="0.9"/>
<circle cx="627.58" cy="29.26" r="2.12" fill="none" stroke="#ff8000" stroke-width="0.9"/>
<circle cx="628.28" cy="29.57" r="2.12" fill="none" stroke="#ff8000" stroke-width="0.9"/>
<circle cx="628.99" cy="29.98" r="2.12" fill="none" stroke="#ff8000" stroke-width="0.9"/>
<circle cx="629.7" cy="28.77" r="2.12" fill="none" stroke="#ff8000" stroke-width="0.9"/>
<circle cx="630.4" cy="29.16" r="2.12" fill="none" stroke="#ff8000" stroke-width="0.9"/>
<circle cx="631.11" cy="29.75" r="2.12" fill="none" stroke="#ff8000" stroke-width="0.9"/>
<circle cx="631.82" cy="28.8" r="2.12" fill="none" stroke="#ff8000" stroke-width="0.9"/>
<circle cx="632.52" cy="29.08" r="2.12" fill="none" stroke="#ff8000" stroke-width="0.9"/>
<circle cx="633.23" cy="29.89" r="2.12" fill="none" stroke="#ff8000" stroke-width="0.9"/>
<circle cx="633.94" cy="28.43" r="2.12" fill="none" stroke="#ff8000" stroke-width="0.9"/>
<circle cx="634.64" cy="28.96" r="2.12" fill="none" stroke="#ff8000" stroke-width="0.9"/>
<circle cx="635.35" cy="28.66" r="2.12" fill="none" stroke="#ff8000" stroke-width="0.9"/>
<circle cx="636.06" cy="28.93" r="2.12" fill="none" stroke="#ff8000" stroke-width="0.9"/>
<circle cx="636.76" cy="29.04" r="2.12" fill="none" stroke="#ff8000" stroke-width="0.9"/>
<circle cx="637.47" cy="29.63" r="2.12" fill="none" stroke="#ff8000" stroke-width="0.9"/>
<circle cx="638.18" cy="28.46" r="2.12" fill="none" stroke="#ff8000" stroke-width="0.9"/>
<circle cx="638.89" cy="28.84" r="2.12" fill="none" stroke="#ff8000" stroke-width="0.9"/>
<circle cx="639.59" cy="28.94" r="2.12" fill="none" stroke="#ff8000" stroke-width="0.9"/>
<circle cx="640.3" cy="28.61" r="2.12" fill="none" stroke="#ff8000" stroke-width="0.9"/>
<circle cx="641.01" cy="28.69" r="2.12" fill="none" stroke="#ff8000" stroke-width="0.9"/>
<circle cx="641.71" cy="28.38" r="2.12" fill="none" stroke="#ff8000" stroke-width="0.9"/>
<circle cx="642.42" cy="28.81" r="2.12" fill="none" stroke="#ff8000" stroke-width="0.9"/>
<circle cx="643.13" cy="28.62" r="2.12" fill="none" stroke="#ff8000" stroke-width="0.9"/>
<circle cx="643.83" cy="29.52" r="2.12" fill="none" stroke="#ff8000" stroke-width="0.9"/>
<circle cx="644.54" cy="28.71" r="2.12" fill="none" stroke="#ff8000" stroke-width="0.9"/>
<circle cx="645.25" cy="28.18" r="2.12" fill="none" stroke="#ff8000" stroke-width="0.9"/>
<circle cx="645.95" cy="27.88" r="2.12" fill="none" stroke="#ff8000" stroke-width="0.9"/>
<circle cx="646.66" cy="28.64" r="2.12" fill="#fff" stroke="#ff8000" stroke-width="0.9"/>
<polyline points="512.37,123.79 513.07,121.85 513.78,123.61 514.49,122.36 515.2,121.23 515.9,122.76 516.61,121.41 517.32,123.27 518.02,122.22 518.73,122.4 519.44,122.11 520.14,120.98 520.85,119.62 521.56,122.66 522.26,122.5 522.97,121.34 523.68,122.87 524.38,121.23 525.09,121.1 525.8,121.92 526.5,121.06 527.21,123.14 527.92,120.75 528.62,123.07 529.33,122.17 530.04,122 530.74,121.82 531.45,120.51 532.16,121.28 532.87,121.75 533.57,120.77 534.28,119.7 534.99,121.29 535.69,120.91 536.4,120 537.11,120.98 537.81,122.56 538.52,118.69 539.23,118.97 539.93,123.24 540.64,121.25 541.35,120.78 542.05,120.21 542.76,120.51 543.47,121.46 544.17,122.25 544.88,121.07 545.59,120.11 546.29,122.28 547,122.21 547.71,121.18 548.41,123.13 549.12,121.42 549.83,121.59 550.54,120.69 551.24,121.86 551.95,122.04 552.66,121.54 553.36,121.19 554.07,121.81 554.78,121.12 555.48,120.37 556.19,119.92 556.9,119.39 557.6,121.93 558.31,121.56 559.02,123.66 559.72,119.19 560.43,121.87 561.14,121.16 561.84,120.59 562.55,122.51 563.26,120.65 563.96,121.15 564.67,122.99 565.38,120.82 566.08,119.9 566.79,123.03 567.5,120.3 568.21,120.91 568.91,120.64 569.62,120.67 570.33,119.79 571.03,121.35 571.74,120.23 572.45,121.54 573.15,120.38 573.86,121.95 574.57,121.23 575.27,119.35 575.98,120.66 576.69,121.28 577.39,122.29 578.1,121.93 578.81,120.92 579.51,120.16 580.22,120.68 580.93,120.58 581.63,121.16 582.34,119.74 583.05,121.52 583.75,121.68 584.46,120.21 585.17,121.05 585.88,121.4 586.58,121.71 587.29,121.38 588,120.48 588.7,120.76 589.41,122.35 590.12,120.68 590.82,120.94 591.53,122.14 592.24,120.33 592.94,121.4 593.65,121.46 594.36,120.31 595.06,119.77 595.77,121.82 596.48,120.67 597.18,122.01 597.89,118.76 598.6,121.62 599.3,119.9 600.01,121.78 600.72,120.29 601.42,118.85 602.13,123.71 602.84,121.56 603.55,120.61 604.25,121.21 604.96,121.8 605.67,118.92 606.37,121.04 607.08,122.8 607.79,120.25 608.49,122.88 609.2,119.94 609.91,121.71 610.61,120.97 611.32,119.83 612.03,121 612.73,122.54 613.44,122.85 614.15,119.91 614.85,120.36 615.56,121.95 616.27,120.24 616.97,120.61 617.68,120.46 618.39,123.42 619.09,121.43 619.8,120.2 620.51,120.37 621.22,120.22 621.92,123.63 622.63,120.95 623.34,120.62 624.04,118.51 624.75,122.09 625.46,121.45 626.16,121.08 626.87,120.21 627.58,121.57 628.28,119.95 628.99,121.92 629.7,120.85 630.4,121.66 631.11,120.96 631.82,121.82 632.52,122.75 633.23,120 633.94,120.81 634.64,121.69 635.35,120.91 636.06,120.11 636.76,122.12 637.47,121.23 638.18,120.57 638.89,120.58 639.59,121.46 640.3,123.27 641.01,119.85 641.71,120.78 642.42,121.1 643.13,121.4 643.83,120.85 644.54,121.55 645.25,122.16 645.95,121.87 646.66,121.73" fill="none" stroke="#1a1aff" stroke-width="0.9"/>
<path d="M512.37 126.55 L509.61 121.59 L515.13 121.59 Z" fill="none" stroke="#1a1aff" stroke-width="0.6"/>
<path d="M513.07 124.61 L510.31 119.64 L515.83 119.64 Z" fill="none" stroke="#1a1aff" stroke-width="0.6"/>
<path d="M513.78 126.37 L511.02 121.4 L516.54 121.4 Z" fill="none" stroke="#1a1aff" stroke-width="0.6"/>
<path d="M514.49 125.12 L511.73 120.15 L517.25 120.15 Z" fill="none" stroke="#1a1aff" stroke-width="0.6"/>
<path d="M515.2 123.99 L512.44 119.02 L517.96 119.02 Z" fill="none" stroke="#1a1aff" stroke-width="0.6"/>
<path d="M515.9 125.52 L513.14 120.55 L518.66 120.55 Z" fill="none" stroke="#1a1aff" stroke-width="0.6"/>
<path d="M516.61 124.17 L513.85 119.21 L519.37 119.21 Z" fill="none" stroke="#1a1aff" stroke-width="0.6"/>
<path d="M517.32 126.03 L514.56 121.06 L520.08 121.06 Z" fill="none" stroke="#1a1aff" stroke-width="0.6"/>
<path d="M518.02 124.98 L515.26 120.01 L520.78 120.01 Z" fill="none" stroke="#1a1aff" stroke-width="0.6"/>
<path d="M518.73 125.16 L515.97 120.19 L521.49 120.19 Z" fill="none" stroke="#1a1aff" stroke-width="0.6"/>
<path d="M519.44 124.87 L516.68 119.9 L522.2 119.9 Z" fill="none" stroke="#1a1aff" stroke-width="0.6"/>
<path d="M520.14 123.74 L517.38 118.78 L522.9 118.78 Z" fill="none" stroke="#1a1aff" stroke-width="0.6"/>
<path d="M520.85 122.38 L518.09 117.41 L523.61 117.41 Z" fill="none" stroke="#1a1aff" stroke-width="0.6"/>
<path d="M521.56 125.42 L518.8 120.45 L524.32 120.45 Z" fill="none" stroke="#1a1aff" stroke-width="0.6"/>
<path d="M522.26 125.26 L519.5 120.29 L525.02 120.29 Z" fill="none" stroke="#1a1aff" stroke-width="0.6"/>
<path d="M522.97 124.1 L520.21 119.13 L525.73 119.13 Z" fill="none" stroke="#1a1aff" stroke-width="0.6"/>
<path d="M523.68 125.63 L520.92 120.66 L526.44 120.66 Z" fill="none" stroke="#1a1aff" stroke-width="0.6"/>
<path d="M524.38 123.99 L521.62 119.02 L527.14 119.02 Z" fill="none" stroke="#1a1aff" stroke-width="0.6"/>
<path d="M525.09 123.86 L522.33 118.9 L527.85 118.9 Z" fill="none" stroke="#1a1aff" stroke-width="0.6"/>
<path d="M525.8 124.68 L523.04 119.72 L528.56 119.72 Z" fill="none" stroke="#1a1aff" stroke-width="0.6"/>
<path d="M526.5 123.82 L523.74 118.85 L529.26 118.85 Z" fill="none" stroke="#1a1aff" stroke-width="0.6"/>
<path d="M527.21 125.9 L524.45 120.93 L529.97 120.93 Z" fill="none" stroke="#1a1aff" stroke-width="0.6"/>
<path d="M527.92 123.51 L525.16 118.54 L530.68 118.54 Z" fill="none" stroke="#1a1aff" stroke-width="0.6"/>
<path d="M528.62 125.83 L525.86 120.86 L531.38 120.86 Z" fill="none" stroke="#1a1aff" stroke-width="0.6"/>
<path d="M529.33 124.93 L526.57 119.97 L532.09 119.97 Z" fill="none" stroke="#1a1aff" stroke-width="0.6"/>
<path d="M530.04 124.76 L527.28 119.8 L532.8 119.8 Z" fill="none" stroke="#1a1aff" stroke-width="0.6"/>
<path d="M530.74 124.58 L527.98 119.61 L533.5 119.61 Z" fill="none" stroke="#1a1aff" stroke-width="0.6"/>
<path d="M531.45 123.27 L528.69 118.3 L534.21 118.3 Z" fill="none" stroke="#1a1aff" stroke-width="0.6"/>
<path d="M532.16 124.04 L529.4 119.07 L534.92 119.07 Z" fill="none" stroke="#1a1aff" stroke-width="0.6"/>
<path d="M532.87 124.51 L530.11 119.54 L535.63 119.54 Z" fill="none" stroke="#1a1aff" stroke-width="0.6"/>
<path d="M533.57 123.53 L530.81 118.56 L536.33 118.56 Z" fill="none" stroke="#1a1aff" stroke-width="0.6"/>
<path d="M534.28 122.46 L531.52 117.49 L537.04 117.49 Z" fill="none" stroke="#1a1aff" stroke-width="0.6"/>
<path d="M534.99 124.05 L532.23 119.08 L537.75 119.08 Z" fill="none" stroke="#1a1aff" stroke-width="0.6"/>
<path d="M535.69 123.67 L532.93 118.7 L538.45 118.7 Z" fill="none" stroke="#1a1aff" stroke-width="0.6"/>
<path d="M536.4 122.76 L533.64 117.79 L539.16 117.79 Z" fill="none" stroke="#1a1aff" stroke-width="0.6"/>
<path d="M537.11 123.74 L534.35 118.77 L539.87 118.77 Z" fill="none" stroke="#1a1aff" stroke-width="0.6"/>
<path d="M537.81 125.32 L535.05 120.35 L540.57 120.35 Z" fill="none" stroke="#1a1aff" stroke-width="0.6"/>
<path d="M538.52 121.45 L535.76 116.48 L541.28 116.48 Z" fill="none" stroke="#1a1aff" stroke-width="0.6"/>
<path d="M539.23 121.73 L536.47 116.76 L541.99 116.76 Z" fill="none" stroke="#1a1aff" stroke-width="0.6"/>
<path d="M539.93 126 L537.17 121.03 L542.69 121.03 Z" fill="none" stroke="#1a1aff" stroke-width="0.6"/>
<path d="M540.64 124.01 L537.88 119.04 L543.4 119.04 Z" fill="none" stroke="#1a1aff" stroke-width="0.6"/>
<path d="M541.35 123.54 L538.59 118.57 L544.11 118.57 Z" fill="none" stroke="#1a1aff" stroke-width="0.6"/>
<path d="M542.05 122.97 L539.29 118 L544.81 118 Z" fill="none" stroke="#1a1aff" stroke-width="0.6"/>
<path d="M542.76 123.27 L540 118.3 L545.52 118.3 Z" fill="none" stroke="#1a1aff" stroke-width="0.6"/>
<path d="M543.47 124.22 L540.71 119.25 L546.23 119.25 Z" fill="none" stroke="#1a1aff" stroke-width="0.6"/>
<path d="M544.17 125.01 L541.41 120.05 L546.93 120.05 Z" fill="none" stroke="#1a1aff" stroke-width="0.6"/>
<path d="M544.88 123.83 L542.12 118.86 L547.64 118.86 Z" fill="none" stroke="#1a1aff" stroke-width="0.6"/>
<path d="M545.59 122.87 L542.83 117.91 L548.35 117.91 Z" fill="none" stroke="#1a1aff" stroke-width="0.6"/>
<path d="M546.29 125.04 L543.53 120.07 L549.05 120.07 Z" fill="none" stroke="#1a1aff" stroke-width="0.6"/>
<path d="M547 124.97 L544.24 120 L549.76 120 Z" fill="none" stroke="#1a1aff" stroke-width="0.6"/>
<path d="M547.71 123.94 L544.95 118.97 L550.47 118.97 Z" fill="none" stroke="#1a1aff" stroke-width="0.6"/>
<path d="M548.41 125.89 L545.65 120.92 L551.17 120.92 Z" fill="none" stroke="#1a1aff" stroke-width="0.6"/>
<path d="M549.12 124.18 L546.36 119.21 L551.88 119.21 Z" fill="none" stroke="#1a1aff" stroke-width="0.6"/>
<path d="M549.83 124.35 L547.07 119.39 L552.59 119.39 Z" fill="none" stroke="#1a1aff" stroke-width="0.6"/>
<path d="M550.54 123.45 L547.78 118.48 L553.3 118.48 Z" fill="none" stroke="#1a1aff" stroke-width="0.6"/>
<path d="M551.24 124.62 L548.48 119.65 L554 119.65 Z" fill="none" stroke="#1a1aff" stroke-width="0.6"/>
<path d="M551.95 124.8 L549.19 119.83 L554.71 119.83 Z" fill="none" stroke="#1a1aff" stroke-width="0.6"/>
<path d="M552.66 124.3 L549.9 119.33 L555.42 119.33 Z" fill="none" stroke="#1a1aff" stroke-width="0.6"/>
<path d="M553.36 123.95 L550.6 118.98 L556.12 118.98 Z" fill="none" stroke="#1a1aff" stroke-width="0.6"/>
<path d="M554.07 124.57 L551.31 119.61 L556.83 119.61 Z" fill="none" stroke="#1a1aff" stroke-width="0.6"/>
<path d="M554.78 123.88 L552.02 118.91 L557.54 118.91 Z" fill="none" stroke="#1a1aff" stroke-width="0.6"/>
<path d="M555.48 123.13 L552.72 118.16 L558.24 118.16 Z" fill="none" stroke="#1a1aff" stroke-width="0.6"/>
<path d="M556.19 122.68 L553.43 117.71 L558.95 117.71 Z" fill="none" stroke="#1a1aff" stroke-width="0.6"/>
<path d="M556.9 122.15 L554.14 117.18 L559.66 117.18 Z" fill="none" stroke="#1a1aff" stroke-width="0.6"/>
<path d="M557.6 124.69 L554.84 119.72 L560.36 119.72 Z" fill="none" stroke="#1a1aff" stroke-width="0.6"/>
<path d="M558.31 124.32 L555.55 119.35 L561.07 119.35 Z" fill="none" stroke="#1a1aff" stroke-width="0.6"/>
<path d="M559.02 126.42 L556.26 121.45 L561.78 121.45 Z" fill="none" stroke="#1a1aff" stroke-width="0.6"/>
<path d="M559.72 121.95 L556.96 116.98 L562.48 116.98 Z" fill="none" stroke="#1a1aff" stroke-width="0.6"/>
<path d="M560.43 124.63 L557.67 119.66 L563.19 119.66 Z" fill="none" stroke="#1a1aff" stroke-width="0.6"/>
<path d="M561.14 123.92 L558.38 118.95 L563.9 118.95 Z" fill="none" stroke="#1a1aff" stroke-width="0.6"/>
<path d="M561.84 123.35 L559.08 118.38 L564.6 118.38 Z" fill="none" stroke="#1a1aff" stroke-width="0.6"/>
<path d="M562.55 125.27 L559.79 120.3 L565.31 120.3 Z" fill="none" stroke="#1a1aff" stroke-width="0.6"/>
<path d="M563.26 123.41 L560.5 118.44 L566.02 118.44 Z" fill="none" stroke="#1a1aff" stroke-width="0.6"/>
<path d="M563.96 123.91 L561.2 118.94 L566.72 118.94 Z" fill="none" stroke="#1a1aff" stroke-width="0.6"/>
<path d="M564.67 125.75 L561.91 120.78 L567.43 120.78 Z" fill="none" stroke="#1a1aff" stroke-width="0.6"/>
<path d="M565.38 123.58 L562.62 118.62 L568.14 118.62 Z" fill="none" stroke="#1a1aff" stroke-width="0.6"/>
<path d="M566.08 122.66 L563.32 117.69 L568.84 117.69 Z" fill="none" stroke="#1a1aff" stroke-width="0.6"/>
<path d="M566.79 125.79 L564.03 120.82 L569.55 120.82 Z" fill="none" stroke="#1a1aff" stroke-width="0.6"/>
<path d="M567.5 123.06 L564.74 118.09 L570.26 118.09 Z" fill="none" stroke="#1a1aff" stroke-width="0.6"/>
<path d="M568.21 123.67 L565.45 118.7 L570.97 118.7 Z" fill="none" stroke="#1a1aff" stroke-width="0.6"/>
<path d="M568.91 123.4 L566.15 118.43 L571.67 118.43 Z" fill="none" stroke="#1a1aff" stroke-width="0.6"/>
<path d="M569.62 123.43 L566.86 118.46 L572.38 118.46 Z" fill="none" stroke="#1a1aff" stroke-width="0.6"/>
<path d="M570.33 122.55 L567.57 117.58 L573.09 117.58 Z" fill="none" stroke="#1a1aff" stroke-width="0.6"/>
<path d="M571.03 124.11 L568.27 119.14 L573.79 119.14 Z" fill="none" stroke="#1a1aff" stroke-width="0.6"/>
<path d="M571.74 122.99 L568.98 118.02 L574.5 118.02 Z" fill="none" stroke="#1a1aff" stroke-width="0.6"/>
<path d="M572.45 124.3 L569.69 119.33 L575.21 119.33 Z" fill="none" stroke="#1a1aff" stroke-width="0.6"/>
<path d="M573.15 123.14 L570.39 118.17 L575.91 118.17 Z" fill="none" stroke="#1a1aff" stroke-width="0.6"/>
<path d="M573.86 124.71 L571.1 119.74 L576.62 119.74 Z" fill="none" stroke="#1a1aff" stroke-width="0.6"/>
<path d="M574.57 123.99 L571.81 119.02 L577.33 119.02 Z" fill="none" stroke="#1a1aff" stroke-width="0.6"/>
<path d="M575.27 122.11 L572.51 117.14 L578.03 117.14 Z" fill="none" stroke="#1a1aff" stroke-width="0.6"/>
<path d="M575.98 123.42 L573.22 118.46 L578.74 118.46 Z" fill="none" stroke="#1a1aff" stroke-width="0.6"/>
<path d="M576.69 124.04 L573.93 119.07 L579.45 119.07 Z" fill="none" stroke="#1a1aff" stroke-width="0.6"/>
<path d="M577.39 125.05 L574.63 120.08 L580.15 120.08 Z" fill="none" stroke="#1a1aff" stroke-width="0.6"/>
<path d="M578.1 124.69 L575.34 119.72 L580.86 119.72 Z" fill="none" stroke="#1a1aff" stroke-width="0.6"/>
<path d="M578.81 123.68 L576.05 118.71 L581.57 118.71 Z" fill="none" stroke="#1a1aff" stroke-width="0.6"/>
<path d="M579.51 122.92 L576.75 117.95 L582.27 117.95 Z" fill="none" stroke="#1a1aff" stroke-width="0.6"/>
<path d="M580.22 123.44 L577.46 118.48 L582.98 118.48 Z" fill="none" stroke="#1a1aff" stroke-width="0.6"/>
<path d="M580.93 123.34 L578.17 118.38 L583.69 118.38 Z" fill="none" stroke="#1a1aff" stroke-width="0.6"/>
<path d="M581.63 123.92 L578.87 118.95 L584.39 118.95 Z" fill="none" stroke="#1a1aff" stroke-width="0.6"/>
<path d="M582.34 122.5 L579.58 117.53 L585.1 117.53 Z" fill="none" stroke="#1a1aff" stroke-width="0.6"/>
<path d="M583.05 124.28 L580.29 119.31 L585.81 119.31 Z" fill="none" stroke="#1a1aff" stroke-width="0.6"/>
<path d="M583.75 124.44 L580.99 119.47 L586.51 119.47 Z" fill="none" stroke="#1a1aff" stroke-width="0.6"/>
<path d="M584.46 122.97 L581.7 118 L587.22 118 Z" fill="none" stroke="#1a1aff" stroke-width="0.6"/>
<path d="M585.17 123.81 L582.41 118.85 L587.93 118.85 Z" fill="none" stroke="#1a1aff" stroke-width="0.6"/>
<path d="M585.88 124.16 L583.12 119.19 L588.64 119.19 Z" fill="none" stroke="#1a1aff" stroke-width="0.6"/>
<path d="M586.58 124.47 L583.82 119.5 L589.34 119.5 Z" fill="none" stroke="#1a1aff" stroke-width="0.6"/>
<path d="M587.29 124.14 L584.53 119.17 L590.05 119.17 Z" fill="none" stroke="#1a1aff" stroke-width="0.6"/>
<path d="M588 123.24 L585.24 118.27 L590.76 118.27 Z" fill="none" stroke="#1a1aff" stroke-width="0.6"/>
<path d="M588.7 123.52 L585.94 118.55 L591.46 118.55 Z" fill="none" stroke="#1a1aff" stroke-width="0.6"/>
<path d="M589.41 125.11 L586.65 120.14 L592.17 120.14 Z" fill="none" stroke="#1a1aff" stroke-width="0.6"/>
<path d="M590.12 123.44 L587.36 118.47 L592.88 118.47 Z" fill="none" stroke="#1a1aff" stroke-width="0.6"/>
<path d="M590.82 123.7 L588.06 118.73 L593.58 118.73 Z" fill="none" stroke="#1a1aff" stroke-width="0.6"/>
<path d="M591.53 124.9 L588.77 119.93 L594.29 119.93 Z" fill="none" stroke="#1a1aff" stroke-width="0.6"/>
<path d="M592.24 123.09 L589.48 118.12 L595 118.12 Z" fill="none" stroke="#1a1aff" stroke-width="0.6"/>
<path d="M592.94 124.16 L590.18 119.2 L595.7 119.2 Z" fill="none" stroke="#1a1aff" stroke-width="0.6"/>
<path d="M593.65 124.22 L590.89 119.25 L596.41 119.25 Z" fill="none" stroke="#1a1aff" stroke-width="0.6"/>
<path d="M594.36 123.07 L591.6 118.1 L597.12 118.1 Z" fill="none" stroke="#1a1aff" stroke-width="0.6"/>
<path d="M595.06 122.53 L592.3 117.56 L597.82 117.56 Z" fill="none" stroke="#1a1aff" stroke-width="0.6"/>
<path d="M595.77 124.58 L593.01 119.61 L598.53 119.61 Z" fill="none" stroke="#1a1aff" stroke-width="0.6"/>
<path d="M596.48 123.43 L593.72 118.46 L599.24 118.46 Z" fill="none" stroke="#1a1aff" stroke-width="0.6"/>
<path d="M597.18 124.77 L594.42 119.8 L599.94 119.8 Z" fill="none" stroke="#1a1aff" stroke-width="0.6"/>
<path d="M597.89 121.52 L595.13 116.55 L600.65 116.55 Z" fill="none" stroke="#1a1aff" stroke-width="0.6"/>
<path d="M598.6 124.38 L595.84 119.41 L601.36 119.41 Z" fill="none" stroke="#1a1aff" stroke-width="0.6"/>
<path d="M599.3 122.66 L596.54 117.69 L602.06 117.69 Z" fill="none" stroke="#1a1aff" stroke-width="0.6"/>
<path d="M600.01 124.54 L597.25 119.57 L602.77 119.57 Z" fill="none" stroke="#1a1aff" stroke-width="0.6"/>
<path d="M600.72 123.05 L597.96 118.08 L603.48 118.08 Z" fill="none" stroke="#1a1aff" stroke-width="0.6"/>
<path d="M601.42 121.61 L598.66 116.64 L604.18 116.64 Z" fill="none" stroke="#1a1aff" stroke-width="0.6"/>
<path d="M602.13 126.47 L599.37 121.5 L604.89 121.5 Z" fill="none" stroke="#1a1aff" stroke-width="0.6"/>
<path d="M602.84 124.32 L600.08 119.35 L605.6 119.35 Z" fill="none" stroke="#1a1aff" stroke-width="0.6"/>
<path d="M603.55 123.37 L600.79 118.4 L606.31 118.4 Z" fill="none" stroke="#1a1aff" stroke-width="0.6"/>
<path d="M604.25 123.97 L601.49 119 L607.01 119 Z" fill="none" stroke="#1a1aff" stroke-width="0.6"/>
<path d="M604.96 124.56 L602.2 119.59 L607.72 119.59 Z" fill="none" stroke="#1a1aff" stroke-width="0.6"/>
<path d="M605.67 121.68 L602.91 116.71 L608.43 116.71 Z" fill="none" stroke="#1a1aff" stroke-width="0.6"/>
<path d="M606.37 123.8 L603.61 118.83 L609.13 118.83 Z" fill="none" stroke="#1a1aff" stroke-width="0.6"/>
<path d="M607.08 125.56 L604.32 120.59 L609.84 120.59 Z" fill="none" stroke="#1a1aff" stroke-width="0.6"/>
<path d="M607.79 123.01 L605.03 118.04 L610.55 118.04 Z" fill="none" stroke="#1a1aff" stroke-width="0.6"/>
<path d="M608.49 125.64 L605.73 120.67 L611.25 120.67 Z" fill="none" stroke="#1a1aff" stroke-width="0.6"/>
<path d="M609.2 122.7 L606.44 117.73 L611.96 117.73 Z" fill="none" stroke="#1a1aff" stroke-width="0.6"/>
<path d="M609.91 124.47 L607.15 119.5 L612.67 119.5 Z" fill="none" stroke="#1a1aff" stroke-width="0.6"/>
<path d="M610.61 123.73 L607.85 118.76 L613.37 118.76 Z" fill="none" stroke="#1a1aff" stroke-width="0.6"/>
<path d="M611.32 122.59 L608.56 117.62 L614.08 117.62 Z" fill="none" stroke="#1a1aff" stroke-width="0.6"/>
<path d="M612.03 123.76 L609.27 118.79 L614.79 118.79 Z" fill="none" stroke="#1a1aff" stroke-width="0.6"/>
<path d="M612.73 125.3 L609.97 120.33 L615.49 120.33 Z" fill="none" stroke="#1a1aff" stroke-width="0.6"/>
<path d="M613.44 125.61 L610.68 120.64 L616.2 120.64 Z" fill="none" stroke="#1a1aff" stroke-width="0.6"/>
<path d="M614.15 122.67 L611.39 117.7 L616.91 117.7 Z" fill="none" stroke="#1a1aff" stroke-width="0.6"/>
<path d="M614.85 123.12 L612.09 118.15 L617.61 118.15 Z" fill="none" stroke="#1a1aff" stroke-width="0.6"/>
<path d="M615.56 124.71 L612.8 119.74 L618.32 119.74 Z" fill="none" stroke="#1a1aff" stroke-width="0.6"/>
<path d="M616.27 123 L613.51 118.03 L619.03 118.03 Z" fill="none" stroke="#1a1aff" stroke-width="0.6"/>
<path d="M616.97 123.37 L614.21 118.4 L619.73 118.4 Z" fill="none" stroke="#1a1aff" stroke-width="0.6"/>
<path d="M617.68 123.22 L614.92 118.25 L620.44 118.25 Z" fill="none" stroke="#1a1aff" stroke-width="0.6"/>
<path d="M618.39 126.18 L615.63 121.22 L621.15 121.22 Z" fill="none" stroke="#1a1aff" stroke-width="0.6"/>
<path d="M619.09 124.19 L616.33 119.22 L621.85 119.22 Z" fill="none" stroke="#1a1aff" stroke-width="0.6"/>
<path d="M619.8 122.96 L617.04 117.99 L622.56 117.99 Z" fill="none" stroke="#1a1aff" stroke-width="0.6"/>
<path d="M620.51 123.13 L617.75 118.16 L623.27 118.16 Z" fill="none" stroke="#1a1aff" stroke-width="0.6"/>
<path d="M621.22 122.98 L618.46 118.01 L623.98 118.01 Z" fill="none" stroke="#1a1aff" stroke-width="0.6"/>
<path d="M621.92 126.39 L619.16 121.42 L624.68 121.42 Z" fill="none" stroke="#1a1aff" stroke-width="0.6"/>
<path d="M622.63 123.71 L619.87 118.74 L625.39 118.74 Z" fill="none" stroke="#1a1aff" stroke-width="0.6"/>
<path d="M623.34 123.38 L620.58 118.41 L626.1 118.41 Z" fill="none" stroke="#1a1aff" stroke-width="0.6"/>
<path d="M624.04 121.27 L621.28 116.3 L626.8 116.3 Z" fill="none" stroke="#1a1aff" stroke-width="0.6"/>
<path d="M624.75 124.85 L621.99 119.88 L627.51 119.88 Z" fill="none" stroke="#1a1aff" stroke-width="0.6"/>
<path d="M625.46 124.21 L622.7 119.25 L628.22 119.25 Z" fill="none" stroke="#1a1aff" stroke-width="0.6"/>
<path d="M626.16 123.84 L623.4 118.87 L628.92 118.87 Z" fill="none" stroke="#1a1aff" stroke-width="0.6"/>
<path d="M626.87 122.97 L624.11 118.01 L629.63 118.01 Z" fill="none" stroke="#1a1aff" stroke-width="0.6"/>
<path d="M627.58 124.33 L624.82 119.36 L630.34 119.36 Z" fill="none" stroke="#1a1aff" stroke-width="0.6"/>
<path d="M628.28 122.71 L625.52 117.74 L631.04 117.74 Z" fill="none" stroke="#1a1aff" stroke-width="0.6"/>
<path d="M628.99 124.68 L626.23 119.71 L631.75 119.71 Z" fill="none" stroke="#1a1aff" stroke-width="0.6"/>
<path d="M629.7 123.61 L626.94 118.64 L632.46 118.64 Z" fill="none" stroke="#1a1aff" stroke-width="0.6"/>
<path d="M630.4 124.42 L627.64 119.45 L633.16 119.45 Z" fill="none" stroke="#1a1aff" stroke-width="0.6"/>
<path d="M631.11 123.72 L628.35 118.75 L633.87 118.75 Z" fill="none" stroke="#1a1aff" stroke-width="0.6"/>
<path d="M631.82 124.58 L629.06 119.61 L634.58 119.61 Z" fill="none" stroke="#1a1aff" stroke-width="0.6"/>
<path d="M632.52 125.51 L629.76 120.54 L635.28 120.54 Z" fill="none" stroke="#1a1aff" stroke-width="0.6"/>
<path d="M633.23 122.76 L630.47 117.79 L635.99 117.79 Z" fill="none" stroke="#1a1aff" stroke-width="0.6"/>
<path d="M633.94 123.57 L631.18 118.6 L636.7 118.6 Z" fill="none" stroke="#1a1aff" stroke-width="0.6"/>
<path d="M634.64 124.45 L631.88 119.48 L637.4 119.48 Z" fill="none" stroke="#1a1aff" stroke-width="0.6"/>
<path d="M635.35 123.67 L632.59 118.7 L638.11 118.7 Z" fill="none" stroke="#1a1aff" stroke-width="0.6"/>
<path d="M636.06 122.87 L633.3 117.9 L638.82 117.9 Z" fill="none" stroke="#1a1aff" stroke-width="0.6"/>
<path d="M636.76 124.88 L634 119.91 L639.52 119.91 Z" fill="none" stroke="#1a1aff" stroke-width="0.6"/>
<path d="M637.47 123.99 L634.71 119.02 L640.23 119.02 Z" fill="none" stroke="#1a1aff" stroke-width="0.6"/>
<path d="M638.18 123.33 L635.42 118.36 L640.94 118.36 Z" fill="none" stroke="#1a1aff" stroke-width="0.6"/>
<path d="M638.89 123.34 L636.13 118.37 L641.65 118.37 Z" fill="none" stroke="#1a1aff" stroke-width="0.6"/>
<path d="M639.59 124.22 L636.83 119.25 L642.35 119.25 Z" fill="none" stroke="#1a1aff" stroke-width="0.6"/>
<path d="M640.3 126.03 L637.54 121.06 L643.06 121.06 Z" fill="none" stroke="#1a1aff" stroke-width="0.6"/>
<path d="M641.01 122.61 L638.25 117.64 L643.77 117.64 Z" fill="none" stroke="#1a1aff" stroke-width="0.6"/>
<path d="M641.71 123.54 L638.95 118.57 L644.47 118.57 Z" fill="none" stroke="#1a1aff" stroke-width="0.6"/>
<path d="M642.42 123.86 L639.66 118.9 L645.18 118.9 Z" fill="none" stroke="#1a1aff" stroke-width="0.6"/>
<path d="M643.13 124.16 L640.37 119.19 L645.89 119.19 Z" fill="none" stroke="#1a1aff" stroke-width="0.6"/>
<path d="M643.83 123.61 L641.07 118.64 L646.59 118.64 Z" fill="none" stroke="#1a1aff" stroke-width="0.6"/>
<path d="M644.54 124.31 L641.78 119.34 L647.3 119.34 Z" fill="none" stroke="#1a1aff" stroke-width="0.6"/>
<path d="M645.25 124.92 L642.49 119.96 L648.01 119.96 Z" fill="none" stroke="#1a1aff" stroke-width="0.6"/>
<path d="M645.95 124.63 L643.19 119.66 L648.71 119.66 Z" fill="none" stroke="#1a1aff" stroke-width="0.6"/>
<path d="M646.66 124.49 L643.9 119.52 L649.42 119.52 Z" fill="none" stroke="#1a1aff" stroke-width="0.6"/>
</g></svg>
<rect x="502.5" y="9.5" width="153" height="115" fill="none" stroke="#555" stroke-width="1"/>
<line x1="502.5" y1="117.8" x2="505.5" y2="117.8" stroke="#555" stroke-width="1"/>
<text x="499.6" y="121.4" font-size="12.4" text-anchor="end">80</text>
<line x1="502.5" y1="85.9" x2="505.5" y2="85.9" stroke="#555" stroke-width="1"/>
<text x="499.6" y="89.5" font-size="12.4" text-anchor="end">85</text>
<line x1="502.5" y1="54" x2="505.5" y2="54" stroke="#555" stroke-width="1"/>
<text x="499.6" y="57.6" font-size="12.4" text-anchor="end">90</text>
<line x1="502.5" y1="22.1" x2="505.5" y2="22.1" stroke="#555" stroke-width="1"/>
<text x="499.6" y="25.7" font-size="12.4" text-anchor="end">95</text>
<line x1="502.5" y1="101.85" x2="504.2" y2="101.85" stroke="#555" stroke-width="1"/>
<line x1="502.5" y1="69.95" x2="504.2" y2="69.95" stroke="#555" stroke-width="1"/>
<line x1="502.5" y1="38.05" x2="504.2" y2="38.05" stroke="#555" stroke-width="1"/>
<line x1="505.3" y1="124.5" x2="505.3" y2="121.5" stroke="#555" stroke-width="1"/>
<text x="505.3" y="136.9" font-size="12.4" text-anchor="middle">0</text>
<line x1="540.64" y1="124.5" x2="540.64" y2="121.5" stroke="#555" stroke-width="1"/>
<text x="540.64" y="136.9" font-size="12.4" text-anchor="middle">50</text>
<line x1="575.98" y1="124.5" x2="575.98" y2="121.5" stroke="#555" stroke-width="1"/>
<text x="575.98" y="136.9" font-size="12.4" text-anchor="middle">100</text>
<line x1="611.32" y1="124.5" x2="611.32" y2="121.5" stroke="#555" stroke-width="1"/>
<text x="611.32" y="136.9" font-size="12.4" text-anchor="middle">150</text>
<line x1="646.66" y1="124.5" x2="646.66" y2="121.5" stroke="#555" stroke-width="1"/>
<text x="646.66" y="136.9" font-size="12.4" text-anchor="middle">200</text>
<line x1="522.97" y1="124.5" x2="522.97" y2="122.8" stroke="#555" stroke-width="1"/>
<line x1="558.31" y1="124.5" x2="558.31" y2="122.8" stroke="#555" stroke-width="1"/>
<line x1="593.65" y1="124.5" x2="593.65" y2="122.8" stroke="#555" stroke-width="1"/>
<line x1="628.99" y1="124.5" x2="628.99" y2="122.8" stroke="#555" stroke-width="1"/>
<text transform="translate(481.6 70) rotate(-90)" font-size="12.7" text-anchor="middle">Accuracy (%)</text>
<text x="576" y="150" font-size="12.7" text-anchor="middle">Iteration (#)</text>
<text x="588" y="56" font-size="9.3">synapse neuron</text>
<line x1="564.7" y1="64.5" x2="585.3" y2="64.5" stroke="#ff2a2a" stroke-width="1"/>
<rect x="573.1" y="62.4" width="4.2" height="4.2" fill="#fff" stroke="#ff2a2a" stroke-width="1"/>
<text x="595.8" y="68" font-size="9.8">SW</text>
<text x="626.8" y="68" font-size="9.8">ReLU</text>
<line x1="564.7" y1="75.8" x2="585.3" y2="75.8" stroke="#ffa64d" stroke-width="1"/>
<circle cx="575.2" cy="75.8" r="2.3" fill="#fff" stroke="#ffa64d" stroke-width="1"/>
<text x="594" y="79.3" font-size="9.8">spin-S</text>
<text x="626.8" y="79.3" font-size="9.8">ReLU</text>
<line x1="564.7" y1="87.2" x2="585.3" y2="87.2" stroke="#ff7a7a" stroke-width="1"/>
<path d="M577.6 87.2 L572.8 84.8 L572.8 89.6 Z" fill="#fff" stroke="#ff7a7a" stroke-width="1"/>
<text x="594" y="90.7" font-size="9.8">C-DW</text>
<text x="626.8" y="90.7" font-size="9.8">ReLU</text>
<line x1="564.7" y1="98.75" x2="585.3" y2="98.75" stroke="#3a3aff" stroke-width="1"/>
<path d="M575.2 101.15 L572.8 96.83 L577.6 96.83 Z" fill="#fff" stroke="#3a3aff" stroke-width="1"/>
<text x="594" y="102.25" font-size="9.8">RRAM</text>
<text x="626.8" y="102.25" font-size="9.8">ReLU</text>
<line x1="564.7" y1="110.0" x2="585.3" y2="110.0" stroke="#2a9a2a" stroke-width="1"/>
<path d="M575.2 107.6 L572.8 111.92 L577.6 111.92 Z" fill="#fff" stroke="#2a9a2a" stroke-width="1"/>
<text x="594" y="113.5" font-size="9.8">spin-S</text>
<text x="627.5" y="113.5" font-size="9.8">spin-N</text>
<text x="234.4" y="160.9" font-size="13" font-weight="bold">d</text>
<rect x="268.5" y="168.5" width="156" height="117" fill="none" stroke="#555" stroke-width="1"/>
<line x1="265.5" y1="278.2" x2="268.5" y2="278.2" stroke="#555" stroke-width="1"/>
<text x="264.2" y="281.8" font-size="12.4" text-anchor="end">2</text>
<line x1="265.5" y1="250.7" x2="268.5" y2="250.7" stroke="#555" stroke-width="1"/>
<text x="264.2" y="254.3" font-size="12.4" text-anchor="end">3</text>
<line x1="265.5" y1="223.2" x2="268.5" y2="223.2" stroke="#555" stroke-width="1"/>
<text x="264.2" y="226.8" font-size="12.4" text-anchor="end">4</text>
<line x1="265.5" y1="195.7" x2="268.5" y2="195.7" stroke="#555" stroke-width="1"/>
<text x="264.2" y="199.3" font-size="12.4" text-anchor="end">5</text>
<line x1="265.5" y1="168.2" x2="268.5" y2="168.2" stroke="#555" stroke-width="1"/>
<text x="264.2" y="171.8" font-size="12.4" text-anchor="end">6</text>
<line x1="266.8" y1="264.45" x2="268.5" y2="264.45" stroke="#555" stroke-width="1"/>
<line x1="266.8" y1="236.95" x2="268.5" y2="236.95" stroke="#555" stroke-width="1"/>
<line x1="266.8" y1="209.45" x2="268.5" y2="209.45" stroke="#555" stroke-width="1"/>
<line x1="266.8" y1="181.95" x2="268.5" y2="181.95" stroke="#555" stroke-width="1"/>
<line x1="299.2" y1="285.5" x2="299.2" y2="288.5" stroke="#555" stroke-width="1"/>
<text x="299.2" y="299.2" font-size="12.4" text-anchor="middle">10</text>
<line x1="361.9" y1="285.5" x2="361.9" y2="288.5" stroke="#555" stroke-width="1"/>
<text x="361.9" y="299.2" font-size="12.4" text-anchor="middle">20</text>
<line x1="424.6" y1="285.5" x2="424.6" y2="288.5" stroke="#555" stroke-width="1"/>
<text x="424.6" y="299.2" font-size="12.4" text-anchor="middle">30</text>
<line x1="330.55" y1="285.5" x2="330.55" y2="287.2" stroke="#555" stroke-width="1"/>
<line x1="393.25" y1="285.5" x2="393.25" y2="287.2" stroke="#555" stroke-width="1"/>
<text transform="translate(255.5 231.5) rotate(-90)" font-size="12.4" text-anchor="middle" font-style="italic">k'</text>
<text x="341.3" y="316" font-size="12.4" font-style="italic">x</text><text x="347" y="318.6" font-size="9">0</text>
<rect x="433" y="167.8" width="11.3" height="115" fill="url(#cmap)"/>
<line x1="444.3" y1="180.8" x2="446.3" y2="180.8" stroke="#888" stroke-width="0.8"/>
<text x="450.6" y="184.5" font-size="10.2">95</text>
<line x1="444.3" y1="231.9" x2="446.3" y2="231.9" stroke="#888" stroke-width="0.8"/>
<text x="450.6" y="235.6" font-size="10.2">93</text>
<line x1="444.3" y1="282.8" x2="446.3" y2="282.8" stroke="#888" stroke-width="0.8"/>
<text x="450.6" y="286.5" font-size="10.2">91</text>
<text x="430.6" y="166" font-size="9.8">Acc.</text>
<text x="472.4" y="161.2" font-size="13" font-weight="bold">e</text>
<rect x="495.5" y="168.5" width="154" height="114" fill="none" stroke="#555" stroke-width="1"/>
<line x1="492.5" y1="282.45" x2="495.5" y2="282.45" stroke="#555" stroke-width="1"/>
<text x="491.2" y="286.05" font-size="12.4" text-anchor="end">-2</text>
<line x1="492.5" y1="247.25" x2="495.5" y2="247.25" stroke="#555" stroke-width="1"/>
<text x="491.2" y="250.85" font-size="12.4" text-anchor="end">0</text>
<line x1="492.5" y1="212.05" x2="495.5" y2="212.05" stroke="#555" stroke-width="1"/>
<text x="491.2" y="215.65" font-size="12.4" text-anchor="end">2</text>
<line x1="492.5" y1="176.85" x2="495.5" y2="176.85" stroke="#555" stroke-width="1"/>
<text x="491.2" y="180.45" font-size="12.4" text-anchor="end">4</text>
<line x1="493.8" y1="264.85" x2="495.5" y2="264.85" stroke="#555" stroke-width="1"/>
<line x1="493.8" y1="229.65" x2="495.5" y2="229.65" stroke="#555" stroke-width="1"/>
<line x1="493.8" y1="194.45" x2="495.5" y2="194.45" stroke="#555" stroke-width="1"/>
<line x1="495.4" y1="282.8" x2="495.4" y2="285.8" stroke="#555" stroke-width="1"/>
<text x="495.4" y="296.9" font-size="12.4" text-anchor="middle">-2</text>
<line x1="543.3" y1="282.8" x2="543.3" y2="285.8" stroke="#555" stroke-width="1"/>
<text x="543.3" y="296.9" font-size="12.4" text-anchor="middle">0</text>
<line x1="591.2" y1="282.8" x2="591.2" y2="285.8" stroke="#555" stroke-width="1"/>
<text x="591.2" y="296.9" font-size="12.4" text-anchor="middle">2</text>
<line x1="639.1" y1="282.8" x2="639.1" y2="285.8" stroke="#555" stroke-width="1"/>
<text x="639.1" y="296.9" font-size="12.4" text-anchor="middle">4</text>
<line x1="519.35" y1="282.8" x2="519.35" y2="284.5" stroke="#555" stroke-width="1"/>
<line x1="567.25" y1="282.8" x2="567.25" y2="284.5" stroke="#555" stroke-width="1"/>
<line x1="615.15" y1="282.8" x2="615.15" y2="284.5" stroke="#555" stroke-width="1"/>
<text transform="translate(476.2 218.3) rotate(-90)" font-size="12.6" text-anchor="middle"><tspan font-style="italic" font-family="Liberation Serif, serif" font-size="13">&#946;</tspan><tspan font-size="8.5" dy="2.5">d</tspan><tspan dy="-2.5"> (10</tspan><tspan font-size="8.5" dy="-4">-3</tspan><tspan dy="4">)</tspan></text>
<text x="572.3" y="315.2" font-size="12.2" text-anchor="middle"><tspan font-style="italic" font-family="Liberation Serif, serif" font-size="13">&#946;</tspan><tspan font-size="8.5" dy="2.5">p</tspan><tspan dy="-2.5"> (10</tspan><tspan font-size="8.5" dy="-4">-3</tspan><tspan dy="4">)</tspan></text>
<rect x="657.8" y="168.7" width="10.6" height="111.5" fill="url(#cmap)"/>
<line x1="668.4" y1="180" x2="670.4" y2="180" stroke="#888" stroke-width="0.8"/>
<text x="674.5" y="183.7" font-size="10.2">96</text>
<line x1="668.4" y1="204.95" x2="670.4" y2="204.95" stroke="#888" stroke-width="0.8"/>
<text x="674.5" y="208.65" font-size="10.2">93</text>
<line x1="668.4" y1="229.9" x2="670.4" y2="229.9" stroke="#888" stroke-width="0.8"/>
<text x="674.5" y="233.6" font-size="10.2">90</text>
<line x1="668.4" y1="254.85" x2="670.4" y2="254.85" stroke="#888" stroke-width="0.8"/>
<text x="674.5" y="258.55" font-size="10.2">87</text>
<line x1="668.4" y1="279.8" x2="670.4" y2="279.8" stroke="#888" stroke-width="0.8"/>
<text x="674.5" y="283.5" font-size="10.2">84</text>
<text x="654.5" y="166.6" font-size="9.8">Acc.</text>
</svg>
<script>
(function(){
function cmap(u){
  if(u<0)u=0; if(u>1)u=1;
  var r,g,b;
  if(u<0.25){var t=u/0.25;r=0;g=255*t;b=255;}
  else if(u<0.5){var t=(u-0.25)/0.25;r=0;g=255;b=255*(1-t);}
  else if(u<0.75){var t=(u-0.5)/0.25;r=255*t;g=255;b=0;}
  else {var t=(u-0.75)/0.25;r=255;g=255*(1-t);b=0;}
  return [r,g,b];
}
function lin(x,xs,ys){
  var n=xs.length;
  if(x<=xs[0])return ys[0];
  if(x>=xs[n-1])return ys[n-1];
  for(var i=0;i<n-1;i++){ if(x<=xs[i+1]){var t=(x-xs[i])/(xs[i+1]-xs[i]);return ys[i]+t*(ys[i+1]-ys[i]);} }
  return ys[n-1];
}
function blur(arr,W,H,r){
  var out=new Float32Array(W*H), tmp=new Float32Array(W*H);
  for(var y=0;y<H;y++)for(var x=0;x<W;x++){var s=0,c=0;for(var k=-r;k<=r;k++){var xx=x+k;if(xx<0)xx=0;if(xx>=W)xx=W-1;s+=arr[y*W+xx];c++;}tmp[y*W+x]=s/c;}
  for(var y=0;y<H;y++)for(var x=0;x<W;x++){var s=0,c=0;for(var k=-r;k<=r;k++){var yy=y+k;if(yy<0)yy=0;if(yy>=H)yy=H-1;s+=tmp[yy*W+x];c++;}out[y*W+x]=s/c;}
  return out;
}
function paint(id,W,H,fn,ox,oy,br){
  var c=document.getElementById(id); var ctx=c.getContext('2d');
  var u=new Float32Array(W*H);
  for(var j=0;j<H;j++)for(var i=0;i<W;i++){u[j*W+i]=fn(ox+i+0.5,oy+j+0.5);}
  if(br>0){u=blur(u,W,H,br);u=blur(u,W,H,br);}
  var img=ctx.createImageData(W,H);
  for(var k=0;k<W*H;k++){var col=cmap(u[k]);img.data[4*k]=col[0];img.data[4*k+1]=col[1];img.data[4*k+2]=col[2];img.data[4*k+3]=255;}
  ctx.putImageData(img,0,0);
}
// ---- panel d ----
var DC=[
 [5,   [1.71,2.0,2.44,2.85,3.4,4.0,4.8,5.3,6.0],[0.41,0.5,0.75,0.805,0.85,0.88,0.92,0.93,0.90]],
 [10,  [1.71,2.02,2.44,2.85,3.3,4.3,5.0,6.0],[0.40,0.5,0.75,0.805,0.85,0.89,0.905,0.89]],
 [12,  [1.71,1.85,2.1,2.47,2.85,3.3,4.3,5.0,6.0],[0.30,0.37,0.5,0.75,0.8,0.85,0.885,0.895,0.885]],
 [13.3,[1.71,1.85,2.15,2.5,2.9,3.3,4.3,5.0,6.0],[0.05,0.25,0.5,0.75,0.8,0.85,0.88,0.89,0.88]],
 [15,  [1.71,1.8,1.98,2.19,2.53,2.9,3.4,4.5,6.0],[0.0,0.03,0.25,0.5,0.75,0.8,0.85,0.875,0.875]],
 [16.8,[1.71,1.85,2.22,2.58,2.95,3.4,4.5,6.0],[0.05,0.25,0.5,0.75,0.8,0.845,0.87,0.87]],
 [18,  [1.71,1.88,2.25,2.62,3.0,3.5,4.5,6.0],[0.22,0.27,0.5,0.75,0.8,0.84,0.865,0.87]],
 [19.5,[1.71,1.84,2.3,2.68,3.05,3.6,4.5,6.0],[0.18,0.25,0.5,0.75,0.8,0.835,0.86,0.865]],
 [21,  [1.71,1.85,2.33,2.74,3.12,3.7,4.5,6.0],[0.1,0.25,0.5,0.75,0.8,0.83,0.85,0.86]],
 [24,  [1.71,1.82,1.95,2.4,2.83,3.25,4.0,5.0,6.0],[0.0,0.05,0.25,0.5,0.75,0.79,0.82,0.845,0.855]],
 [30,  [1.71,1.9,2.04,2.6,3.2,3.6,4.0,4.5,5.5,6.0],[0.0,0.05,0.25,0.5,0.75,0.775,0.79,0.805,0.825,0.83]]
];
function fd(px,py){
  var x0=10+(px-299.2)/6.27, k=6-(py-168.2)/27.2;
  var vals=[],xs=[];
  for(var i=0;i<DC.length;i++){xs.push(DC[i][0]);vals.push(lin(k,DC[i][1],DC[i][2]));}
  return lin(x0,xs,vals);
}
// ---- panel e ----
function fe(px,py){
  var p=(px-543.3)/23.95, d=(247.25-py)/17.6;
  var s=p+d, w=p-d;
  var wc=lin(s,[-4,-2.8,-0.5,2,3.3,4.8,6.5,9],[0.1,0.15,0.1,0.15,0.05,-0.2,0.0,0.3]);
  var P=lin(s,[-4,-2,1,3.3,4.8,6.5,7.7,9],[0.96,0.995,0.94,0.915,0.877,0.815,0.79,0.765]);
  var dw=w-wc, lam;
  if(dw<0) lam=lin(s,[-4,-2.9,-0.8,0.16,3.2,5,6.1,9],[1.1,1.25,1.7,1.9,2.37,2.09,2.96,3.6]);
  else lam=lin(s,[-4,-2.64,-0.15,1.89,3.34,6.4,9],[1.1,1.27,1.74,2.28,2.37,2.4,2.6]);
  var x=dw/lam, c=0.444;
  var fval=(1-x*x)/(1+c*x*x);
  var u=0.75+(P-0.75)*fval;
  u-=0.09*Math.exp(-((p+2)*(p+2)/(2*0.8*0.8)+(d-4.48)*(d-4.48)/(2*1.2*1.2)));
  return u;
}
paint('mapd',157,118,fd,268,168,2);
paint('mape',155,115,fe,495,168,2);
})();

</script>
</body></html>
